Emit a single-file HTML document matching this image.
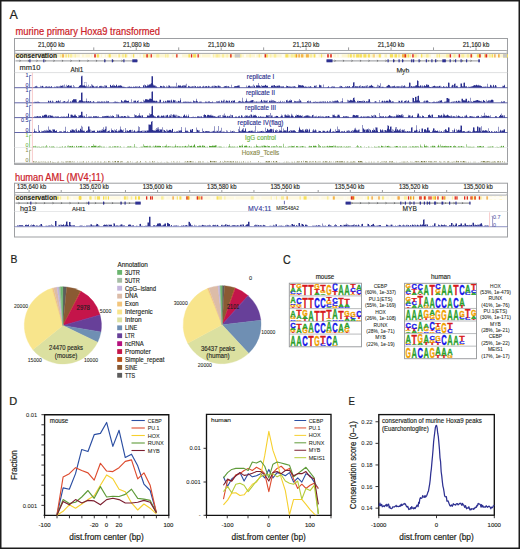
<!DOCTYPE html>
<html><head><meta charset="utf-8"><style>
html,body{margin:0;padding:0;background:#fff;}
svg{display:block;}
text{font-family:"Liberation Sans", sans-serif;}
text.t{stroke-linejoin:round;}
</style></head><body>
<svg width="520" height="549" viewBox="0 0 520 549">
<rect x="0" y="0" width="520" height="549" fill="#fff"/>
<text class="t" x="9.60" y="18.80" font-size="12.5" fill="#231f20" stroke="#231f20" stroke-width="0.22" text-anchor="start" >A</text>
<text class="t" x="10.60" y="263.30" font-size="11.5" fill="#231f20" stroke="#231f20" stroke-width="0.22" text-anchor="start" textLength="6.9" lengthAdjust="spacingAndGlyphs" >B</text>
<text class="t" x="282.90" y="263.60" font-size="12" fill="#231f20" stroke="#231f20" stroke-width="0.22" text-anchor="start" textLength="7.7" lengthAdjust="spacingAndGlyphs" >C</text>
<text class="t" x="9.20" y="404.70" font-size="11" fill="#231f20" stroke="#231f20" stroke-width="0.22" text-anchor="start" >D</text>
<text class="t" x="348.40" y="404.70" font-size="10.5" fill="#231f20" stroke="#231f20" stroke-width="0.22" text-anchor="start" textLength="6.4" lengthAdjust="spacingAndGlyphs" >E</text>
<text class="t" x="15.50" y="34.90" font-size="10.2" fill="#cc2229" stroke="#cc2229" stroke-width="0.22" text-anchor="start" textLength="144.5" lengthAdjust="spacingAndGlyphs" >murine primary Hoxa9 transformed</text>
<line x1="14.50" y1="164.00" x2="507.50" y2="164.00" stroke="#a0a2a5" stroke-width="1.4" />
<rect x="14.50" y="38.50" width="493.00" height="125.70" fill="none" stroke="#9d9fa2" stroke-width="1" />
<text class="t" x="51.30" y="46.60" font-size="6.4" fill="#231f20" stroke="#231f20" stroke-width="0.14" text-anchor="middle" textLength="26.5" lengthAdjust="spacingAndGlyphs" >21,060 kb</text>
<text class="t" x="136.30" y="46.60" font-size="6.4" fill="#231f20" stroke="#231f20" stroke-width="0.14" text-anchor="middle" textLength="26.5" lengthAdjust="spacingAndGlyphs" >21,080 kb</text>
<text class="t" x="221.20" y="46.60" font-size="6.4" fill="#231f20" stroke="#231f20" stroke-width="0.14" text-anchor="middle" textLength="26.5" lengthAdjust="spacingAndGlyphs" >21,100 kb</text>
<text class="t" x="306.10" y="46.60" font-size="6.4" fill="#231f20" stroke="#231f20" stroke-width="0.14" text-anchor="middle" textLength="26.5" lengthAdjust="spacingAndGlyphs" >21,120 kb</text>
<text class="t" x="391.00" y="46.60" font-size="6.4" fill="#231f20" stroke="#231f20" stroke-width="0.14" text-anchor="middle" textLength="26.5" lengthAdjust="spacingAndGlyphs" >21,140 kb</text>
<text class="t" x="476.00" y="46.60" font-size="6.4" fill="#231f20" stroke="#231f20" stroke-width="0.14" text-anchor="middle" textLength="26.5" lengthAdjust="spacingAndGlyphs" >21,160 kb</text>
<line x1="51.30" y1="47.40" x2="51.30" y2="50.00" stroke="#808285" stroke-width="0.8" />
<line x1="93.77" y1="47.40" x2="93.77" y2="50.00" stroke="#808285" stroke-width="0.8" />
<line x1="136.24" y1="47.40" x2="136.24" y2="50.00" stroke="#808285" stroke-width="0.8" />
<line x1="178.71" y1="47.40" x2="178.71" y2="50.00" stroke="#808285" stroke-width="0.8" />
<line x1="221.18" y1="47.40" x2="221.18" y2="50.00" stroke="#808285" stroke-width="0.8" />
<line x1="263.65" y1="47.40" x2="263.65" y2="50.00" stroke="#808285" stroke-width="0.8" />
<line x1="306.12" y1="47.40" x2="306.12" y2="50.00" stroke="#808285" stroke-width="0.8" />
<line x1="348.59" y1="47.40" x2="348.59" y2="50.00" stroke="#808285" stroke-width="0.8" />
<line x1="391.06" y1="47.40" x2="391.06" y2="50.00" stroke="#808285" stroke-width="0.8" />
<line x1="433.53" y1="47.40" x2="433.53" y2="50.00" stroke="#808285" stroke-width="0.8" />
<line x1="476.00" y1="47.40" x2="476.00" y2="50.00" stroke="#808285" stroke-width="0.8" />
<rect x="14.50" y="50.50" width="493.00" height="2.90" rx="1.5" fill="#fff" stroke="#9d9fa2" stroke-width="0.9"/>
<rect x="15.00" y="54.20" width="492.00" height="3.30" fill="#fdf6d2" stroke="none" stroke-width="1" />
<rect x="15.50" y="54.20" width="1.00" height="3.30" fill="#faee9a" stroke="none" stroke-width="1" />
<rect x="19.00" y="54.20" width="1.00" height="3.30" fill="#faee9a" stroke="none" stroke-width="1" />
<rect x="20.30" y="54.20" width="1.00" height="3.30" fill="#faee9a" stroke="none" stroke-width="1" />
<rect x="24.90" y="54.20" width="0.80" height="3.30" fill="#faee9a" stroke="none" stroke-width="1" />
<rect x="26.50" y="54.20" width="2.00" height="3.30" fill="#fffdf2" stroke="none" stroke-width="1" />
<rect x="29.30" y="54.20" width="1.30" height="3.30" fill="#fffdf2" stroke="none" stroke-width="1" />
<rect x="33.10" y="54.20" width="2.00" height="3.30" fill="#fffdf2" stroke="none" stroke-width="1" />
<rect x="37.70" y="54.20" width="1.60" height="3.30" fill="#fffdf2" stroke="none" stroke-width="1" />
<rect x="44.60" y="54.20" width="1.60" height="3.30" fill="#faee9a" stroke="none" stroke-width="1" />
<rect x="50.30" y="54.20" width="2.50" height="3.30" fill="#fffdf2" stroke="none" stroke-width="1" />
<rect x="55.30" y="54.20" width="0.80" height="3.30" fill="#f7e05a" stroke="none" stroke-width="1" />
<rect x="60.20" y="54.20" width="1.30" height="3.30" fill="#faee9a" stroke="none" stroke-width="1" />
<rect x="62.30" y="54.20" width="0.80" height="3.30" fill="#f7e05a" stroke="none" stroke-width="1" />
<rect x="65.60" y="54.20" width="1.00" height="3.30" fill="#f7e05a" stroke="none" stroke-width="1" />
<rect x="68.10" y="54.20" width="0.80" height="3.30" fill="#f7e05a" stroke="none" stroke-width="1" />
<rect x="69.70" y="54.20" width="2.50" height="3.30" fill="#faee9a" stroke="none" stroke-width="1" />
<rect x="74.70" y="54.20" width="1.00" height="3.30" fill="#faee9a" stroke="none" stroke-width="1" />
<rect x="79.90" y="54.20" width="2.00" height="3.30" fill="#fffdf2" stroke="none" stroke-width="1" />
<rect x="84.40" y="54.20" width="1.00" height="3.30" fill="#fffdf2" stroke="none" stroke-width="1" />
<rect x="90.10" y="54.20" width="0.80" height="3.30" fill="#fffdf2" stroke="none" stroke-width="1" />
<rect x="92.40" y="54.20" width="3.00" height="3.30" fill="#fffdf2" stroke="none" stroke-width="1" />
<rect x="96.90" y="54.20" width="2.00" height="3.30" fill="#f7e05a" stroke="none" stroke-width="1" />
<rect x="99.70" y="54.20" width="1.00" height="3.30" fill="#fffdf2" stroke="none" stroke-width="1" />
<rect x="102.20" y="54.20" width="2.50" height="3.30" fill="#fffdf2" stroke="none" stroke-width="1" />
<rect x="106.20" y="54.20" width="1.00" height="3.30" fill="#fffdf2" stroke="none" stroke-width="1" />
<rect x="108.70" y="54.20" width="2.00" height="3.30" fill="#f7e05a" stroke="none" stroke-width="1" />
<rect x="117.30" y="54.20" width="1.00" height="3.30" fill="#fffdf2" stroke="none" stroke-width="1" />
<rect x="118.60" y="54.20" width="1.00" height="3.30" fill="#f7e05a" stroke="none" stroke-width="1" />
<rect x="122.10" y="54.20" width="2.00" height="3.30" fill="#faee9a" stroke="none" stroke-width="1" />
<rect x="124.90" y="54.20" width="1.60" height="3.30" fill="#f7e05a" stroke="none" stroke-width="1" />
<rect x="128.00" y="54.20" width="2.50" height="3.30" fill="#fffdf2" stroke="none" stroke-width="1" />
<rect x="133.00" y="54.20" width="1.30" height="3.30" fill="#f7e05a" stroke="none" stroke-width="1" />
<rect x="134.60" y="54.20" width="2.50" height="3.30" fill="#fffdf2" stroke="none" stroke-width="1" />
<rect x="137.40" y="54.20" width="2.00" height="3.30" fill="#fffdf2" stroke="none" stroke-width="1" />
<rect x="140.90" y="54.20" width="2.00" height="3.30" fill="#fffdf2" stroke="none" stroke-width="1" />
<rect x="143.20" y="54.20" width="1.00" height="3.30" fill="#faee9a" stroke="none" stroke-width="1" />
<rect x="144.50" y="54.20" width="1.00" height="3.30" fill="#faee9a" stroke="none" stroke-width="1" />
<rect x="147.00" y="54.20" width="3.00" height="3.30" fill="#faee9a" stroke="none" stroke-width="1" />
<rect x="156.30" y="54.20" width="3.00" height="3.30" fill="#faee9a" stroke="none" stroke-width="1" />
<rect x="165.10" y="54.20" width="1.30" height="3.30" fill="#faee9a" stroke="none" stroke-width="1" />
<rect x="167.20" y="54.20" width="1.30" height="3.30" fill="#faee9a" stroke="none" stroke-width="1" />
<rect x="169.30" y="54.20" width="2.50" height="3.30" fill="#fffdf2" stroke="none" stroke-width="1" />
<rect x="174.30" y="54.20" width="1.00" height="3.30" fill="#fffdf2" stroke="none" stroke-width="1" />
<rect x="177.80" y="54.20" width="1.00" height="3.30" fill="#fffdf2" stroke="none" stroke-width="1" />
<rect x="179.10" y="54.20" width="3.00" height="3.30" fill="#fffdf2" stroke="none" stroke-width="1" />
<rect x="188.40" y="54.20" width="1.60" height="3.30" fill="#f7e05a" stroke="none" stroke-width="1" />
<rect x="193.10" y="54.20" width="3.00" height="3.30" fill="#f7e05a" stroke="none" stroke-width="1" />
<rect x="196.90" y="54.20" width="1.30" height="3.30" fill="#fffdf2" stroke="none" stroke-width="1" />
<rect x="200.70" y="54.20" width="1.00" height="3.30" fill="#fffdf2" stroke="none" stroke-width="1" />
<rect x="210.50" y="54.20" width="2.00" height="3.30" fill="#fffdf2" stroke="none" stroke-width="1" />
<rect x="213.30" y="54.20" width="0.80" height="3.30" fill="#faee9a" stroke="none" stroke-width="1" />
<rect x="215.60" y="54.20" width="0.80" height="3.30" fill="#faee9a" stroke="none" stroke-width="1" />
<rect x="216.70" y="54.20" width="0.80" height="3.30" fill="#f7e05a" stroke="none" stroke-width="1" />
<rect x="218.30" y="54.20" width="1.30" height="3.30" fill="#faee9a" stroke="none" stroke-width="1" />
<rect x="222.10" y="54.20" width="2.00" height="3.30" fill="#faee9a" stroke="none" stroke-width="1" />
<rect x="226.60" y="54.20" width="1.00" height="3.30" fill="#faee9a" stroke="none" stroke-width="1" />
<rect x="230.10" y="54.20" width="0.80" height="3.30" fill="#f7e05a" stroke="none" stroke-width="1" />
<rect x="235.00" y="54.20" width="1.60" height="3.30" fill="#faee9a" stroke="none" stroke-width="1" />
<rect x="236.90" y="54.20" width="0.80" height="3.30" fill="#faee9a" stroke="none" stroke-width="1" />
<rect x="238.50" y="54.20" width="3.00" height="3.30" fill="#faee9a" stroke="none" stroke-width="1" />
<rect x="244.00" y="54.20" width="2.00" height="3.30" fill="#fffdf2" stroke="none" stroke-width="1" />
<rect x="249.60" y="54.20" width="1.00" height="3.30" fill="#faee9a" stroke="none" stroke-width="1" />
<rect x="255.00" y="54.20" width="1.30" height="3.30" fill="#fffdf2" stroke="none" stroke-width="1" />
<rect x="258.80" y="54.20" width="0.80" height="3.30" fill="#f7e05a" stroke="none" stroke-width="1" />
<rect x="262.10" y="54.20" width="2.00" height="3.30" fill="#fffdf2" stroke="none" stroke-width="1" />
<rect x="264.90" y="54.20" width="1.00" height="3.30" fill="#fffdf2" stroke="none" stroke-width="1" />
<rect x="266.20" y="54.20" width="1.60" height="3.30" fill="#f7e05a" stroke="none" stroke-width="1" />
<rect x="270.30" y="54.20" width="1.00" height="3.30" fill="#faee9a" stroke="none" stroke-width="1" />
<rect x="273.80" y="54.20" width="2.50" height="3.30" fill="#faee9a" stroke="none" stroke-width="1" />
<rect x="281.60" y="54.20" width="3.00" height="3.30" fill="#fffdf2" stroke="none" stroke-width="1" />
<rect x="285.40" y="54.20" width="2.50" height="3.30" fill="#f7e05a" stroke="none" stroke-width="1" />
<rect x="288.20" y="54.20" width="1.00" height="3.30" fill="#faee9a" stroke="none" stroke-width="1" />
<rect x="290.70" y="54.20" width="3.00" height="3.30" fill="#faee9a" stroke="none" stroke-width="1" />
<rect x="294.50" y="54.20" width="1.60" height="3.30" fill="#f7e05a" stroke="none" stroke-width="1" />
<rect x="298.60" y="54.20" width="0.80" height="3.30" fill="#faee9a" stroke="none" stroke-width="1" />
<rect x="300.90" y="54.20" width="2.50" height="3.30" fill="#f5b548" stroke="none" stroke-width="1" />
<rect x="305.90" y="54.20" width="3.00" height="3.30" fill="#f5b548" stroke="none" stroke-width="1" />
<rect x="309.70" y="54.20" width="2.50" height="3.30" fill="#faee9a" stroke="none" stroke-width="1" />
<rect x="313.70" y="54.20" width="1.60" height="3.30" fill="#f7e05a" stroke="none" stroke-width="1" />
<rect x="316.10" y="54.20" width="2.50" height="3.30" fill="#fffdf2" stroke="none" stroke-width="1" />
<rect x="321.10" y="54.20" width="1.00" height="3.30" fill="#f7e05a" stroke="none" stroke-width="1" />
<rect x="324.60" y="54.20" width="1.00" height="3.30" fill="#fffdf2" stroke="none" stroke-width="1" />
<rect x="325.90" y="54.20" width="3.00" height="3.30" fill="#fffdf2" stroke="none" stroke-width="1" />
<rect x="331.40" y="54.20" width="2.00" height="3.30" fill="#fffdf2" stroke="none" stroke-width="1" />
<rect x="335.90" y="54.20" width="1.30" height="3.30" fill="#fffdf2" stroke="none" stroke-width="1" />
<rect x="338.70" y="54.20" width="3.00" height="3.30" fill="#fffdf2" stroke="none" stroke-width="1" />
<rect x="347.70" y="54.20" width="1.30" height="3.30" fill="#faee9a" stroke="none" stroke-width="1" />
<rect x="349.80" y="54.20" width="2.00" height="3.30" fill="#f7e05a" stroke="none" stroke-width="1" />
<rect x="353.30" y="54.20" width="1.30" height="3.30" fill="#f7e05a" stroke="none" stroke-width="1" />
<rect x="356.10" y="54.20" width="3.00" height="3.30" fill="#f7e05a" stroke="none" stroke-width="1" />
<rect x="359.40" y="54.20" width="2.50" height="3.30" fill="#f7e05a" stroke="none" stroke-width="1" />
<rect x="363.40" y="54.20" width="3.00" height="3.30" fill="#f7e05a" stroke="none" stroke-width="1" />
<rect x="367.90" y="54.20" width="2.00" height="3.30" fill="#f7e05a" stroke="none" stroke-width="1" />
<rect x="372.40" y="54.20" width="0.80" height="3.30" fill="#faee9a" stroke="none" stroke-width="1" />
<rect x="373.50" y="54.20" width="1.00" height="3.30" fill="#f5b548" stroke="none" stroke-width="1" />
<rect x="375.30" y="54.20" width="0.80" height="3.30" fill="#fffdf2" stroke="none" stroke-width="1" />
<rect x="378.80" y="54.20" width="2.00" height="3.30" fill="#f7e05a" stroke="none" stroke-width="1" />
<rect x="381.60" y="54.20" width="2.50" height="3.30" fill="#fffdf2" stroke="none" stroke-width="1" />
<rect x="385.60" y="54.20" width="0.80" height="3.30" fill="#faee9a" stroke="none" stroke-width="1" />
<rect x="387.20" y="54.20" width="2.00" height="3.30" fill="#fffdf2" stroke="none" stroke-width="1" />
<rect x="390.00" y="54.20" width="3.00" height="3.30" fill="#f7e05a" stroke="none" stroke-width="1" />
<rect x="394.50" y="54.20" width="2.50" height="3.30" fill="#f7e05a" stroke="none" stroke-width="1" />
<rect x="398.50" y="54.20" width="1.00" height="3.30" fill="#f7e05a" stroke="none" stroke-width="1" />
<rect x="402.00" y="54.20" width="3.00" height="3.30" fill="#f5b548" stroke="none" stroke-width="1" />
<rect x="405.30" y="54.20" width="2.00" height="3.30" fill="#faee9a" stroke="none" stroke-width="1" />
<rect x="407.60" y="54.20" width="1.60" height="3.30" fill="#f7e05a" stroke="none" stroke-width="1" />
<rect x="410.00" y="54.20" width="1.00" height="3.30" fill="#faee9a" stroke="none" stroke-width="1" />
<rect x="411.80" y="54.20" width="1.60" height="3.30" fill="#fffdf2" stroke="none" stroke-width="1" />
<rect x="414.20" y="54.20" width="2.50" height="3.30" fill="#faee9a" stroke="none" stroke-width="1" />
<rect x="419.20" y="54.20" width="1.00" height="3.30" fill="#fffdf2" stroke="none" stroke-width="1" />
<rect x="421.00" y="54.20" width="1.30" height="3.30" fill="#f7e05a" stroke="none" stroke-width="1" />
<rect x="426.10" y="54.20" width="2.50" height="3.30" fill="#faee9a" stroke="none" stroke-width="1" />
<rect x="431.10" y="54.20" width="3.00" height="3.30" fill="#fffdf2" stroke="none" stroke-width="1" />
<rect x="434.40" y="54.20" width="1.30" height="3.30" fill="#fffdf2" stroke="none" stroke-width="1" />
<rect x="436.50" y="54.20" width="1.60" height="3.30" fill="#faee9a" stroke="none" stroke-width="1" />
<rect x="438.90" y="54.20" width="0.80" height="3.30" fill="#f7e05a" stroke="none" stroke-width="1" />
<rect x="446.20" y="54.20" width="3.00" height="3.30" fill="#faee9a" stroke="none" stroke-width="1" />
<rect x="449.50" y="54.20" width="2.50" height="3.30" fill="#fffdf2" stroke="none" stroke-width="1" />
<rect x="453.50" y="54.20" width="2.00" height="3.30" fill="#faee9a" stroke="none" stroke-width="1" />
<rect x="458.00" y="54.20" width="2.50" height="3.30" fill="#fffdf2" stroke="none" stroke-width="1" />
<rect x="461.30" y="54.20" width="3.00" height="3.30" fill="#faee9a" stroke="none" stroke-width="1" />
<rect x="466.80" y="54.20" width="2.50" height="3.30" fill="#faee9a" stroke="none" stroke-width="1" />
<rect x="470.80" y="54.20" width="2.00" height="3.30" fill="#faee9a" stroke="none" stroke-width="1" />
<rect x="473.60" y="54.20" width="2.00" height="3.30" fill="#fffdf2" stroke="none" stroke-width="1" />
<rect x="477.10" y="54.20" width="3.00" height="3.30" fill="#f7e05a" stroke="none" stroke-width="1" />
<rect x="482.60" y="54.20" width="1.30" height="3.30" fill="#fffdf2" stroke="none" stroke-width="1" />
<rect x="484.20" y="54.20" width="0.80" height="3.30" fill="#f7e05a" stroke="none" stroke-width="1" />
<rect x="488.80" y="54.20" width="2.00" height="3.30" fill="#faee9a" stroke="none" stroke-width="1" />
<rect x="491.60" y="54.20" width="1.60" height="3.30" fill="#f7e05a" stroke="none" stroke-width="1" />
<rect x="493.50" y="54.20" width="3.00" height="3.30" fill="#fffdf2" stroke="none" stroke-width="1" />
<rect x="497.30" y="54.20" width="1.60" height="3.30" fill="#fffdf2" stroke="none" stroke-width="1" />
<rect x="499.20" y="54.20" width="0.80" height="3.30" fill="#faee9a" stroke="none" stroke-width="1" />
<rect x="503.10" y="54.20" width="2.00" height="3.30" fill="#f7e05a" stroke="none" stroke-width="1" />
<rect x="505.40" y="54.20" width="2.50" height="3.30" fill="#f7e05a" stroke="none" stroke-width="1" />
<rect x="62.50" y="54.20" width="1.20" height="3.30" fill="#f09a2a" stroke="none" stroke-width="1" />
<rect x="94.20" y="54.20" width="1.60" height="3.30" fill="#e0281c" stroke="none" stroke-width="1" />
<rect x="146.30" y="54.20" width="1.50" height="3.30" fill="#e0281c" stroke="none" stroke-width="1" />
<rect x="150.60" y="54.20" width="1.30" height="3.30" fill="#e0281c" stroke="none" stroke-width="1" />
<rect x="176.20" y="54.20" width="1.30" height="3.30" fill="#e0281c" stroke="none" stroke-width="1" />
<rect x="190.90" y="54.20" width="1.30" height="3.30" fill="#e0281c" stroke="none" stroke-width="1" />
<rect x="197.50" y="54.20" width="1.30" height="3.30" fill="#e0281c" stroke="none" stroke-width="1" />
<rect x="230.20" y="54.20" width="1.40" height="3.30" fill="#e0281c" stroke="none" stroke-width="1" />
<rect x="234.70" y="54.20" width="5.50" height="3.30" fill="#c8c8c8" stroke="none" stroke-width="1" />
<rect x="264.60" y="54.20" width="1.50" height="3.30" fill="#e0281c" stroke="none" stroke-width="1" />
<rect x="296.00" y="54.20" width="1.20" height="3.30" fill="#f09a2a" stroke="none" stroke-width="1" />
<rect x="298.50" y="54.20" width="1.20" height="3.30" fill="#f09a2a" stroke="none" stroke-width="1" />
<rect x="327.20" y="54.20" width="1.60" height="3.30" fill="#e0281c" stroke="none" stroke-width="1" />
<rect x="330.20" y="54.20" width="1.60" height="3.30" fill="#e0281c" stroke="none" stroke-width="1" />
<rect x="404.60" y="54.20" width="1.50" height="3.30" fill="#e0281c" stroke="none" stroke-width="1" />
<rect x="412.20" y="54.20" width="1.50" height="3.30" fill="#e0281c" stroke="none" stroke-width="1" />
<rect x="449.60" y="54.20" width="1.50" height="3.30" fill="#e0281c" stroke="none" stroke-width="1" />
<rect x="458.60" y="54.20" width="1.50" height="3.30" fill="#e0281c" stroke="none" stroke-width="1" />
<rect x="470.50" y="54.20" width="1.40" height="3.30" fill="#e0281c" stroke="none" stroke-width="1" />
<rect x="479.20" y="54.20" width="1.50" height="3.30" fill="#e0281c" stroke="none" stroke-width="1" />
<rect x="485.40" y="54.20" width="1.80" height="3.30" fill="#e0281c" stroke="none" stroke-width="1" />
<rect x="494.30" y="54.20" width="1.20" height="3.30" fill="#f09a2a" stroke="none" stroke-width="1" />
<rect x="498.20" y="54.20" width="1.20" height="3.30" fill="#f09a2a" stroke="none" stroke-width="1" />
<rect x="503.00" y="54.20" width="4.00" height="3.30" fill="#c8c8c8" stroke="none" stroke-width="1" />
<text class="t" x="15.80" y="57.90" font-size="7.3" fill="#231f20" stroke="#231f20" stroke-width="0.14" text-anchor="start" font-weight="bold" textLength="41.2" lengthAdjust="spacingAndGlyphs" >conservation</text>
<line x1="15.50" y1="60.80" x2="138.00" y2="60.80" stroke="#a7a9ac" stroke-width="1.3" />
<line x1="19.40" y1="60.00" x2="20.60" y2="60.80" stroke="#58595b" stroke-width="0.6" />
<line x1="19.40" y1="61.60" x2="20.60" y2="60.80" stroke="#58595b" stroke-width="0.6" />
<line x1="27.90" y1="60.00" x2="29.10" y2="60.80" stroke="#58595b" stroke-width="0.6" />
<line x1="27.90" y1="61.60" x2="29.10" y2="60.80" stroke="#58595b" stroke-width="0.6" />
<line x1="36.40" y1="60.00" x2="37.60" y2="60.80" stroke="#58595b" stroke-width="0.6" />
<line x1="36.40" y1="61.60" x2="37.60" y2="60.80" stroke="#58595b" stroke-width="0.6" />
<line x1="44.90" y1="60.00" x2="46.10" y2="60.80" stroke="#58595b" stroke-width="0.6" />
<line x1="44.90" y1="61.60" x2="46.10" y2="60.80" stroke="#58595b" stroke-width="0.6" />
<line x1="53.40" y1="60.00" x2="54.60" y2="60.80" stroke="#58595b" stroke-width="0.6" />
<line x1="53.40" y1="61.60" x2="54.60" y2="60.80" stroke="#58595b" stroke-width="0.6" />
<line x1="61.90" y1="60.00" x2="63.10" y2="60.80" stroke="#58595b" stroke-width="0.6" />
<line x1="61.90" y1="61.60" x2="63.10" y2="60.80" stroke="#58595b" stroke-width="0.6" />
<line x1="70.40" y1="60.00" x2="71.60" y2="60.80" stroke="#58595b" stroke-width="0.6" />
<line x1="70.40" y1="61.60" x2="71.60" y2="60.80" stroke="#58595b" stroke-width="0.6" />
<line x1="78.90" y1="60.00" x2="80.10" y2="60.80" stroke="#58595b" stroke-width="0.6" />
<line x1="78.90" y1="61.60" x2="80.10" y2="60.80" stroke="#58595b" stroke-width="0.6" />
<line x1="87.40" y1="60.00" x2="88.60" y2="60.80" stroke="#58595b" stroke-width="0.6" />
<line x1="87.40" y1="61.60" x2="88.60" y2="60.80" stroke="#58595b" stroke-width="0.6" />
<line x1="95.90" y1="60.00" x2="97.10" y2="60.80" stroke="#58595b" stroke-width="0.6" />
<line x1="95.90" y1="61.60" x2="97.10" y2="60.80" stroke="#58595b" stroke-width="0.6" />
<line x1="104.40" y1="60.00" x2="105.60" y2="60.80" stroke="#58595b" stroke-width="0.6" />
<line x1="104.40" y1="61.60" x2="105.60" y2="60.80" stroke="#58595b" stroke-width="0.6" />
<line x1="112.90" y1="60.00" x2="114.10" y2="60.80" stroke="#58595b" stroke-width="0.6" />
<line x1="112.90" y1="61.60" x2="114.10" y2="60.80" stroke="#58595b" stroke-width="0.6" />
<line x1="121.40" y1="60.00" x2="122.60" y2="60.80" stroke="#58595b" stroke-width="0.6" />
<line x1="121.40" y1="61.60" x2="122.60" y2="60.80" stroke="#58595b" stroke-width="0.6" />
<rect x="29.30" y="59.30" width="1.20" height="3.00" fill="#2e3192" stroke="none" stroke-width="1" />
<rect x="43.20" y="59.30" width="1.20" height="3.00" fill="#2e3192" stroke="none" stroke-width="1" />
<rect x="104.20" y="59.30" width="1.20" height="3.00" fill="#2e3192" stroke="none" stroke-width="1" />
<rect x="111.80" y="59.30" width="1.20" height="3.00" fill="#2e3192" stroke="none" stroke-width="1" />
<rect x="123.30" y="59.30" width="1.20" height="3.00" fill="#2e3192" stroke="none" stroke-width="1" />
<rect x="132.30" y="59.30" width="5.00" height="3.00" fill="#2e3192" stroke="none" stroke-width="1" />
<line x1="326.50" y1="60.80" x2="480.00" y2="60.80" stroke="#a7a9ac" stroke-width="1.3" />
<line x1="334.40" y1="60.00" x2="335.60" y2="60.80" stroke="#58595b" stroke-width="0.6" />
<line x1="334.40" y1="61.60" x2="335.60" y2="60.80" stroke="#58595b" stroke-width="0.6" />
<line x1="342.90" y1="60.00" x2="344.10" y2="60.80" stroke="#58595b" stroke-width="0.6" />
<line x1="342.90" y1="61.60" x2="344.10" y2="60.80" stroke="#58595b" stroke-width="0.6" />
<line x1="351.40" y1="60.00" x2="352.60" y2="60.80" stroke="#58595b" stroke-width="0.6" />
<line x1="351.40" y1="61.60" x2="352.60" y2="60.80" stroke="#58595b" stroke-width="0.6" />
<line x1="359.90" y1="60.00" x2="361.10" y2="60.80" stroke="#58595b" stroke-width="0.6" />
<line x1="359.90" y1="61.60" x2="361.10" y2="60.80" stroke="#58595b" stroke-width="0.6" />
<line x1="368.40" y1="60.00" x2="369.60" y2="60.80" stroke="#58595b" stroke-width="0.6" />
<line x1="368.40" y1="61.60" x2="369.60" y2="60.80" stroke="#58595b" stroke-width="0.6" />
<line x1="376.90" y1="60.00" x2="378.10" y2="60.80" stroke="#58595b" stroke-width="0.6" />
<line x1="376.90" y1="61.60" x2="378.10" y2="60.80" stroke="#58595b" stroke-width="0.6" />
<line x1="385.40" y1="60.00" x2="386.60" y2="60.80" stroke="#58595b" stroke-width="0.6" />
<line x1="385.40" y1="61.60" x2="386.60" y2="60.80" stroke="#58595b" stroke-width="0.6" />
<line x1="393.90" y1="60.00" x2="395.10" y2="60.80" stroke="#58595b" stroke-width="0.6" />
<line x1="393.90" y1="61.60" x2="395.10" y2="60.80" stroke="#58595b" stroke-width="0.6" />
<line x1="402.40" y1="60.00" x2="403.60" y2="60.80" stroke="#58595b" stroke-width="0.6" />
<line x1="402.40" y1="61.60" x2="403.60" y2="60.80" stroke="#58595b" stroke-width="0.6" />
<line x1="410.90" y1="60.00" x2="412.10" y2="60.80" stroke="#58595b" stroke-width="0.6" />
<line x1="410.90" y1="61.60" x2="412.10" y2="60.80" stroke="#58595b" stroke-width="0.6" />
<line x1="419.40" y1="60.00" x2="420.60" y2="60.80" stroke="#58595b" stroke-width="0.6" />
<line x1="419.40" y1="61.60" x2="420.60" y2="60.80" stroke="#58595b" stroke-width="0.6" />
<line x1="427.90" y1="60.00" x2="429.10" y2="60.80" stroke="#58595b" stroke-width="0.6" />
<line x1="427.90" y1="61.60" x2="429.10" y2="60.80" stroke="#58595b" stroke-width="0.6" />
<line x1="436.40" y1="60.00" x2="437.60" y2="60.80" stroke="#58595b" stroke-width="0.6" />
<line x1="436.40" y1="61.60" x2="437.60" y2="60.80" stroke="#58595b" stroke-width="0.6" />
<line x1="444.90" y1="60.00" x2="446.10" y2="60.80" stroke="#58595b" stroke-width="0.6" />
<line x1="444.90" y1="61.60" x2="446.10" y2="60.80" stroke="#58595b" stroke-width="0.6" />
<line x1="453.40" y1="60.00" x2="454.60" y2="60.80" stroke="#58595b" stroke-width="0.6" />
<line x1="453.40" y1="61.60" x2="454.60" y2="60.80" stroke="#58595b" stroke-width="0.6" />
<line x1="461.90" y1="60.00" x2="463.10" y2="60.80" stroke="#58595b" stroke-width="0.6" />
<line x1="461.90" y1="61.60" x2="463.10" y2="60.80" stroke="#58595b" stroke-width="0.6" />
<line x1="470.40" y1="60.00" x2="471.60" y2="60.80" stroke="#58595b" stroke-width="0.6" />
<line x1="470.40" y1="61.60" x2="471.60" y2="60.80" stroke="#58595b" stroke-width="0.6" />
<rect x="326.50" y="59.30" width="6.00" height="3.00" fill="#2e3192" stroke="none" stroke-width="1" />
<rect x="387.50" y="59.30" width="1.20" height="3.00" fill="#2e3192" stroke="none" stroke-width="1" />
<rect x="393.00" y="59.30" width="1.20" height="3.00" fill="#2e3192" stroke="none" stroke-width="1" />
<rect x="398.50" y="59.30" width="1.20" height="3.00" fill="#2e3192" stroke="none" stroke-width="1" />
<rect x="402.00" y="59.30" width="1.20" height="3.00" fill="#2e3192" stroke="none" stroke-width="1" />
<rect x="411.20" y="59.30" width="1.20" height="3.00" fill="#2e3192" stroke="none" stroke-width="1" />
<rect x="413.00" y="59.30" width="1.20" height="3.00" fill="#2e3192" stroke="none" stroke-width="1" />
<rect x="418.50" y="59.30" width="1.20" height="3.00" fill="#2e3192" stroke="none" stroke-width="1" />
<rect x="425.80" y="59.30" width="1.20" height="3.00" fill="#2e3192" stroke="none" stroke-width="1" />
<rect x="431.30" y="59.30" width="1.20" height="3.00" fill="#2e3192" stroke="none" stroke-width="1" />
<rect x="435.00" y="59.30" width="1.20" height="3.00" fill="#2e3192" stroke="none" stroke-width="1" />
<rect x="449.60" y="59.30" width="1.20" height="3.00" fill="#2e3192" stroke="none" stroke-width="1" />
<rect x="455.00" y="59.30" width="1.20" height="3.00" fill="#2e3192" stroke="none" stroke-width="1" />
<rect x="460.50" y="59.30" width="1.20" height="3.00" fill="#2e3192" stroke="none" stroke-width="1" />
<rect x="466.00" y="59.30" width="1.20" height="3.00" fill="#2e3192" stroke="none" stroke-width="1" />
<rect x="442.30" y="59.30" width="3.50" height="3.00" fill="#2e3192" stroke="none" stroke-width="1" />
<rect x="478.30" y="59.30" width="1.50" height="3.00" fill="#2e3192" stroke="none" stroke-width="1" />
<text class="t" x="19.60" y="69.90" font-size="7.8" fill="#231f20" stroke="#231f20" stroke-width="0.14" text-anchor="start" textLength="20.8" lengthAdjust="spacingAndGlyphs" >mm10</text>
<text class="t" x="70.40" y="72.30" font-size="6.4" fill="#231f20" stroke="#231f20" stroke-width="0.14" text-anchor="start" >Ahi1</text>
<text class="t" x="396.40" y="72.80" font-size="6.8" fill="#231f20" stroke="#231f20" stroke-width="0.14" text-anchor="start" >Myb</text>
<line x1="14.50" y1="72.60" x2="507.50" y2="72.60" stroke="#d1d3d4" stroke-width="0.7" />
<line x1="14.50" y1="87.70" x2="507.50" y2="87.70" stroke="#3b3f95" stroke-width="0.8" />
<path d="M33.0 87.50V87.50H33.5H34.0H34.5V86.87H35.0V85.94H35.5V86.69H36.0V85.63H36.5V86.62H37.0V86.57H37.5V87.50H38.0H38.5H39.0H39.5H40.0H40.5V85.76H41.0V87.50H41.5V85.95H42.0V85.87H42.5V86.11H43.0V86.59H43.5V87.50H44.0H44.5H45.0V87.06H45.5V86.20H46.0V86.28H46.5V86.41H47.0V86.56H47.5V86.90H48.0V86.39H48.5V86.83H49.0V86.20H49.5V86.76H50.0V86.77H50.5V86.93H51.0V85.92H51.5V86.61H52.0V87.50H52.5H53.0H53.5H54.0H54.5V86.56H55.0V86.69H55.5V87.50H56.0H56.5V85.97H57.0V86.80H57.5V86.26H58.0V86.23H58.5V87.50H59.0H59.5V86.00H60.0V85.56H60.5V86.40H61.0V85.72H61.5V86.12H62.0V86.23H62.5V85.09H63.0V85.42H63.5V87.50H64.0H64.5V84.57H65.0V87.50H65.5V86.54H66.0V84.69H66.5V87.50H67.0V85.85H67.5V86.03H68.0V85.16H68.5V85.11H69.0V86.58H69.5V85.57H70.0V85.86H70.5V85.67H71.0V86.44H71.5V85.26H72.0V87.50H72.5H73.0H73.5V85.08H74.0V86.15H74.5V87.50H75.0H75.5H76.0H76.5H77.0H77.5H78.0V86.97H78.5V86.66H79.0V86.07H79.5V85.51H80.0V85.14H80.5V84.98H81.0V75.79H81.5V76.52H82.0V75.72H82.5V85.56H83.0V86.06H83.5V84.93H84.0V85.83H84.5V85.06H85.0V86.28H85.5V86.22H86.0V87.50H86.5V85.46H87.0V86.27H87.5V87.50H88.0V84.74H88.5V87.50H89.0H89.5V86.39H90.0V85.99H90.5V86.87H91.0V84.26H91.5V87.50H92.0V84.85H92.5V85.87H93.0V86.29H93.5V85.71H94.0V86.47H94.5V87.50H95.0V86.20H95.5V87.50H96.0V86.48H96.5V86.29H97.0V85.64H97.5V87.50H98.0H98.5H99.0V86.28H99.5V86.16H100.0V85.77H100.5V86.34H101.0V85.75H101.5V86.44H102.0V87.50H102.5V86.08H103.0V86.55H103.5V86.87H104.0V87.50H104.5V85.33H105.0V86.42H105.5V85.28H106.0V85.54H106.5V85.79H107.0V87.50H107.5H108.0H108.5H109.0H109.5H110.0V84.80H110.5V85.10H111.0V86.20H111.5V86.10H112.0V84.91H112.5V85.80H113.0V86.31H113.5V84.62H114.0V86.10H114.5V84.94H115.0V86.12H115.5V86.31H116.0V84.57H116.5V85.04H117.0V85.91H117.5V86.87H118.0V85.36H118.5V85.91H119.0V85.94H119.5V85.34H120.0V84.93H120.5V85.65H121.0V85.59H121.5V86.00H122.0V86.56H122.5V86.74H123.0V86.53H123.5V86.99H124.0V86.82H124.5V87.14H125.0V86.94H125.5V87.50H126.0H126.5H127.0H127.5V86.76H128.0V87.06H128.5V86.52H129.0V86.36H129.5V86.71H130.0V86.63H130.5V86.98H131.0V86.98H131.5V86.41H132.0V87.50H132.5V87.02H133.0V86.72H133.5V86.38H134.0V87.05H134.5V86.65H135.0V86.33H135.5V86.72H136.0V86.60H136.5V86.85H137.0V86.32H137.5V87.50H138.0V86.43H138.5V86.92H139.0V86.30H139.5V86.35H140.0V86.95H140.5V87.50H141.0H141.5H142.0H142.5H143.0V85.02H143.5V85.72H144.0V87.50H144.5V84.57H145.0V85.28H145.5V85.32H146.0V86.13H146.5V86.21H147.0V84.48H147.5V85.63H148.0V85.58H148.5V84.81H149.0V84.45H149.5V84.61H150.0V84.40H150.5V83.85H151.0V83.33H151.5V76.18H152.0V76.33H152.5V76.17H153.0V84.55H153.5V85.38H154.0V85.58H154.5V85.58H155.0V85.42H155.5V86.42H156.0V86.04H156.5V86.97H157.0V87.20H157.5V87.50H158.0H158.5H159.0H159.5H160.0V85.93H160.5V85.73H161.0V86.20H161.5V85.89H162.0V86.28H162.5V87.50H163.0V85.58H163.5V86.46H164.0V86.57H164.5V86.16H165.0V87.50H165.5H166.0H166.5V85.64H167.0V86.62H167.5V87.50H168.0V85.36H168.5V86.75H169.0V85.41H169.5V85.85H170.0V86.57H170.5V86.71H171.0V87.50H171.5V86.17H172.0V87.50H172.5V86.27H173.0V86.98H173.5V86.20H174.0V86.32H174.5V87.50H175.0V86.96H175.5V86.20H176.0V82.68H176.5V86.96H177.0V86.21H177.5V87.50H178.0V85.03H178.5V85.67H179.0V85.40H179.5V85.70H180.0V85.60H180.5V85.57H181.0V86.41H181.5V86.27H182.0V85.59H182.5V85.68H183.0V85.05H183.5V86.46H184.0V85.03H184.5V86.16H185.0V86.05H185.5V84.86H186.0V87.50H186.5V83.63H187.0V87.50H187.5H188.0V86.36H188.5V85.67H189.0V86.39H189.5V86.18H190.0V86.74H190.5V86.74H191.0V86.44H191.5V86.75H192.0V86.85H192.5V85.92H193.0V86.11H193.5V87.50H194.0H194.5V85.83H195.0V86.13H195.5V86.02H196.0V87.50H196.5V86.88H197.0V86.84H197.5V86.21H198.0V86.47H198.5V86.93H199.0V86.26H199.5V86.75H200.0V86.52H200.5V86.24H201.0V87.50H201.5H202.0V86.62H202.5V86.64H203.0V86.58H203.5V85.86H204.0V87.50H204.5V86.43H205.0V86.86H205.5V86.01H206.0V86.03H206.5V86.19H207.0V87.50H207.5V86.50H208.0V85.86H208.5V86.14H209.0V86.00H209.5V87.50H210.0V86.86H210.5V87.50H211.0H211.5V86.25H212.0V86.55H212.5V85.84H213.0V85.79H213.5V87.50H214.0V85.61H214.5V86.78H215.0V85.77H215.5V86.05H216.0V86.25H216.5V86.35H217.0V85.66H217.5V87.50H218.0V85.49H218.5V85.63H219.0V86.42H219.5V85.87H220.0V86.02H220.5V87.50H221.0H221.5H222.0H222.5H223.0H223.5V86.77H224.0V86.53H224.5V86.34H225.0V86.02H225.5V86.26H226.0V86.40H226.5V85.82H227.0V86.12H227.5V87.50H228.0V85.96H228.5V86.57H229.0V86.71H229.5V87.50H230.0H230.5H231.0H231.5V84.69H232.0V87.50H232.5H233.0H233.5H234.0V86.13H234.5V86.38H235.0V86.34H235.5V86.11H236.0V86.07H236.5V86.22H237.0V85.50H237.5V85.88H238.0V85.31H238.5V85.73H239.0V85.30H239.5V86.68H240.0V87.50H240.5H241.0H241.5H242.0H242.5H243.0H243.5H244.0H244.5H245.0H245.5H246.0H246.5V85.44H247.0V86.80H247.5V87.50H248.0V85.76H248.5V85.70H249.0V85.47H249.5V85.78H250.0V86.20H250.5V86.66H251.0V85.95H251.5V87.50H252.0H252.5V85.71H253.0V84.58H253.5V87.50H254.0V85.80H254.5V85.75H255.0V87.50H255.5H256.0V85.38H256.5V85.26H257.0V85.54H257.5V85.58H258.0V83.05H258.5V85.50H259.0V85.66H259.5V85.62H260.0V86.65H260.5V86.21H261.0V87.50H261.5V84.96H262.0V85.66H262.5V86.01H263.0V85.89H263.5V85.58H264.0V85.93H264.5V85.54H265.0V84.83H265.5V84.98H266.0V86.08H266.5V85.61H267.0V85.67H267.5V85.82H268.0V87.50H268.5H269.0H269.5H270.0H270.5H271.0V85.80H271.5V85.75H272.0V85.91H272.5V85.17H273.0V85.04H273.5V86.51H274.0V84.98H274.5V85.22H275.0V86.22H275.5V85.90H276.0V86.59H276.5V85.87H277.0V86.07H277.5V85.44H278.0V85.37H278.5V86.17H279.0V84.98H279.5V86.07H280.0V87.50H280.5V85.99H281.0V86.83H281.5V86.37H282.0V86.56H282.5V86.55H283.0V86.45H283.5V86.17H284.0V87.50H284.5H285.0H285.5H286.0V85.44H286.5V86.60H287.0V86.11H287.5V86.12H288.0V86.80H288.5V86.24H289.0V86.41H289.5V86.44H290.0V86.88H290.5V86.24H291.0V86.39H291.5V86.95H292.0V86.27H292.5V87.50H293.0V86.57H293.5V86.40H294.0V86.26H294.5V86.27H295.0V86.68H295.5V86.70H296.0V87.50H296.5H297.0H297.5H298.0V85.42H298.5V84.39H299.0V85.35H299.5V84.90H300.0V85.24H300.5V85.14H301.0V85.02H301.5V86.01H302.0V85.33H302.5V85.32H303.0V85.53H303.5V85.93H304.0V86.62H304.5V86.98H305.0V86.85H305.5V86.34H306.0V86.47H306.5V87.03H307.0V86.79H307.5V87.50H308.0H308.5V86.34H309.0V86.47H309.5V87.02H310.0V86.08H310.5V86.48H311.0V86.78H311.5V87.50H312.0H312.5H313.0H313.5H314.0V85.92H314.5V85.43H315.0V86.42H315.5V85.51H316.0V85.34H316.5V87.50H317.0H317.5H318.0H318.5H319.0V85.37H319.5V84.61H320.0V85.14H320.5V85.22H321.0V85.59H321.5V87.50H322.0H322.5H323.0H323.5V84.62H324.0V87.50H324.5H325.0H325.5H326.0H326.5H327.0V86.88H327.5V87.50H328.0V86.53H328.5V86.28H329.0V87.50H329.5H330.0H330.5H331.0V86.93H331.5V86.41H332.0V87.50H332.5V86.05H333.0V86.37H333.5V86.89H334.0V86.43H334.5V86.65H335.0V87.50H335.5H336.0H336.5H337.0H337.5H338.0H338.5H339.0H339.5V86.25H340.0V85.80H340.5V86.73H341.0V86.32H341.5V85.97H342.0V86.84H342.5V86.95H343.0V87.50H343.5H344.0H344.5V86.93H345.0V87.50H345.5V86.10H346.0V86.85H346.5V86.77H347.0V85.97H347.5V86.45H348.0V86.61H348.5V86.79H349.0V86.13H349.5V86.02H350.0V87.50H350.5H351.0H351.5H352.0V86.19H352.5V86.25H353.0V82.39H353.5V82.25H354.0V82.27H354.5V87.50H355.0V85.97H355.5V86.58H356.0V85.95H356.5V86.75H357.0V86.18H357.5V86.43H358.0V86.33H358.5V87.50H359.0V86.14H359.5V85.86H360.0V87.50H360.5V85.33H361.0V87.50H361.5V86.26H362.0V86.30H362.5V85.95H363.0V86.51H363.5V86.41H364.0V86.39H364.5V86.31H365.0V85.65H365.5V87.50H366.0V85.50H366.5V86.62H367.0V85.08H367.5V87.50H368.0H368.5V86.58H369.0V86.24H369.5V85.86H370.0V85.73H370.5V85.84H371.0V84.82H371.5V85.31H372.0V85.80H372.5V86.00H373.0V87.50H373.5V86.22H374.0V86.82H374.5V87.50H375.0H375.5H376.0H376.5V86.80H377.0V84.64H377.5V87.50H378.0H378.5V85.33H379.0V85.97H379.5V85.79H380.0V83.20H380.5V87.50H381.0H381.5V86.70H382.0V86.67H382.5V86.74H383.0V86.83H383.5V87.50H384.0H384.5H385.0H385.5H386.0H386.5V85.89H387.0V85.94H387.5V85.62H388.0V85.11H388.5V84.82H389.0V84.99H389.5V85.54H390.0V86.30H390.5V86.63H391.0V86.30H391.5V87.50H392.0V86.31H392.5V86.59H393.0V86.34H393.5V86.21H394.0V86.15H394.5V85.43H395.0V86.78H395.5V86.78H396.0V87.50H396.5V85.92H397.0V86.39H397.5V86.31H398.0V86.44H398.5V86.37H399.0V85.98H399.5V87.50H400.0H400.5V86.15H401.0V86.64H401.5V85.46H402.0V85.50H402.5V87.50H403.0V86.32H403.5V86.36H404.0V85.00H404.5V86.34H405.0V87.50H405.5V86.23H406.0V86.68H406.5V87.50H407.0H407.5V86.66H408.0V86.74H408.5V86.75H409.0V82.75H409.5V82.60H410.0V82.80H410.5V87.50H411.0V85.97H411.5V86.33H412.0V86.52H412.5V86.65H413.0V85.98H413.5V86.80H414.0V86.45H414.5V86.19H415.0V86.23H415.5V85.19H416.0V85.02H416.5V85.59H417.0V80.60H417.5V80.57H418.0V80.95H418.5V85.97H419.0V86.25H419.5V86.47H420.0V85.37H420.5V85.57H421.0V87.50H421.5V85.87H422.0V85.24H422.5V86.40H423.0V86.06H423.5V87.50H424.0V85.19H424.5V85.50H425.0V86.32H425.5V86.03H426.0V84.70H426.5V84.37H427.0V84.47H427.5V85.54H428.0V85.11H428.5V84.71H429.0V87.03H429.5V86.60H430.0V86.94H430.5V87.12H431.0V86.74H431.5V87.50H432.0V86.79H432.5V86.38H433.0V85.91H433.5V86.29H434.0V85.60H434.5V86.04H435.0V86.00H435.5V86.65H436.0V86.86H436.5V86.36H437.0V86.29H437.5V86.39H438.0V86.54H438.5V86.59H439.0V86.05H439.5V85.70H440.0V85.82H440.5V87.50H441.0H441.5V86.38H442.0V86.95H442.5V87.50H443.0V86.34H443.5V86.23H444.0V86.69H444.5V86.73H445.0V87.50H445.5V86.83H446.0V86.52H446.5V86.47H447.0V86.67H447.5V87.02H448.0V82.83H448.5V82.52H449.0V82.87H449.5V87.04H450.0V87.50H450.5H451.0H451.5V85.67H452.0V85.29H452.5V84.67H453.0V84.96H453.5V87.50H454.0V83.64H454.5V83.68H455.0V83.60H455.5V86.68H456.0V86.17H456.5V85.80H457.0V85.71H457.5V86.78H458.0V87.50H458.5H459.0H459.5H460.0V86.94H460.5V83.59H461.0V83.60H461.5V83.57H462.0V86.38H462.5V86.28H463.0V86.49H463.5V82.81H464.0V82.61H464.5V82.75H465.0V86.90H465.5V86.07H466.0V86.17H466.5V86.40H467.0V87.50H467.5H468.0H468.5V86.50H469.0V86.95H469.5V86.86H470.0V86.77H470.5V86.84H471.0V86.68H471.5V86.34H472.0V86.19H472.5V86.18H473.0V85.61H473.5V85.63H474.0V85.29H474.5V85.02H475.0V85.49H475.5V85.20H476.0V84.68H476.5V84.81H477.0V85.14H477.5V85.50H478.0V84.76H478.5V85.42H479.0V85.85H479.5V85.18H480.0V86.09H480.5V85.14H481.0V86.00H481.5V86.29H482.0V86.99H482.5V86.74H483.0V86.50H483.5V86.99H484.0V86.94H484.5V86.48H485.0V86.73H485.5V86.60H486.0V86.60H486.5V87.50H487.0V83.69H487.5V86.86H488.0V86.84H488.5V86.92H489.0V86.97H489.5V86.70H490.0V85.33H490.5V84.69H491.0V86.52H491.5V85.29H492.0V86.49H492.5V87.50H493.0V84.66H493.5V85.19H494.0V87.50H494.5V86.28H495.0V85.21H495.5V84.99H496.0V85.79H496.5V87.50H497.0H497.5H498.0H498.5H499.0H499.5H500.0H500.5H501.0H501.5H502.0H502.5V85.79H503.0V86.27H503.5V85.73H504.0V85.51H504.5V84.73H505.0V87.50Z" fill="#2a2f8e" stroke="none"/>
<rect x="84.70" y="82.50" width="1.90" height="5.00" fill="none" stroke="#2a2f8e" stroke-width="0.5" opacity="0.5"/>
<text class="t" x="260.50" y="79.20" font-size="6.3" fill="#2a2f8e" stroke="#2a2f8e" stroke-width="0.14" text-anchor="middle" >replicate I</text>
<text class="t" x="28.60" y="77.10" font-size="5.4" fill="#2a2f8e" stroke="#2a2f8e" stroke-width="0.06" text-anchor="end" >1</text>
<text class="t" x="28.60" y="87.20" font-size="5.4" fill="#2a2f8e" stroke="#2a2f8e" stroke-width="0.06" text-anchor="end" >0</text>
<path d="M31.3 75.5H29.6V87.5" stroke="#2a2f8e" stroke-width="0.6" fill="none"/>
<line x1="14.50" y1="102.80" x2="507.50" y2="102.80" stroke="#3b3f95" stroke-width="0.8" />
<path d="M33.0 102.60V102.60H33.5H34.0H34.5V101.70H35.0V102.00H35.5V101.67H36.0V101.80H36.5V102.10H37.0V101.47H37.5V102.18H38.0V101.66H38.5V101.70H39.0V102.21H39.5V102.10H40.0V102.60H40.5H41.0H41.5H42.0H42.5H43.0H43.5H44.0H44.5H45.0H45.5H46.0H46.5H47.0H47.5H48.0V100.99H48.5V100.56H49.0V101.29H49.5V102.60H50.0V100.46H50.5V101.00H51.0V102.60H51.5V101.71H52.0V100.42H52.5V101.43H53.0V101.61H53.5V102.60H54.0H54.5H55.0H55.5V101.73H56.0V100.78H56.5V100.91H57.0V101.71H57.5V101.02H58.0V100.11H58.5V100.98H59.0V101.23H59.5V101.72H60.0V100.36H60.5V102.60H61.0H61.5H62.0H62.5V101.69H63.0V101.24H63.5V101.85H64.0V101.02H64.5V101.28H65.0V102.60H65.5V101.56H66.0V101.91H66.5V101.87H67.0V101.10H67.5V101.96H68.0V99.51H68.5V102.60H69.0H69.5H70.0V101.20H70.5V101.38H71.0V102.60H71.5V101.55H72.0V100.13H72.5V100.51H73.0V99.30H73.5V99.25H74.0V99.22H74.5V99.23H75.0V99.14H75.5V99.32H76.0V99.25H76.5V101.38H77.0V102.60H77.5H78.0V102.15H78.5V101.20H79.0V100.09H79.5V100.86H80.0V100.47H80.5V100.00H81.0V92.78H81.5V92.41H82.0V92.38H82.5V100.81H83.0V101.10H83.5V101.76H84.0V101.79H84.5V101.07H85.0V102.60H85.5V101.05H86.0V101.03H86.5V98.50H87.0V101.58H87.5V101.52H88.0V101.27H88.5V101.11H89.0V101.41H89.5V101.74H90.0V101.11H90.5V101.32H91.0V101.64H91.5V102.60H92.0V101.87H92.5V102.60H93.0V101.11H93.5V101.62H94.0V101.70H94.5V102.60H95.0H95.5H96.0H96.5V102.17H97.0V101.74H97.5V101.57H98.0V101.38H98.5V101.82H99.0V101.92H99.5V101.24H100.0V101.68H100.5V102.11H101.0V101.49H101.5V101.52H102.0V102.03H102.5V101.35H103.0V101.41H103.5V102.60H104.0V101.45H104.5V101.53H105.0V101.71H105.5V102.60H106.0V101.80H106.5V100.69H107.0V101.27H107.5V101.72H108.0V101.61H108.5V100.89H109.0V102.60H109.5H110.0H110.5H111.0H111.5H112.0H112.5H113.0H113.5V101.97H114.0V102.22H114.5V101.55H115.0V101.78H115.5V101.55H116.0V101.63H116.5V102.00H117.0V101.79H117.5V102.23H118.0V101.93H118.5V102.60H119.0H119.5H120.0H120.5H121.0V100.19H121.5V100.27H122.0V101.51H122.5V101.28H123.0V101.73H123.5V101.50H124.0V100.66H124.5V100.00H125.0V100.44H125.5V99.86H126.0V101.07H126.5V100.35H127.0V101.04H127.5V101.00H128.0V100.67H128.5V100.87H129.0V102.60H129.5H130.0H130.5H131.0H131.5V99.13H132.0V102.60H132.5H133.0H133.5V100.80H134.0V100.43H134.5V101.36H135.0V101.07H135.5V100.32H136.0V102.60H136.5V101.67H137.0V100.95H137.5V100.75H138.0V100.31H138.5V102.60H139.0H139.5H140.0V101.97H140.5V101.73H141.0V101.51H141.5V102.06H142.0V101.98H142.5V102.60H143.0H143.5V99.75H144.0V100.59H144.5V101.37H145.0V99.18H145.5V99.37H146.0V99.27H146.5V99.37H147.0V99.22H147.5V99.77H148.0V99.47H148.5V100.02H149.0V99.35H149.5V98.58H150.0V98.70H150.5V98.51H151.0V99.07H151.5V91.71H152.0V91.85H152.5V91.30H153.0V100.48H153.5V100.84H154.0V100.93H154.5V100.61H155.0V100.82H155.5V101.57H156.0V100.56H156.5V100.90H157.0V101.18H157.5V102.60H158.0H158.5V101.75H159.0V101.81H159.5V99.79H160.0V99.69H160.5V99.63H161.0V102.60H161.5H162.0H162.5H163.0V101.49H163.5V100.84H164.0V102.60H164.5V101.71H165.0V101.14H165.5V100.85H166.0V102.60H166.5V101.22H167.0V100.67H167.5V100.07H168.0V101.01H168.5V100.10H169.0V101.06H169.5V99.98H170.0V100.43H170.5V102.60H171.0V99.60H171.5V100.43H172.0V102.60H172.5V101.52H173.0V99.77H173.5V100.14H174.0V100.06H174.5V100.76H175.0V102.60H175.5V100.34H176.0V101.25H176.5V102.60H177.0V101.47H177.5V102.60H178.0V100.86H178.5V100.93H179.0V101.29H179.5V101.61H180.0V100.35H180.5V98.17H181.0V102.60H181.5H182.0H182.5H183.0V101.92H183.5V101.46H184.0V102.04H184.5V101.39H185.0V101.55H185.5V101.73H186.0V101.67H186.5V101.73H187.0V101.39H187.5V102.15H188.0V101.98H188.5V101.52H189.0V101.82H189.5V101.92H190.0V101.72H190.5V101.64H191.0V101.70H191.5V102.60H192.0H192.5H193.0V100.36H193.5V101.32H194.0V101.02H194.5V101.45H195.0V102.60H195.5V100.93H196.0V98.74H196.5V100.75H197.0V101.36H197.5V101.44H198.0V102.60H198.5V102.18H199.0V101.57H199.5V102.10H200.0V102.11H200.5V101.29H201.0V102.17H201.5V101.54H202.0V102.60H202.5H203.0H203.5H204.0H204.5H205.0V101.75H205.5V101.58H206.0V101.81H206.5V101.70H207.0V101.81H207.5V102.60H208.0V101.57H208.5V101.62H209.0V101.39H209.5V101.60H210.0V102.06H210.5V101.97H211.0V102.18H211.5V102.08H212.0V101.51H212.5V101.81H213.0V102.60H213.5H214.0H214.5H215.0H215.5H216.0H216.5V101.01H217.0V101.49H217.5V101.50H218.0V101.61H218.5V101.16H219.0V101.75H219.5V100.86H220.0V102.60H220.5H221.0V100.79H221.5V100.58H222.0V101.06H222.5V102.60H223.0V101.35H223.5V99.73H224.0V102.60H224.5V99.67H225.0V101.20H225.5V102.60H226.0V100.72H226.5V100.20H227.0V101.23H227.5V100.86H228.0V100.77H228.5V102.60H229.0V100.65H229.5V100.39H230.0V102.60H230.5H231.0V100.99H231.5V100.80H232.0V100.62H232.5V102.60H233.0V100.88H233.5V100.39H234.0V100.84H234.5V99.92H235.0V102.60H235.5H236.0H236.5H237.0H237.5H238.0V101.54H238.5V101.58H239.0V100.77H239.5V101.17H240.0V101.38H240.5V101.34H241.0V102.00H241.5V101.47H242.0V101.53H242.5V97.85H243.0V101.48H243.5V101.68H244.0V102.60H244.5V101.75H245.0V101.28H245.5V101.24H246.0V100.61H246.5V98.46H247.0V101.06H247.5V101.69H248.0V101.51H248.5V101.61H249.0V101.69H249.5V100.90H250.0V101.26H250.5V100.62H251.0V100.77H251.5V99.93H252.0V100.06H252.5V100.24H253.0V102.60H253.5V100.07H254.0V101.18H254.5V102.60H255.0H255.5V101.43H256.0V101.38H256.5V101.42H257.0V101.59H257.5V102.60H258.0V101.39H258.5V102.60H259.0H259.5V101.48H260.0V102.60H260.5V100.96H261.0V100.08H261.5V99.72H262.0V101.65H262.5V101.36H263.0V102.60H263.5V100.35H264.0V101.23H264.5V99.95H265.0V100.44H265.5V101.43H266.0V100.44H266.5V101.30H267.0V100.13H267.5V102.60H268.0H268.5H269.0V100.90H269.5V100.53H270.0V100.50H270.5V101.56H271.0V99.63H271.5V101.37H272.0V99.92H272.5V101.54H273.0V101.54H273.5V99.91H274.0V100.80H274.5V101.28H275.0V101.71H275.5V100.92H276.0V102.60H276.5V101.83H277.0V101.94H277.5V102.11H278.0V101.46H278.5V102.60H279.0V102.04H279.5V101.68H280.0V100.73H280.5V101.87H281.0V102.60H281.5V101.89H282.0V101.10H282.5V102.60H283.0V101.68H283.5V102.60H284.0V101.22H284.5V102.60H285.0H285.5H286.0V100.13H286.5V100.25H287.0V101.60H287.5V99.72H288.0V101.39H288.5V101.18H289.0V100.86H289.5V100.18H290.0V99.48H290.5V101.12H291.0V100.15H291.5V100.20H292.0V102.60H292.5H293.0H293.5H294.0V101.48H294.5V100.80H295.0V101.29H295.5V101.34H296.0V101.62H296.5V101.47H297.0V101.75H297.5V100.89H298.0V100.78H298.5V101.76H299.0V99.11H299.5V101.48H300.0V100.03H300.5V101.00H301.0V101.53H301.5V102.60H302.0H302.5H303.0H303.5H304.0H304.5H305.0H305.5H306.0H306.5H307.0V101.15H307.5V101.08H308.0V100.52H308.5V101.87H309.0V101.25H309.5V102.60H310.0V101.50H310.5V100.63H311.0V102.60H311.5H312.0H312.5H313.0V101.97H313.5V101.79H314.0V101.86H314.5V102.10H315.0V102.60H315.5V101.33H316.0V101.78H316.5V101.95H317.0V101.90H317.5V101.63H318.0V101.69H318.5V102.60H319.0V101.77H319.5V101.67H320.0V101.66H320.5V101.52H321.0V101.70H321.5V101.80H322.0V101.28H322.5V102.60H323.0V101.45H323.5V101.51H324.0V101.52H324.5V102.60H325.0V101.22H325.5V101.86H326.0V102.60H326.5H327.0V101.26H327.5V101.49H328.0V101.97H328.5V102.60H329.0H329.5V101.00H330.0V101.05H330.5V102.60H331.0V101.66H331.5V102.60H332.0H332.5V100.69H333.0V101.55H333.5V101.15H334.0V101.49H334.5V100.63H335.0V100.60H335.5V101.16H336.0V101.14H336.5V100.54H337.0V100.04H337.5V100.71H338.0V101.13H338.5V101.75H339.0V102.60H339.5H340.0V101.55H340.5V102.60H341.0V100.92H341.5V102.60H342.0V98.36H342.5V101.34H343.0V102.60H343.5H344.0H344.5H345.0H345.5H346.0H346.5H347.0H347.5V99.74H348.0V100.00H348.5V101.47H349.0V100.78H349.5V100.72H350.0V99.68H350.5V100.13H351.0V100.12H351.5V100.41H352.0V101.11H352.5V99.64H353.0V97.90H353.5V97.81H354.0V97.62H354.5V99.88H355.0V102.60H355.5V100.88H356.0V102.60H356.5H357.0V100.83H357.5V101.15H358.0V100.75H358.5V101.86H359.0V100.93H359.5V101.02H360.0V101.03H360.5V101.13H361.0V101.56H361.5V101.12H362.0V100.82H362.5V101.45H363.0V101.92H363.5V100.61H364.0V101.07H364.5V100.69H365.0V102.60H365.5V101.74H366.0V101.06H366.5V101.42H367.0V101.95H367.5V101.05H368.0V101.15H368.5V99.27H369.0V99.23H369.5V99.36H370.0V101.83H370.5V102.60H371.0H371.5H372.0H372.5H373.0H373.5H374.0H374.5V101.38H375.0V101.62H375.5V100.99H376.0V101.47H376.5V102.60H377.0H377.5H378.0H378.5H379.0V100.06H379.5V102.60H380.0H380.5H381.0H381.5V101.37H382.0V100.52H382.5V100.89H383.0V101.19H383.5V102.60H384.0V100.53H384.5V101.36H385.0V101.45H385.5V101.50H386.0V100.79H386.5V100.79H387.0V101.05H387.5V100.44H388.0V101.65H388.5V100.74H389.0V99.76H389.5V99.30H390.0V99.89H390.5V100.85H391.0V101.78H391.5V101.79H392.0V101.19H392.5V101.51H393.0V102.15H393.5V101.21H394.0V102.60H394.5H395.0H395.5H396.0H396.5H397.0H397.5H398.0H398.5V100.72H399.0V100.80H399.5V101.01H400.0V102.60H400.5V101.78H401.0V100.87H401.5V100.43H402.0V100.57H402.5V102.60H403.0H403.5H404.0V101.42H404.5V100.96H405.0V101.11H405.5V100.61H406.0V102.60H406.5V100.30H407.0V101.45H407.5V101.45H408.0V100.63H408.5V100.29H409.0V101.80H409.5V102.60H410.0H410.5H411.0H411.5H412.0H412.5V97.75H413.0V98.00H413.5V97.98H414.0V101.32H414.5V101.20H415.0V96.70H415.5V97.07H416.0V96.81H416.5V100.62H417.0V100.15H417.5V95.97H418.0V95.84H418.5V95.86H419.0V100.50H419.5V101.27H420.0V102.60H420.5H421.0H421.5H422.0H422.5H423.0H423.5V101.20H424.0V101.54H424.5V100.55H425.0V102.60H425.5V100.71H426.0V100.21H426.5V101.10H427.0V101.10H427.5V99.99H428.0V101.14H428.5V102.60H429.0V102.07H429.5V101.93H430.0V102.15H430.5V102.60H431.0H431.5H432.0V102.12H432.5V102.16H433.0V101.99H433.5V101.47H434.0V101.83H434.5V101.79H435.0V102.20H435.5V101.94H436.0V102.07H436.5V101.52H437.0V101.63H437.5V101.87H438.0V101.56H438.5V101.25H439.0V101.69H439.5V100.61H440.0V100.96H440.5V100.36H441.0V100.30H441.5V100.31H442.0V101.75H442.5V102.60H443.0H443.5H444.0V101.46H444.5V101.88H445.0V101.60H445.5V101.83H446.0V101.52H446.5V97.93H447.0V97.93H447.5V97.93H448.0V98.61H448.5V98.72H449.0V98.76H449.5V102.60H450.0H450.5H451.0V102.01H451.5V101.86H452.0V101.46H452.5V102.60H453.0V101.57H453.5V101.79H454.0V102.60H454.5V100.92H455.0V101.32H455.5V102.60H456.0V100.83H456.5V101.01H457.0V101.91H457.5V101.52H458.0V100.77H458.5V100.65H459.0V101.42H459.5V100.85H460.0V101.37H460.5V102.60H461.0H461.5V98.86H462.0V98.83H462.5V98.71H463.0V100.14H463.5V100.26H464.0V100.02H464.5V100.76H465.0V100.59H465.5V98.66H466.0V98.71H466.5V98.87H467.0V101.51H467.5V101.77H468.0V100.67H468.5V100.67H469.0V102.60H469.5V101.06H470.0V97.73H470.5V102.60H471.0V101.83H471.5V101.16H472.0V101.93H472.5V101.64H473.0V101.17H473.5V100.83H474.0V101.05H474.5V100.66H475.0V100.54H475.5V100.70H476.0V100.12H476.5V100.45H477.0V99.95H477.5V99.96H478.0V100.57H478.5V100.62H479.0V100.44H479.5V101.08H480.0V100.91H480.5V101.52H481.0V100.75H481.5V101.82H482.0V102.02H482.5V101.46H483.0V100.36H483.5V100.02H484.0V101.06H484.5V100.82H485.0V101.54H485.5V102.60H486.0H486.5V99.68H487.0V101.36H487.5V101.52H488.0V101.21H488.5V99.98H489.0V101.54H489.5V99.88H490.0V99.94H490.5V101.13H491.0V99.92H491.5V99.61H492.0V99.97H492.5V99.46H493.0V100.14H493.5V102.60H494.0H494.5H495.0H495.5H496.0H496.5H497.0H497.5H498.0H498.5H499.0H499.5H500.0H500.5H501.0V101.34H501.5V101.73H502.0V101.78H502.5V102.03H503.0V101.85H503.5V101.21H504.0V101.09H504.5V101.86H505.0V102.60Z" fill="#2a2f8e" stroke="none"/>
<text class="t" x="260.50" y="94.90" font-size="6.3" fill="#2a2f8e" stroke="#2a2f8e" stroke-width="0.14" text-anchor="middle" >replicate II</text>
<text class="t" x="28.60" y="92.20" font-size="5.4" fill="#2a2f8e" stroke="#2a2f8e" stroke-width="0.06" text-anchor="end" >1</text>
<text class="t" x="28.60" y="102.30" font-size="5.4" fill="#2a2f8e" stroke="#2a2f8e" stroke-width="0.06" text-anchor="end" >0</text>
<path d="M31.3 90.6H29.6V102.6" stroke="#2a2f8e" stroke-width="0.6" fill="none"/>
<line x1="14.50" y1="117.60" x2="507.50" y2="117.60" stroke="#3b3f95" stroke-width="0.8" />
<path d="M33.0 117.40V117.40H33.5H34.0H34.5V116.16H35.0V116.66H35.5V116.43H36.0V116.27H36.5V116.64H37.0V115.88H37.5V116.24H38.0V116.70H38.5V116.20H39.0V116.13H39.5V116.56H40.0V116.17H40.5V116.24H41.0V117.40H41.5H42.0V116.05H42.5V115.33H43.0V116.28H43.5V115.56H44.0V114.68H44.5V114.88H45.0V115.10H45.5V114.29H46.0V114.65H46.5V114.87H47.0V117.40H47.5V115.80H48.0V114.94H48.5V116.01H49.0V117.40H49.5V114.97H50.0V115.11H50.5V115.70H51.0V115.74H51.5V115.66H52.0V115.44H52.5V116.33H53.0V116.46H53.5V116.69H54.0V116.61H54.5V117.40H55.0V116.10H55.5V117.40H56.0V116.48H56.5V116.73H57.0V116.29H57.5V116.85H58.0V116.44H58.5V116.53H59.0V116.93H59.5V117.40H60.0V117.00H60.5V116.87H61.0V117.40H61.5V116.26H62.0V116.47H62.5V117.02H63.0V116.47H63.5V116.71H64.0V116.99H64.5V116.28H65.0V116.78H65.5V117.00H66.0V116.81H66.5V116.33H67.0V116.55H67.5V116.81H68.0V113.70H68.5V113.42H69.0V117.40H69.5H70.0H70.5V114.74H71.0V114.53H71.5V114.80H72.0V114.79H72.5V115.52H73.0V116.00H73.5V115.87H74.0V114.51H74.5V115.39H75.0V115.47H75.5V114.58H76.0V116.03H76.5V116.33H77.0V117.40H77.5H78.0V116.96H78.5V115.27H79.0V115.79H79.5V115.19H80.0V115.13H80.5V115.10H81.0V111.65H81.5V111.85H82.0V111.64H82.5V115.67H83.0V117.40H83.5V115.72H84.0V115.63H84.5V116.62H85.0V117.40H85.5H86.0V113.96H86.5V117.40H87.0H87.5H88.0H88.5V116.37H89.0V116.77H89.5V116.43H90.0V116.71H90.5V116.59H91.0V116.17H91.5V117.40H92.0H92.5H93.0V116.15H93.5V116.22H94.0V116.36H94.5V116.51H95.0V116.04H95.5V116.61H96.0V115.91H96.5V116.54H97.0V116.56H97.5V116.86H98.0V116.02H98.5V117.40H99.0H99.5H100.0H100.5H101.0H101.5H102.0V116.43H102.5V116.15H103.0V116.77H103.5V115.93H104.0V116.22H104.5V116.27H105.0V116.37H105.5V115.89H106.0V116.23H106.5V115.86H107.0V115.77H107.5V116.05H108.0V116.54H108.5V115.75H109.0V116.49H109.5V116.41H110.0V117.40H110.5V115.54H111.0V116.49H111.5V116.28H112.0V116.51H112.5V115.15H113.0V116.00H113.5V115.92H114.0V117.40H114.5H115.0H115.5H116.0V114.26H116.5V117.40H117.0H117.5V114.54H118.0V115.30H118.5V114.31H119.0V116.19H119.5V117.40H120.0V116.46H120.5V116.85H121.0V116.26H121.5V116.13H122.0V116.43H122.5V115.95H123.0V116.65H123.5V116.54H124.0V115.90H124.5V116.06H125.0V115.97H125.5V116.61H126.0V116.72H126.5V117.40H127.0V115.51H127.5V117.40H128.0V115.68H128.5V116.71H129.0V116.41H129.5V117.40H130.0H130.5H131.0H131.5H132.0H132.5H133.0H133.5H134.0H134.5V114.24H135.0V114.95H135.5V115.61H136.0V114.94H136.5V116.61H137.0V115.97H137.5V116.22H138.0V116.24H138.5V114.89H139.0V115.52H139.5V113.21H140.0V115.94H140.5V115.60H141.0V117.40H141.5V115.62H142.0V115.83H142.5V114.91H143.0V117.40H143.5H144.0H144.5H145.0H145.5H146.0H146.5V116.95H147.0V115.59H147.5V115.41H148.0V115.59H148.5V115.74H149.0V115.70H149.5V113.37H150.0V114.61H150.5V114.35H151.0V114.04H151.5V106.13H152.0V105.68H152.5V106.34H153.0V115.22H153.5V115.61H154.0V116.14H154.5V116.49H155.0V116.57H155.5V116.84H156.0V117.40H156.5H157.0V116.09H157.5V115.48H158.0V115.91H158.5V114.94H159.0V115.70H159.5V117.40H160.0H160.5V116.60H161.0V116.07H161.5V115.36H162.0V116.24H162.5V115.66H163.0V115.94H163.5V115.10H164.0V117.40H164.5V115.79H165.0V115.54H165.5V117.40H166.0V116.28H166.5V115.09H167.0V114.99H167.5V114.70H168.0V117.40H168.5V116.48H169.0V116.41H169.5V114.99H170.0V116.09H170.5V114.54H171.0V114.17H171.5V117.40H172.0H172.5V114.95H173.0V114.85H173.5V114.28H174.0V114.53H174.5V115.47H175.0V116.14H175.5V114.64H176.0V117.40H176.5V114.70H177.0V117.40H177.5V115.59H178.0V116.21H178.5V115.87H179.0V116.23H179.5V116.31H180.0V116.44H180.5V117.40H181.0V116.60H181.5V117.40H182.0H182.5H183.0V116.09H183.5V115.53H184.0V114.50H184.5V114.86H185.0V116.06H185.5V116.47H186.0V116.21H186.5V114.78H187.0V117.40H187.5V116.21H188.0V114.61H188.5V115.92H189.0V117.40H189.5H190.0H190.5H191.0H191.5V116.93H192.0V117.40H192.5V116.69H193.0V116.39H193.5V117.40H194.0V117.04H194.5V117.40H195.0V116.68H195.5V117.40H196.0H196.5H197.0V116.35H197.5V116.53H198.0V116.05H198.5V116.66H199.0V116.88H199.5V116.17H200.0V116.16H200.5V117.40H201.0V116.02H201.5V116.69H202.0V117.40H202.5H203.0H203.5V115.03H204.0V114.50H204.5V114.38H205.0V114.96H205.5V115.02H206.0V115.96H206.5V117.40H207.0V115.23H207.5V114.65H208.0V114.91H208.5V114.75H209.0V115.29H209.5V115.51H210.0V115.53H210.5V114.65H211.0V115.93H211.5V114.78H212.0V115.65H212.5V115.51H213.0V115.79H213.5V116.56H214.0V115.93H214.5V116.45H215.0V116.62H215.5V116.82H216.0V116.83H216.5V116.97H217.0V116.28H217.5V117.40H218.0V115.48H218.5V116.27H219.0V115.22H219.5V117.40H220.0V115.10H220.5V117.40H221.0H221.5H222.0H222.5V115.14H223.0V116.17H223.5V114.75H224.0V113.56H224.5V115.92H225.0V115.16H225.5V116.06H226.0V117.40H226.5V116.48H227.0V115.84H227.5V116.15H228.0V116.00H228.5V117.40H229.0V115.69H229.5V116.17H230.0V114.39H230.5V117.40H231.0H231.5V115.02H232.0V115.62H232.5V114.92H233.0V117.40H233.5H234.0H234.5H235.0V116.65H235.5V116.40H236.0V116.99H236.5V116.15H237.0V117.40H237.5H238.0V116.14H238.5V116.44H239.0V116.53H239.5V115.85H240.0V117.40H240.5H241.0V115.22H241.5V115.44H242.0V115.74H242.5V117.40H243.0H243.5H244.0V116.01H244.5V117.40H245.0V115.28H245.5V116.65H246.0V116.10H246.5V115.16H247.0V115.21H247.5V116.43H248.0V116.43H248.5V116.22H249.0V116.33H249.5V115.52H250.0V117.40H250.5V114.61H251.0V114.67H251.5V114.52H252.0V115.86H252.5V117.40H253.0V115.95H253.5V114.87H254.0V115.32H254.5V115.23H255.0V115.61H255.5V114.80H256.0V116.14H256.5V115.80H257.0V117.40H257.5H258.0V116.40H258.5V116.30H259.0V117.03H259.5V116.66H260.0V116.50H260.5V116.28H261.0V116.75H261.5V116.65H262.0V116.69H262.5V116.74H263.0V116.62H263.5V116.90H264.0V116.83H264.5V117.40H265.0V116.73H265.5V116.97H266.0V115.23H266.5V115.20H267.0V115.52H267.5V115.53H268.0V115.05H268.5V116.39H269.0V115.09H269.5V117.40H270.0H270.5V113.08H271.0V116.35H271.5V115.22H272.0V115.56H272.5V117.40H273.0H273.5H274.0H274.5V116.48H275.0V116.37H275.5V116.85H276.0V115.83H276.5V115.88H277.0V115.96H277.5V116.06H278.0V116.71H278.5V117.40H279.0H279.5H280.0H280.5V116.26H281.0V114.61H281.5V115.94H282.0V116.39H282.5V115.26H283.0V117.40H283.5H284.0H284.5V114.74H285.0V115.35H285.5V114.30H286.0V115.41H286.5V115.42H287.0V114.40H287.5V115.92H288.0V115.79H288.5V114.45H289.0V116.24H289.5V115.11H290.0V116.26H290.5V117.40H291.0V113.77H291.5V115.50H292.0V114.68H292.5V115.94H293.0V116.06H293.5V117.40H294.0H294.5H295.0V115.51H295.5V116.00H296.0V114.56H296.5V116.32H297.0V115.10H297.5V114.98H298.0V115.57H298.5V114.72H299.0V115.81H299.5V115.48H300.0V115.06H300.5V115.79H301.0V115.67H301.5V115.93H302.0V115.23H302.5V117.40H303.0H303.5V116.44H304.0V116.51H304.5V116.03H305.0V115.47H305.5V116.19H306.0V115.15H306.5V115.75H307.0V115.15H307.5V115.53H308.0V115.33H308.5V116.23H309.0V116.45H309.5V115.70H310.0V116.11H310.5V117.40H311.0H311.5V116.22H312.0V115.17H312.5V115.02H313.0V114.82H313.5V117.40H314.0H314.5V116.29H315.0V116.66H315.5V116.30H316.0V117.40H316.5V115.75H317.0V117.40H317.5V116.64H318.0V116.56H318.5V115.89H319.0V117.40H319.5V115.89H320.0V115.75H320.5V117.40H321.0V116.31H321.5V117.40H322.0V115.97H322.5V117.40H323.0V116.75H323.5V116.41H324.0V116.73H324.5V117.40H325.0V116.88H325.5V116.00H326.0V116.24H326.5V116.33H327.0V116.10H327.5V117.40H328.0V115.93H328.5V116.08H329.0V116.29H329.5V117.40H330.0H330.5H331.0H331.5H332.0V114.87H332.5V117.40H333.0V114.71H333.5V115.30H334.0V114.42H334.5V115.70H335.0V116.39H335.5V116.01H336.0V115.88H336.5V117.40H337.0V116.18H337.5V114.85H338.0V114.91H338.5V114.59H339.0V114.67H339.5V116.36H340.0V117.40H340.5H341.0H341.5H342.0V116.88H342.5V117.40H343.0V116.19H343.5V116.17H344.0V116.57H344.5V116.58H345.0V116.65H345.5V116.04H346.0V116.36H346.5V116.34H347.0V116.34H347.5V116.76H348.0V116.88H348.5V116.17H349.0V117.40H349.5H350.0H350.5H351.0H351.5H352.0H352.5V115.51H353.0V114.93H353.5V114.72H354.0V115.24H354.5V115.03H355.0V115.49H355.5V115.68H356.0V115.35H356.5V115.02H357.0V115.37H357.5V115.27H358.0V115.36H358.5V117.40H359.0H359.5H360.0V116.79H360.5V116.72H361.0V116.51H361.5V116.35H362.0V117.40H362.5V116.79H363.0V116.84H363.5V116.29H364.0V116.59H364.5V116.81H365.0V117.40H365.5V116.22H366.0V116.74H366.5V116.43H367.0V116.19H367.5V116.60H368.0V116.52H368.5V116.21H369.0V116.46H369.5V116.84H370.0V116.73H370.5V117.40H371.0H371.5V114.91H372.0V115.75H372.5V115.90H373.0V117.40H373.5V115.25H374.0V114.83H374.5V117.40H375.0V115.32H375.5V115.15H376.0V116.41H376.5V117.40H377.0H377.5H378.0H378.5H379.0V116.93H379.5V113.01H380.0V115.88H380.5V116.55H381.0V116.59H381.5V116.53H382.0V116.66H382.5V116.20H383.0V116.08H383.5V116.57H384.0V117.40H384.5H385.0V116.66H385.5V115.94H386.0V117.40H386.5V116.48H387.0V117.40H387.5V116.61H388.0V116.50H388.5V116.01H389.0V115.59H389.5V115.03H390.0V115.60H390.5V116.16H391.0V115.95H391.5V116.45H392.0V117.40H392.5V116.03H393.0V116.69H393.5V116.55H394.0V116.86H394.5V115.89H395.0V117.40H395.5V116.15H396.0V115.79H396.5V114.56H397.0V115.38H397.5V114.71H398.0V115.83H398.5V114.59H399.0V114.98H399.5V114.98H400.0V115.22H400.5V115.39H401.0V115.22H401.5V114.25H402.0V114.26H402.5V116.30H403.0V115.31H403.5V117.40H404.0H404.5H405.0H405.5H406.0H406.5H407.0H407.5H408.0V114.72H408.5V116.23H409.0V115.64H409.5V115.04H410.0V115.50H410.5V117.40H411.0V116.07H411.5V117.40H412.0V115.49H412.5V115.42H413.0V117.40H413.5H414.0H414.5H415.0H415.5H416.0H416.5H417.0V115.45H417.5V113.51H418.0V113.70H418.5V113.62H419.0V117.40H419.5V115.73H420.0V117.40H420.5V116.03H421.0V117.40H421.5H422.0V115.37H422.5V116.32H423.0V116.22H423.5V115.97H424.0V117.40H424.5H425.0H425.5H426.0H426.5H427.0H427.5H428.0V115.13H428.5V115.11H429.0V114.82H429.5V114.43H430.0V115.98H430.5V115.53H431.0V114.85H431.5V117.40H432.0V114.58H432.5V114.70H433.0V117.40H433.5H434.0H434.5H435.0H435.5H436.0H436.5H437.0H437.5H438.0V114.91H438.5V115.15H439.0V115.12H439.5V116.35H440.0V116.23H440.5V115.45H441.0V114.66H441.5V115.31H442.0V115.76H442.5V117.40H443.0V113.53H443.5V115.52H444.0V114.26H444.5V115.37H445.0V115.96H445.5V115.52H446.0V115.74H446.5V115.36H447.0V114.56H447.5V114.92H448.0V115.50H448.5V115.50H449.0V115.97H449.5V116.20H450.0V116.69H450.5V115.75H451.0V115.35H451.5V116.55H452.0V117.40H452.5V116.19H453.0V116.10H453.5V116.60H454.0V116.72H454.5V115.95H455.0V116.60H455.5V117.40H456.0H456.5V115.28H457.0V117.40H457.5V115.99H458.0V116.06H458.5V115.17H459.0V115.96H459.5V116.61H460.0V116.92H460.5V116.40H461.0V116.87H461.5V116.93H462.0V116.64H462.5V116.17H463.0V117.40H463.5H464.0H464.5V115.75H465.0V116.48H465.5V115.51H466.0V114.65H466.5V115.62H467.0V116.52H467.5V117.40H468.0H468.5H469.0H469.5V115.95H470.0V116.37H470.5V116.11H471.0V116.64H471.5V115.99H472.0V116.66H472.5V116.31H473.0V116.75H473.5V116.79H474.0V116.51H474.5V117.40H475.0H475.5H476.0V116.18H476.5V116.41H477.0V116.57H477.5V115.74H478.0V115.99H478.5V115.81H479.0V117.40H479.5H480.0V116.78H480.5V117.40H481.0H481.5V115.22H482.0V116.10H482.5V116.46H483.0V115.83H483.5V116.24H484.0V112.83H484.5V115.91H485.0V115.24H485.5V116.51H486.0V116.08H486.5V115.26H487.0V116.27H487.5V116.01H488.0V115.49H488.5V115.97H489.0V115.88H489.5V117.40H490.0V115.19H490.5V117.40H491.0H491.5H492.0H492.5H493.0H493.5H494.0H494.5H495.0V116.07H495.5V116.45H496.0V116.51H496.5V116.34H497.0V117.40H497.5H498.0H498.5H499.0V115.93H499.5V116.36H500.0V115.04H500.5V114.87H501.0V113.39H501.5V115.91H502.0V115.27H502.5V115.62H503.0V115.39H503.5V117.40H504.0V114.93H504.5V116.45H505.0V117.40Z" fill="#2a2f8e" stroke="none"/>
<text class="t" x="260.50" y="109.70" font-size="6.3" fill="#2a2f8e" stroke="#2a2f8e" stroke-width="0.14" text-anchor="middle" >replicate III</text>
<text class="t" x="28.60" y="107.00" font-size="5.4" fill="#2a2f8e" stroke="#2a2f8e" stroke-width="0.06" text-anchor="end" >1</text>
<text class="t" x="28.60" y="117.10" font-size="5.4" fill="#2a2f8e" stroke="#2a2f8e" stroke-width="0.06" text-anchor="end" >0</text>
<path d="M31.3 105.4H29.6V117.4" stroke="#2a2f8e" stroke-width="0.6" fill="none"/>
<line x1="14.50" y1="132.50" x2="507.50" y2="132.50" stroke="#3b3f95" stroke-width="0.8" />
<path d="M33.0 132.30V132.30H33.5H34.0V128.71H34.5V130.83H35.0V131.43H35.5V131.32H36.0V132.30H36.5V131.08H37.0V132.30H37.5H38.0H38.5V125.12H39.0V130.57H39.5V131.11H40.0V132.30H40.5H41.0H41.5V130.70H42.0V131.24H42.5V131.34H43.0V131.14H43.5V130.66H44.0V130.00H44.5V131.41H45.0V131.28H45.5V130.36H46.0V129.83H46.5V131.30H47.0V130.45H47.5V130.56H48.0V131.12H48.5V126.50H49.0V129.41H49.5V129.99H50.0V129.69H50.5V130.61H51.0V130.63H51.5V131.22H52.0V129.28H52.5V132.30H53.0V129.12H53.5V129.93H54.0V129.52H54.5V129.60H55.0V130.96H55.5V131.07H56.0V129.94H56.5V130.88H57.0V132.30H57.5H58.0H58.5H59.0V130.94H59.5V132.30H60.0V131.68H60.5V131.01H61.0V131.75H61.5V131.32H62.0V132.30H62.5H63.0V130.73H63.5V132.30H64.0V131.13H64.5V131.13H65.0V126.73H65.5V131.14H66.0V132.30H66.5H67.0V130.95H67.5V132.30H68.0H68.5H69.0H69.5H70.0V130.09H70.5V130.81H71.0V130.98H71.5V129.43H72.0V129.32H72.5V129.78H73.0V130.31H73.5V129.62H74.0V130.17H74.5V130.45H75.0V129.35H75.5V132.30H76.0V128.42H76.5V130.18H77.0V131.38H77.5V131.36H78.0V130.26H78.5V130.32H79.0V131.27H79.5V130.48H80.0V128.85H80.5V128.82H81.0V130.25H81.5V125.69H82.0V130.59H82.5V126.69H83.0V130.94H83.5V130.48H84.0V130.53H84.5V131.54H85.0V132.30H85.5H86.0V131.06H86.5V130.81H87.0V131.14H87.5V130.06H88.0V126.53H88.5V126.58H89.0V126.58H89.5V129.43H90.0V129.62H90.5V132.30H91.0H91.5V130.60H92.0V130.77H92.5V131.11H93.0V130.57H93.5V130.91H94.0V130.84H94.5V130.62H95.0V132.30H95.5H96.0H96.5H97.0V130.19H97.5V131.08H98.0V131.59H98.5V130.87H99.0V130.99H99.5V130.23H100.0V130.18H100.5V131.38H101.0V129.87H101.5V131.11H102.0V129.03H102.5V130.67H103.0V130.12H103.5V127.37H104.0V130.22H104.5V129.38H105.0V129.09H105.5V126.48H106.0V126.40H106.5V132.30H107.0V131.51H107.5V131.48H108.0V130.72H108.5V131.11H109.0V131.46H109.5V130.18H110.0V132.30H110.5H111.0V130.45H111.5V128.60H112.0V130.31H112.5V129.90H113.0V130.45H113.5V130.78H114.0V132.30H114.5V129.54H115.0V130.74H115.5V130.06H116.0V128.88H116.5V131.05H117.0V131.02H117.5V132.30H118.0V131.18H118.5V130.35H119.0V131.05H119.5V129.78H120.0V129.61H120.5V126.42H121.0V129.60H121.5V129.70H122.0V129.89H122.5V130.75H123.0V129.62H123.5V132.30H124.0H124.5H125.0V131.32H125.5V127.90H126.0V130.42H126.5V132.30H127.0V130.19H127.5V130.83H128.0V130.90H128.5V131.17H129.0V130.22H129.5V129.92H130.0V129.64H130.5V129.90H131.0V130.13H131.5V132.30H132.0V129.86H132.5V132.30H133.0H133.5V131.00H134.0V130.02H134.5V130.66H135.0V132.30H135.5V131.13H136.0V131.51H136.5V131.71H137.0V130.81H137.5V131.55H138.0V126.31H138.5V130.69H139.0V126.89H139.5V131.30H140.0V130.88H140.5V131.40H141.0V130.84H141.5V130.98H142.0V130.62H142.5V132.30H143.0H143.5V130.38H144.0V131.67H144.5V130.57H145.0V131.11H145.5V130.43H146.0V130.38H146.5V131.66H147.0V130.35H147.5V130.70H148.0V130.50H148.5V124.43H149.0V124.64H149.5V124.38H150.0V124.81H150.5V124.58H151.0V121.67H151.5V121.53H152.0V121.12H152.5V129.93H153.0V130.31H153.5V130.38H154.0V130.61H154.5V130.41H155.0V129.58H155.5V130.91H156.0V128.03H156.5V129.89H157.0V129.46H157.5V127.49H158.0V127.36H158.5V129.61H159.0V129.37H159.5V130.96H160.0V129.93H160.5V129.09H161.0V129.85H161.5V129.15H162.0V127.17H162.5V132.30H163.0H163.5V129.66H164.0V130.22H164.5V130.00H165.0V131.29H165.5V131.09H166.0V129.61H166.5V132.30H167.0V131.27H167.5V129.76H168.0V130.29H168.5V130.89H169.0V130.00H169.5V129.70H170.0V130.02H170.5V129.75H171.0V131.16H171.5V130.14H172.0V128.83H172.5V128.88H173.0V132.30H173.5H174.0H174.5V131.33H175.0V131.74H175.5V132.30H176.0V131.16H176.5V131.83H177.0V131.15H177.5V131.38H178.0V132.30H178.5V130.54H179.0V130.28H179.5V130.94H180.0V131.15H180.5V129.92H181.0V130.41H181.5V127.09H182.0V132.30H182.5H183.0H183.5H184.0H184.5H185.0V130.71H185.5V127.39H186.0V131.27H186.5V130.41H187.0V130.42H187.5V131.37H188.0V131.40H188.5V132.30H189.0H189.5H190.0V129.59H190.5V129.84H191.0V130.63H191.5V129.46H192.0V129.12H192.5V129.04H193.0V132.30H193.5H194.0H194.5H195.0H195.5H196.0V127.49H196.5V132.30H197.0V129.77H197.5V129.99H198.0V131.22H198.5V129.94H199.0V130.13H199.5V132.30H200.0H200.5H201.0H201.5H202.0V128.52H202.5V132.30H203.0V131.32H203.5V131.07H204.0V132.30H204.5V131.43H205.0V131.20H205.5V131.15H206.0V130.88H206.5V131.21H207.0V131.14H207.5V131.33H208.0V131.29H208.5V131.28H209.0V131.84H209.5V131.21H210.0V131.68H210.5V132.30H211.0V131.42H211.5V132.30H212.0H212.5V130.94H213.0V131.35H213.5V130.79H214.0V126.16H214.5V131.48H215.0V131.40H215.5V131.63H216.0V132.30H216.5V130.73H217.0V131.24H217.5V130.84H218.0V132.30H218.5V126.11H219.0V131.13H219.5V131.60H220.0V130.48H220.5V131.37H221.0V132.30H221.5V127.66H222.0V132.30H222.5V131.58H223.0V131.88H223.5V131.17H224.0V131.46H224.5V132.30H225.0H225.5H226.0V130.25H226.5V132.30H227.0V130.72H227.5V132.30H228.0H228.5H229.0H229.5H230.0H230.5V130.54H231.0V131.65H231.5V131.51H232.0V131.28H232.5V130.94H233.0V130.71H233.5V132.30H234.0V131.04H234.5V132.30H235.0H235.5H236.0H236.5H237.0H237.5H238.0H238.5V128.94H239.0V130.86H239.5V126.57H240.0V131.32H240.5V131.21H241.0V131.55H241.5V130.18H242.0V128.83H242.5V129.79H243.0V127.89H243.5V130.64H244.0V130.89H244.5V130.66H245.0V129.20H245.5V128.07H246.0V132.30H246.5V131.37H247.0V132.30H247.5V131.44H248.0V131.33H248.5V131.25H249.0V130.91H249.5V130.71H250.0V131.45H250.5V130.75H251.0V130.80H251.5V130.75H252.0V130.53H252.5V131.54H253.0V131.20H253.5V131.66H254.0V132.30H254.5V130.47H255.0V125.80H255.5V132.30H256.0H256.5H257.0H257.5V130.70H258.0V131.70H258.5V131.43H259.0V131.68H259.5V131.25H260.0V131.15H260.5V131.54H261.0V131.11H261.5V130.90H262.0V130.75H262.5V131.65H263.0V131.18H263.5V131.39H264.0V131.46H264.5V132.30H265.0H265.5V127.66H266.0V130.92H266.5V130.92H267.0V128.86H267.5V129.31H268.0V130.57H268.5V129.73H269.0V129.60H269.5V130.27H270.0V128.64H270.5V129.23H271.0V129.15H271.5V128.70H272.0V129.28H272.5V132.30H273.0V130.55H273.5V128.80H274.0V132.30H274.5H275.0V130.50H275.5V130.33H276.0V131.24H276.5V129.60H277.0V130.00H277.5V132.30H278.0V131.18H278.5V132.30H279.0V130.88H279.5V129.62H280.0V131.03H280.5V130.06H281.0V126.28H281.5V130.77H282.0V131.32H282.5V132.30H283.0V128.54H283.5V131.19H284.0V130.31H284.5V130.43H285.0V130.48H285.5V130.53H286.0V130.18H286.5V131.46H287.0V126.72H287.5V126.91H288.0V130.91H288.5V132.30H289.0V131.03H289.5V130.64H290.0V132.30H290.5V129.92H291.0V130.55H291.5V130.40H292.0V131.13H292.5V130.20H293.0V130.77H293.5V130.09H294.0V130.18H294.5V130.59H295.0V131.45H295.5V131.07H296.0V132.30H296.5H297.0H297.5H298.0H298.5V130.36H299.0V128.13H299.5V126.67H300.0V130.09H300.5V129.14H301.0V129.96H301.5V130.22H302.0V128.88H302.5V130.17H303.0V129.43H303.5V130.92H304.0V132.30H304.5V130.71H305.0V129.49H305.5V129.60H306.0V130.81H306.5V128.84H307.0V129.72H307.5V128.94H308.0V132.30H308.5V130.61H309.0V128.76H309.5V129.77H310.0V132.30H310.5H311.0H311.5H312.0H312.5V130.61H313.0V129.08H313.5V130.62H314.0V131.23H314.5V130.31H315.0V129.37H315.5V130.17H316.0V130.46H316.5V132.30H317.0H317.5H318.0H318.5V130.85H319.0V131.04H319.5V130.82H320.0V130.97H320.5V131.25H321.0V132.30H321.5H322.0H322.5V130.75H323.0V130.81H323.5V130.85H324.0V130.72H324.5V131.25H325.0V131.63H325.5V131.77H326.0V131.28H326.5V131.78H327.0V130.87H327.5V130.79H328.0V132.30H328.5V131.18H329.0V131.49H329.5V130.32H330.0V128.40H330.5V129.14H331.0V132.30H331.5H332.0V131.47H332.5V131.69H333.0V131.47H333.5V131.19H334.0V131.67H334.5V131.74H335.0V132.30H335.5V129.34H336.0V131.12H336.5V131.05H337.0V126.51H337.5V131.06H338.0V130.76H338.5V129.07H339.0V129.29H339.5V130.51H340.0V132.30H340.5V131.65H341.0V131.70H341.5V131.12H342.0V131.81H342.5V130.94H343.0V131.42H343.5V131.70H344.0V131.19H344.5V130.82H345.0V132.30H345.5H346.0H346.5V130.72H347.0V131.19H347.5V130.56H348.0V131.44H348.5V129.94H349.0V131.46H349.5V130.61H350.0V131.51H350.5V132.30H351.0V131.28H351.5V130.73H352.0V129.89H352.5V132.30H353.0V131.36H353.5V130.37H354.0V129.98H354.5V128.60H355.0V127.72H355.5V129.42H356.0V129.67H356.5V130.52H357.0V129.93H357.5V131.27H358.0V129.49H358.5V130.27H359.0V129.52H359.5V132.30H360.0H360.5H361.0H361.5H362.0H362.5V125.11H363.0V128.36H363.5V128.77H364.0V129.94H364.5V129.17H365.0V129.52H365.5V132.30H366.0V129.36H366.5V130.24H367.0V129.48H367.5V129.10H368.0V128.39H368.5V130.49H369.0V132.30H369.5V129.01H370.0V129.85H370.5V130.32H371.0V131.44H371.5V132.30H372.0V130.36H372.5V130.03H373.0V128.61H373.5V130.85H374.0V129.78H374.5V129.98H375.0V131.24H375.5V127.30H376.0V127.62H376.5V127.46H377.0V127.48H377.5V130.86H378.0V132.30H378.5H379.0H379.5H380.0V129.69H380.5V129.17H381.0V129.92H381.5V131.14H382.0V129.13H382.5V130.30H383.0V130.58H383.5V132.30H384.0V129.91H384.5V132.30H385.0V129.88H385.5V130.14H386.0V130.27H386.5V131.36H387.0V128.63H387.5V125.31H388.0V125.65H388.5V125.85H389.0V129.20H389.5V129.55H390.0V126.57H390.5V126.72H391.0V126.47H391.5V131.36H392.0V131.75H392.5V129.27H393.0V132.30H393.5V129.71H394.0V131.07H394.5V130.84H395.0V129.25H395.5V127.13H396.0V126.96H396.5V130.70H397.0V129.08H397.5V129.63H398.0V130.95H398.5V129.88H399.0V129.37H399.5V130.21H400.0V131.16H400.5V128.85H401.0V132.30H401.5V130.22H402.0V129.46H402.5V130.30H403.0V129.81H403.5V130.49H404.0V129.26H404.5V131.40H405.0V130.98H405.5V131.82H406.0V132.30H406.5V131.34H407.0V131.36H407.5V131.10H408.0V131.34H408.5V131.74H409.0V131.50H409.5V131.01H410.0V131.65H410.5V131.18H411.0V127.67H411.5V127.36H412.0V127.30H412.5V132.30H413.0H413.5H414.0V130.98H414.5V130.33H415.0V130.25H415.5V130.96H416.0V125.16H416.5V129.80H417.0V132.30H417.5V130.36H418.0V131.24H418.5V132.30H419.0V130.96H419.5V129.15H420.0V132.30H420.5H421.0H421.5V128.52H422.0V128.51H422.5V128.53H423.0V132.30H423.5H424.0V129.80H424.5V129.02H425.0V129.52H425.5V128.95H426.0V131.17H426.5V130.11H427.0V127.51H427.5V127.66H428.0V127.44H428.5V130.49H429.0V130.70H429.5V130.18H430.0V132.30H430.5H431.0H431.5H432.0V131.42H432.5V130.49H433.0V128.31H433.5V128.54H434.0V128.38H434.5V131.09H435.0V129.99H435.5V131.08H436.0V130.93H436.5V131.03H437.0V130.19H437.5V130.92H438.0V131.32H438.5V132.30H439.0V130.40H439.5V132.30H440.0H440.5V131.39H441.0V131.26H441.5V131.14H442.0V132.30H442.5H443.0V130.66H443.5V132.30H444.0H444.5V130.02H445.0V129.49H445.5V128.92H446.0V129.47H446.5V130.50H447.0V131.03H447.5V130.89H448.0V127.58H448.5V127.31H449.0V127.55H449.5V132.30H450.0H450.5H451.0H451.5H452.0H452.5V130.03H453.0V132.30H453.5V130.46H454.0V129.78H454.5V128.58H455.0V132.30H455.5H456.0H456.5V129.35H457.0V129.97H457.5V131.18H458.0V129.76H458.5V129.71H459.0V129.63H459.5V130.80H460.0V129.99H460.5V125.50H461.0V125.63H461.5V125.56H462.0V131.19H462.5V131.46H463.0V131.28H463.5V130.91H464.0V131.11H464.5V131.41H465.0V132.30H465.5V131.74H466.0V131.62H466.5V132.30H467.0V131.74H467.5V131.22H468.0V131.15H468.5V130.74H469.0V132.30H469.5V130.79H470.0V131.59H470.5V131.82H471.0V132.30H471.5H472.0H472.5V130.71H473.0V127.32H473.5V127.44H474.0V127.46H474.5V130.77H475.0V131.25H475.5V131.31H476.0V131.26H476.5V131.11H477.0V126.75H477.5V126.36H478.0V126.76H478.5V131.34H479.0V127.42H479.5V127.54H480.0V127.56H480.5V131.21H481.0V126.16H481.5V132.30H482.0V130.32H482.5V131.09H483.0V130.26H483.5V130.62H484.0V131.00H484.5V130.47H485.0V130.12H485.5V130.57H486.0V130.21H486.5V130.85H487.0V130.87H487.5V131.59H488.0V132.30H488.5V128.32H489.0V130.97H489.5V130.97H490.0V132.30H490.5H491.0V131.02H491.5V131.49H492.0V131.63H492.5V131.86H493.0V132.30H493.5H494.0V131.52H494.5V131.35H495.0V131.67H495.5V131.86H496.0V131.19H496.5V131.37H497.0V131.65H497.5V132.30H498.0V126.66H498.5V132.30H499.0V131.37H499.5V132.30H500.0V129.82H500.5V130.49H501.0V130.43H501.5V131.46H502.0V130.10H502.5V131.10H503.0V130.75H503.5V129.47H504.0V129.34H504.5V129.38H505.0V132.30Z" fill="#2a2f8e" stroke="none"/>
<text class="t" x="260.50" y="124.60" font-size="6.3" fill="#2a2f8e" stroke="#2a2f8e" stroke-width="0.14" text-anchor="middle" >replicate IV(flag)</text>
<text class="t" x="28.60" y="121.90" font-size="5.4" fill="#2a2f8e" stroke="#2a2f8e" stroke-width="0.06" text-anchor="end" >0.5</text>
<text class="t" x="28.60" y="132.00" font-size="5.4" fill="#2a2f8e" stroke="#2a2f8e" stroke-width="0.06" text-anchor="end" >0</text>
<path d="M31.3 120.3H29.6V132.3" stroke="#2a2f8e" stroke-width="0.6" fill="none"/>
<line x1="14.50" y1="147.50" x2="507.50" y2="147.50" stroke="#e6e7e8" stroke-width="0.8" />
<path d="M33.0 147.30V146.50H33.5V146.22H34.0V147.30H34.5V145.91H35.0V146.71H35.5V145.69H36.0V146.43H36.5V147.30H37.0V146.93H37.5V146.56H38.0V146.51H38.5V147.30H39.0V146.84H39.5V146.87H40.0V146.94H40.5V146.94H41.0V146.97H41.5V146.62H42.0V147.30H42.5V146.61H43.0V146.80H43.5V146.55H44.0V147.30H44.5V146.86H45.0V146.51H45.5V146.83H46.0V144.91H46.5V146.71H47.0V146.61H47.5V147.30H48.0H48.5H49.0H49.5V146.12H50.0V146.65H50.5V147.30H51.0V146.87H51.5V146.44H52.0V146.57H52.5V146.69H53.0V146.29H53.5V146.69H54.0V146.99H54.5V146.81H55.0V147.30H55.5H56.0V146.85H56.5V147.30H57.0H57.5V146.84H58.0V146.88H58.5V147.30H59.0V146.93H59.5V146.64H60.0V146.83H60.5V146.93H61.0V146.82H61.5V147.30H62.0V146.61H62.5V146.44H63.0V147.30H63.5H64.0V146.85H64.5V146.71H65.0V146.62H65.5V146.49H66.0V147.30H66.5H67.0H67.5V145.82H68.0V147.30H68.5V145.60H69.0V146.08H69.5V146.66H70.0V146.02H70.5V146.34H71.0V146.52H71.5V146.49H72.0V146.10H72.5V145.75H73.0V147.30H73.5V146.63H74.0V146.35H74.5V146.76H75.0V147.30H75.5H76.0V146.28H76.5V145.84H77.0V146.63H77.5V147.30H78.0V146.39H78.5V145.88H79.0V145.96H79.5V147.30H80.0V146.12H80.5V146.11H81.0V146.20H81.5V145.85H82.0V146.42H82.5V147.30H83.0V146.27H83.5V147.30H84.0V146.56H84.5V147.30H85.0H85.5H86.0V146.58H86.5V146.65H87.0V147.30H87.5H88.0V145.97H88.5V147.30H89.0H89.5V146.11H90.0V147.30H90.5H91.0V145.89H91.5V146.34H92.0V145.98H92.5V146.06H93.0V146.40H93.5V144.27H94.0V145.88H94.5V145.51H95.0V145.83H95.5V145.75H96.0V147.30H96.5V145.79H97.0V146.65H97.5V146.60H98.0V146.10H98.5V146.55H99.0V145.62H99.5V146.63H100.0V145.86H100.5V147.30H101.0V146.65H101.5V146.62H102.0V146.83H102.5V147.30H103.0V146.87H103.5V146.68H104.0V146.61H104.5V146.92H105.0V147.30H105.5H106.0H106.5V146.78H107.0V147.30H107.5H108.0H108.5V146.69H109.0V146.68H109.5V146.51H110.0V146.70H110.5V146.55H111.0V147.30H111.5V146.89H112.0V146.55H112.5V146.65H113.0V146.43H113.5V147.30H114.0V146.59H114.5V146.26H115.0V146.01H115.5V146.64H116.0V146.39H116.5V147.30H117.0V146.20H117.5V146.51H118.0V147.30H118.5V146.18H119.0V147.30H119.5V146.69H120.0V146.52H120.5V146.45H121.0V147.30H121.5V146.94H122.0V147.30H122.5H123.0V146.86H123.5V147.30H124.0V146.64H124.5V147.30H125.0H125.5H126.0H126.5V146.91H127.0V146.59H127.5V146.72H128.0V146.59H128.5V146.54H129.0V146.66H129.5V146.60H130.0V146.30H130.5V146.57H131.0V147.30H131.5V146.57H132.0V146.73H132.5V147.30H133.0V146.84H133.5V147.30H134.0V143.89H134.5V146.65H135.0V146.83H135.5V147.30H136.0V146.66H136.5V146.99H137.0V147.30H137.5V146.88H138.0V147.30H138.5H139.0V146.88H139.5V147.30H140.0V146.66H140.5V147.30H141.0V146.66H141.5V146.71H142.0V146.77H142.5V146.71H143.0V147.30H143.5V144.30H144.0V146.14H144.5V145.67H145.0V145.97H145.5V146.57H146.0V146.34H146.5V146.05H147.0V146.54H147.5V145.78H148.0V147.30H148.5V146.19H149.0V146.69H149.5V145.71H150.0V145.69H150.5V146.72H151.0V146.67H151.5V147.30H152.0H152.5V146.56H153.0V145.67H153.5V147.30H154.0V146.41H154.5V146.67H155.0V145.44H155.5V145.79H156.0V146.67H156.5V145.79H157.0V145.76H157.5V146.14H158.0V146.30H158.5V145.76H159.0V145.70H159.5V146.35H160.0V146.06H160.5V146.12H161.0V147.30H161.5H162.0H162.5V145.88H163.0V147.30H163.5V146.25H164.0V146.08H164.5V147.30H165.0V146.37H165.5V145.75H166.0V144.59H166.5V146.45H167.0V146.76H167.5V146.61H168.0V145.97H168.5V146.46H169.0V147.30H169.5V146.02H170.0V145.91H170.5V147.30H171.0H171.5V146.45H172.0V146.66H172.5V146.44H173.0V146.47H173.5V146.91H174.0V146.52H174.5V146.64H175.0V146.37H175.5V144.62H176.0V146.37H176.5V147.30H177.0V146.33H177.5V146.21H178.0V147.30H178.5V146.22H179.0V146.38H179.5V146.58H180.0V146.30H180.5V146.71H181.0V146.61H181.5V147.30H182.0V146.23H182.5V146.47H183.0V146.18H183.5V147.30H184.0V146.47H184.5V146.54H185.0V145.99H185.5V145.76H186.0V146.52H186.5V146.73H187.0V146.67H187.5V146.25H188.0V147.30H188.5V144.56H189.0V145.72H189.5V147.30H190.0V145.98H190.5V146.23H191.0V145.79H191.5V145.77H192.0V147.30H192.5V146.46H193.0V146.16H193.5V145.58H194.0V144.97H194.5V143.98H195.0V146.85H195.5V146.79H196.0V147.30H196.5H197.0V146.19H197.5V146.05H198.0V146.24H198.5V146.14H199.0V145.54H199.5V146.26H200.0V146.01H200.5V145.57H201.0V146.52H201.5V147.30H202.0V145.56H202.5V145.54H203.0V146.68H203.5V145.57H204.0V145.63H204.5V145.99H205.0V146.90H205.5V146.83H206.0V147.30H206.5V146.77H207.0V146.96H207.5V146.59H208.0V147.30H208.5H209.0V146.11H209.5V145.81H210.0V146.07H210.5V146.00H211.0V146.03H211.5V146.19H212.0V145.87H212.5V145.51H213.0V146.34H213.5V145.39H214.0V145.68H214.5V145.81H215.0V145.30H215.5V145.39H216.0V145.34H216.5V147.30H217.0H217.5V146.72H218.0V147.30H218.5V146.45H219.0V146.48H219.5V146.65H220.0V146.48H220.5V146.82H221.0V146.88H221.5V146.44H222.0V146.95H222.5V147.30H223.0V146.85H223.5V147.30H224.0H224.5V146.77H225.0V147.30H225.5H226.0V146.76H226.5V147.30H227.0H227.5H228.0V146.72H228.5V146.42H229.0V146.50H229.5V144.08H230.0V146.76H230.5V146.44H231.0V146.82H231.5V146.82H232.0V146.96H232.5V146.35H233.0V146.89H233.5V146.40H234.0V146.90H234.5V146.35H235.0V146.76H235.5V147.30H236.0H236.5V146.83H237.0V146.62H237.5V146.70H238.0V147.30H238.5H239.0V145.52H239.5V145.89H240.0V146.20H240.5V145.75H241.0V145.40H241.5V147.30H242.0V146.07H242.5V144.54H243.0V147.30H243.5H244.0V145.67H244.5V146.13H245.0V145.93H245.5V145.40H246.0V145.51H246.5V145.63H247.0V147.30H247.5V146.30H248.0V147.30H248.5V146.48H249.0V146.60H249.5V145.91H250.0V147.30H250.5V146.77H251.0V146.76H251.5V146.64H252.0V147.30H252.5H253.0V146.87H253.5V147.30H254.0V146.70H254.5V146.38H255.0V147.30H255.5V146.86H256.0V146.22H256.5V144.53H257.0V146.28H257.5V146.29H258.0V146.91H258.5V146.15H259.0V146.64H259.5V146.47H260.0V146.55H260.5V146.72H261.0V147.30H261.5V145.81H262.0V145.63H262.5V146.40H263.0V145.48H263.5V147.30H264.0V145.85H264.5V145.57H265.0V145.74H265.5V146.12H266.0V146.03H266.5V147.30H267.0H267.5V145.51H268.0V146.14H268.5V146.11H269.0V146.37H269.5V146.31H270.0V147.30H270.5H271.0V146.38H271.5V146.48H272.0V147.30H272.5V146.25H273.0V146.42H273.5V146.31H274.0V146.65H274.5V145.92H275.0V147.30H275.5V146.25H276.0V147.30H276.5V144.95H277.0V147.30H277.5V146.10H278.0V147.30H278.5V146.79H279.0V146.83H279.5V146.06H280.0V146.77H280.5V146.13H281.0V146.28H281.5V146.77H282.0V147.30H282.5H283.0V146.73H283.5V143.78H284.0V146.98H284.5V147.30H285.0V146.86H285.5V146.85H286.0V147.30H286.5V146.88H287.0V146.87H287.5V147.30H288.0V146.76H288.5V146.46H289.0V147.30H289.5V146.11H290.0V147.30H290.5V146.21H291.0V145.71H291.5V146.73H292.0V145.88H292.5V146.29H293.0V145.96H293.5V146.40H294.0V145.82H294.5V147.30H295.0H295.5H296.0V146.35H296.5V145.89H297.0V146.61H297.5V145.99H298.0V146.52H298.5V147.30H299.0V146.40H299.5V147.30H300.0V146.45H300.5V146.44H301.0V146.03H301.5V147.30H302.0V145.91H302.5V146.35H303.0V147.30H303.5V146.05H304.0V146.61H304.5V147.30H305.0V146.86H305.5V146.71H306.0V147.30H306.5H307.0H307.5H308.0V146.55H308.5V147.30H309.0V145.63H309.5V146.48H310.0V146.52H310.5V146.26H311.0V146.19H311.5V146.10H312.0V147.30H312.5H313.0V145.59H313.5V145.90H314.0V145.64H314.5V146.23H315.0V145.68H315.5V145.76H316.0V145.93H316.5V147.30H317.0H317.5H318.0V146.67H318.5V144.12H319.0V145.02H319.5V146.86H320.0V146.36H320.5V146.24H321.0V147.30H321.5H322.0V146.23H322.5V146.76H323.0V146.56H323.5V146.90H324.0V146.82H324.5V146.26H325.0V146.46H325.5V147.30H326.0H326.5V146.13H327.0V146.32H327.5V145.79H328.0V146.60H328.5V146.73H329.0V146.29H329.5V145.84H330.0V145.95H330.5V146.14H331.0V145.91H331.5V146.15H332.0V145.98H332.5V145.98H333.0V147.30H333.5V145.45H334.0V145.85H334.5V147.30H335.0V146.49H335.5V145.43H336.0V146.51H336.5V147.30H337.0V146.23H337.5V146.65H338.0V146.27H338.5V146.90H339.0V146.18H339.5V147.30H340.0V146.20H340.5V146.89H341.0V146.59H341.5V146.32H342.0V147.30H342.5V146.63H343.0V146.49H343.5V147.30H344.0H344.5V146.28H345.0V146.95H345.5V146.82H346.0V146.40H346.5V146.59H347.0V146.70H347.5V146.69H348.0V146.83H348.5V146.33H349.0V147.30H349.5V146.30H350.0V146.25H350.5V147.30H351.0H351.5H352.0H352.5H353.0H353.5H354.0H354.5H355.0H355.5V146.88H356.0V146.29H356.5V147.30H357.0V144.95H357.5V146.38H358.0V146.58H358.5V146.47H359.0V146.89H359.5V147.30H360.0V146.37H360.5V146.50H361.0V146.67H361.5V146.83H362.0V147.30H362.5H363.0H363.5H364.0V146.53H364.5V147.30H365.0H365.5H366.0V146.91H366.5V146.91H367.0V147.30H367.5H368.0V146.90H368.5V146.35H369.0V146.78H369.5V147.30H370.0H370.5H371.0H371.5V146.85H372.0V147.30H372.5V146.92H373.0V147.30H373.5H374.0V146.53H374.5V146.81H375.0V147.00H375.5V146.82H376.0V146.92H376.5V146.79H377.0V147.30H377.5V146.87H378.0V146.52H378.5V146.58H379.0V146.68H379.5V146.61H380.0V146.92H380.5V147.30H381.0V145.56H381.5V145.96H382.0V146.37H382.5V146.30H383.0V147.30H383.5V146.26H384.0V147.30H384.5V146.52H385.0V145.66H385.5V147.30H386.0V146.25H386.5V147.30H387.0V146.10H387.5V146.08H388.0V146.41H388.5V145.82H389.0V146.50H389.5V146.59H390.0V146.45H390.5V146.89H391.0V146.67H391.5V147.30H392.0V146.87H392.5V147.30H393.0V146.86H393.5V147.30H394.0H394.5V146.27H395.0V146.65H395.5V146.34H396.0V146.10H396.5V146.01H397.0V146.29H397.5V146.24H398.0V147.30H398.5V146.70H399.0V146.14H399.5V147.30H400.0V146.54H400.5V146.41H401.0V147.30H401.5H402.0V146.22H402.5V146.93H403.0V146.68H403.5V146.54H404.0V146.76H404.5V146.44H405.0V146.49H405.5V146.63H406.0V146.24H406.5V146.83H407.0V147.30H407.5H408.0H408.5V146.69H409.0V147.30H409.5V146.62H410.0V146.54H410.5V146.79H411.0V146.71H411.5V147.30H412.0V146.29H412.5V146.38H413.0V146.20H413.5V146.77H414.0V146.73H414.5V146.65H415.0V146.84H415.5V145.92H416.0V146.67H416.5V146.31H417.0V147.30H417.5V146.09H418.0V146.71H418.5V146.54H419.0V147.30H419.5H420.0V144.48H420.5V146.42H421.0V146.43H421.5V146.70H422.0V146.79H422.5V146.84H423.0V147.30H423.5H424.0V145.87H424.5V144.14H425.0V145.99H425.5V146.55H426.0V145.60H426.5V146.54H427.0V147.30H427.5V146.06H428.0V147.30H428.5V146.55H429.0V147.30H429.5H430.0H430.5V146.20H431.0V146.25H431.5V147.30H432.0V145.55H432.5V146.20H433.0V145.72H433.5V146.63H434.0V145.82H434.5V146.10H435.0V147.30H435.5V146.48H436.0V147.30H436.5H437.0V146.26H437.5V147.30H438.0V144.65H438.5V145.84H439.0V146.36H439.5V147.30H440.0H440.5V144.42H441.0V146.52H441.5V146.33H442.0V146.59H442.5V145.65H443.0V146.71H443.5V145.95H444.0V146.21H444.5V145.89H445.0V146.60H445.5V145.83H446.0V146.21H446.5V146.30H447.0V146.73H447.5V145.88H448.0V146.57H448.5V146.08H449.0V147.30H449.5V146.21H450.0V146.02H450.5V146.02H451.0V146.00H451.5V147.30H452.0H452.5H453.0V146.42H453.5V146.11H454.0V146.47H454.5V145.62H455.0V145.90H455.5V146.56H456.0V146.68H456.5V147.30H457.0H457.5V146.72H458.0V146.14H458.5V146.59H459.0V146.15H459.5V146.70H460.0V147.30H460.5V146.28H461.0V146.11H461.5V146.19H462.0V146.34H462.5V147.30H463.0V146.86H463.5V146.41H464.0V146.77H464.5V147.30H465.0H465.5H466.0V144.23H466.5V147.30H467.0H467.5V146.56H468.0V146.78H468.5V146.75H469.0V146.99H469.5V146.56H470.0V146.81H470.5V146.68H471.0V146.86H471.5V146.89H472.0V146.99H472.5V146.64H473.0V146.87H473.5V146.64H474.0V146.68H474.5V147.30H475.0H475.5H476.0H476.5H477.0V146.54H477.5V146.13H478.0V146.56H478.5V146.56H479.0V146.02H479.5V146.38H480.0V146.03H480.5V146.03H481.0V146.56H481.5V146.75H482.0V146.46H482.5V146.68H483.0V146.15H483.5V146.32H484.0V147.30H484.5H485.0H485.5H486.0H486.5H487.0H487.5V146.69H488.0V146.72H488.5V146.85H489.0V146.75H489.5V146.82H490.0V146.59H490.5V146.78H491.0V147.30H491.5V146.58H492.0V146.32H492.5V146.59H493.0V146.52H493.5V147.30H494.0H494.5H495.0H495.5V146.98H496.0V146.80H496.5V147.30H497.0V146.80H497.5V147.00H498.0V146.96H498.5V146.93H499.0V146.65H499.5V147.30H500.0V146.69H500.5V146.72H501.0V146.19H501.5V145.71H502.0V147.30H502.5V146.51H503.0V146.01H503.5V145.70H504.0V147.30H504.5H505.0V147.30Z" fill="#4fa32e" stroke="none"/>
<text class="t" x="260.50" y="139.60" font-size="6.3" fill="#6cb33f" stroke="#6cb33f" stroke-width="0.14" text-anchor="middle" >IgG control</text>
<text class="t" x="28.60" y="136.90" font-size="5.4" fill="#6cb33f" stroke="#6cb33f" stroke-width="0.06" text-anchor="end" >1</text>
<text class="t" x="28.60" y="147.00" font-size="5.4" fill="#6cb33f" stroke="#6cb33f" stroke-width="0.06" text-anchor="end" >0</text>
<path d="M31.3 135.3H29.6V147.3" stroke="#6cb33f" stroke-width="0.6" fill="none"/>
<line x1="14.50" y1="162.50" x2="507.50" y2="162.50" stroke="#e6e7e8" stroke-width="0.8" />
<path d="M33.0 162.30V161.36H33.5V161.59H34.0V161.45H34.5V162.30H35.0V161.64H35.5V161.81H36.0V161.37H36.5V162.30H37.0H37.5V161.92H38.0V161.96H38.5V161.48H39.0V161.88H39.5V161.67H40.0V162.30H40.5V161.68H41.0V161.54H41.5V162.30H42.0H42.5V161.70H43.0V161.62H43.5V162.30H44.0H44.5V161.77H45.0V161.84H45.5V161.72H46.0V161.94H46.5V162.30H47.0H47.5V161.67H48.0V161.65H48.5V161.74H49.0V162.30H49.5H50.0V161.84H50.5V161.28H51.0V162.30H51.5H52.0V161.69H52.5V161.92H53.0V161.91H53.5V161.91H54.0V162.30H54.5V161.99H55.0V162.30H55.5V161.98H56.0V162.30H56.5H57.0V161.73H57.5V161.98H58.0V161.68H58.5V161.76H59.0V162.30H59.5H60.0H60.5H61.0H61.5V161.54H62.0V161.87H62.5V162.30H63.0V161.91H63.5V161.85H64.0V162.30H64.5H65.0H65.5V161.61H66.0V161.56H66.5V161.69H67.0V162.30H67.5V161.13H68.0V161.39H68.5V162.30H69.0V161.18H69.5V161.83H70.0V161.48H70.5V161.52H71.0V162.30H71.5V161.73H72.0V162.30H72.5V161.21H73.0V162.30H73.5V161.63H74.0V162.30H74.5V161.39H75.0V162.30H75.5H76.0H76.5H77.0H77.5V161.43H78.0V162.30H78.5H79.0H79.5V161.66H80.0V162.30H80.5V161.66H81.0V161.82H81.5V162.30H82.0V161.70H82.5V162.30H83.0V161.54H83.5V161.51H84.0V162.30H84.5H85.0H85.5H86.0V161.65H86.5V161.64H87.0V162.30H87.5H88.0V161.16H88.5V162.30H89.0H89.5H90.0H90.5H91.0H91.5V161.70H92.0V161.48H92.5V162.30H93.0H93.5H94.0H94.5V161.65H95.0V162.30H95.5V161.52H96.0V162.30H96.5H97.0H97.5V161.39H98.0V162.30H98.5V161.52H99.0V162.30H99.5H100.0V161.82H100.5V161.63H101.0V162.30H101.5V161.77H102.0V162.30H102.5H103.0H103.5V161.88H104.0V161.24H104.5V161.88H105.0V162.30H105.5V161.75H106.0V161.71H106.5V162.30H107.0H107.5H108.0V161.53H108.5V161.31H109.0V161.23H109.5V162.30H110.0V161.82H110.5V162.30H111.0H111.5H112.0H112.5V161.14H113.0V162.30H113.5V161.75H114.0V161.16H114.5V162.30H115.0V161.25H115.5V160.93H116.0V162.30H116.5H117.0V161.48H117.5V161.14H118.0V160.93H118.5V161.59H119.0V162.30H119.5H120.0V161.71H120.5V161.56H121.0V162.30H121.5V161.07H122.0V162.30H122.5V161.18H123.0V162.30H123.5H124.0H124.5H125.0H125.5H126.0H126.5V162.00H127.0V161.85H127.5V161.53H128.0V161.84H128.5V161.76H129.0V162.30H129.5H130.0H130.5V161.31H131.0V162.30H131.5H132.0V161.77H132.5V162.30H133.0H133.5H134.0H134.5H135.0V161.93H135.5V162.30H136.0V161.79H136.5V161.88H137.0V161.54H137.5V161.63H138.0V162.30H138.5H139.0V161.91H139.5V162.30H140.0V161.27H140.5V161.54H141.0V162.30H141.5H142.0H142.5H143.0H143.5H144.0H144.5H145.0H145.5V161.36H146.0V161.71H146.5V162.30H147.0H147.5H148.0H148.5H149.0V161.40H149.5V162.30H150.0H150.5V161.63H151.0V162.30H151.5H152.0V161.38H152.5V161.27H153.0V162.30H153.5V161.70H154.0V161.31H154.5V162.30H155.0H155.5H156.0H156.5H157.0H157.5V161.85H158.0V161.94H158.5V162.30H159.0H159.5H160.0V161.89H160.5V162.30H161.0H161.5V161.70H162.0V162.30H162.5H163.0H163.5H164.0H164.5V161.91H165.0V162.30H165.5H166.0V161.74H166.5V162.30H167.0V161.91H167.5V161.65H168.0V162.30H168.5V161.95H169.0V162.30H169.5H170.0H170.5H171.0H171.5V161.39H172.0V162.30H172.5H173.0H173.5V161.36H174.0V162.30H174.5V161.85H175.0V162.30H175.5H176.0H176.5V161.63H177.0V162.30H177.5V161.60H178.0V162.30H178.5H179.0V161.61H179.5V162.30H180.0H180.5H181.0H181.5H182.0H182.5H183.0H183.5H184.0V161.63H184.5V162.30H185.0V161.19H185.5V162.30H186.0V161.86H186.5V162.30H187.0V160.91H187.5V161.55H188.0V161.55H188.5V162.30H189.0V161.25H189.5V162.30H190.0V161.13H190.5V160.98H191.0V161.22H191.5V162.30H192.0H192.5V161.59H193.0V162.30H193.5V161.52H194.0V162.30H194.5H195.0V161.85H195.5V162.30H196.0H196.5H197.0H197.5H198.0V161.57H198.5V161.80H199.0V161.53H199.5V162.30H200.0V161.72H200.5V161.51H201.0V162.30H201.5H202.0V161.48H202.5V162.30H203.0H203.5V161.51H204.0V162.30H204.5H205.0H205.5H206.0H206.5H207.0V161.76H207.5V162.30H208.0V161.90H208.5V162.30H209.0H209.5H210.0V160.83H210.5V160.98H211.0V160.96H211.5V162.30H212.0V160.96H212.5V162.30H213.0H213.5V160.98H214.0V161.34H214.5V161.35H215.0V162.30H215.5V161.14H216.0V161.13H216.5V162.30H217.0H217.5H218.0H218.5H219.0H219.5V161.92H220.0V161.42H220.5V161.60H221.0V162.30H221.5H222.0V161.49H222.5V162.30H223.0V161.95H223.5V161.93H224.0V162.30H224.5V160.83H225.0V162.30H225.5V161.18H226.0V161.41H226.5V162.30H227.0H227.5V161.00H228.0V162.30H228.5V161.13H229.0V161.50H229.5V162.30H230.0V161.71H230.5V160.96H231.0V161.41H231.5V161.74H232.0V161.58H232.5V162.30H233.0V161.35H233.5V161.38H234.0V162.30H234.5H235.0V161.48H235.5V161.75H236.0V162.30H236.5V161.63H237.0V161.49H237.5V161.64H238.0V162.30H238.5H239.0V161.68H239.5V161.67H240.0V162.30H240.5H241.0V161.95H241.5V161.51H242.0V162.30H242.5H243.0V161.53H243.5V161.51H244.0V162.30H244.5H245.0H245.5V161.68H246.0V162.30H246.5H247.0V161.78H247.5V162.30H248.0H248.5V161.70H249.0V162.30H249.5H250.0V161.29H250.5V162.30H251.0H251.5H252.0H252.5H253.0H253.5H254.0H254.5H255.0H255.5H256.0H256.5H257.0H257.5H258.0V161.04H258.5V162.30H259.0H259.5H260.0H260.5V161.97H261.0V162.30H261.5H262.0H262.5H263.0H263.5H264.0H264.5H265.0H265.5V161.41H266.0V161.05H266.5V161.56H267.0V161.65H267.5V161.40H268.0V161.38H268.5V161.23H269.0V161.53H269.5V160.93H270.0V162.30H270.5H271.0H271.5V161.36H272.0V162.30H272.5H273.0V161.05H273.5V161.61H274.0V162.30H274.5V161.80H275.0V161.54H275.5V162.30H276.0V161.17H276.5V161.09H277.0V161.63H277.5V162.30H278.0H278.5H279.0H279.5V161.90H280.0V162.30H280.5H281.0H281.5H282.0H282.5H283.0H283.5V161.93H284.0V162.30H284.5V161.80H285.0V162.30H285.5H286.0V161.87H286.5V161.79H287.0V161.73H287.5V162.30H288.0V161.80H288.5V162.30H289.0H289.5V161.99H290.0V162.30H290.5H291.0V161.73H291.5V162.30H292.0V161.63H292.5V161.95H293.0V162.30H293.5H294.0V161.76H294.5V161.69H295.0V162.30H295.5H296.0H296.5V161.76H297.0V161.57H297.5V161.50H298.0V161.55H298.5V161.63H299.0V161.20H299.5V162.30H300.0H300.5H301.0V160.91H301.5V161.74H302.0V162.30H302.5H303.0V160.82H303.5V162.30H304.0H304.5H305.0V161.31H305.5V161.18H306.0V161.28H306.5V161.51H307.0V161.54H307.5V161.82H308.0V162.30H308.5H309.0V161.70H309.5V161.45H310.0V161.13H310.5V162.30H311.0H311.5V161.81H312.0V161.35H312.5V162.30H313.0H313.5V161.36H314.0V162.30H314.5H315.0V161.42H315.5V161.37H316.0V162.30H316.5V161.72H317.0V162.30H317.5V161.79H318.0V161.40H318.5V162.30H319.0H319.5V161.61H320.0V161.45H320.5V162.30H321.0H321.5H322.0H322.5V161.81H323.0V161.66H323.5V161.26H324.0V161.70H324.5V162.30H325.0V161.22H325.5V161.56H326.0V161.58H326.5V161.57H327.0V162.30H327.5V161.53H328.0V161.88H328.5V162.30H329.0V161.31H329.5V161.64H330.0V161.78H330.5V162.30H331.0V161.53H331.5V162.30H332.0H332.5H333.0H333.5V161.48H334.0V162.30H334.5H335.0V161.64H335.5V161.61H336.0V161.28H336.5V162.30H337.0V161.54H337.5V161.07H338.0V161.58H338.5V162.30H339.0V161.14H339.5V161.87H340.0V161.22H340.5V161.83H341.0V161.09H341.5V161.74H342.0V161.60H342.5V161.13H343.0V162.30H343.5V161.67H344.0V161.63H344.5V161.46H345.0V162.30H345.5H346.0H346.5V161.76H347.0V161.26H347.5V161.96H348.0V161.67H348.5V162.30H349.0V161.88H349.5V162.30H350.0V161.39H350.5V161.97H351.0V161.68H351.5V161.84H352.0V161.64H352.5V161.89H353.0V161.40H353.5V161.51H354.0V161.77H354.5V161.52H355.0V161.76H355.5V162.30H356.0H356.5H357.0H357.5H358.0V161.30H358.5V160.92H359.0V161.49H359.5V161.42H360.0V160.98H360.5V161.36H361.0V161.09H361.5V161.58H362.0V161.71H362.5V161.71H363.0V162.30H363.5H364.0H364.5H365.0H365.5V161.74H366.0V161.98H366.5V162.30H367.0H367.5H368.0V161.82H368.5V162.30H369.0V161.75H369.5V162.30H370.0H370.5H371.0V161.82H371.5V161.80H372.0V162.30H372.5H373.0V161.75H373.5V162.30H374.0H374.5V161.84H375.0V162.30H375.5H376.0H376.5H377.0V161.49H377.5V162.30H378.0V161.56H378.5V162.30H379.0H379.5H380.0V161.92H380.5V161.92H381.0V161.45H381.5V162.30H382.0V161.60H382.5V162.30H383.0V161.38H383.5V162.30H384.0V161.29H384.5V162.30H385.0V161.87H385.5V161.78H386.0V161.70H386.5V161.35H387.0V162.30H387.5H388.0H388.5H389.0V161.49H389.5V161.50H390.0V162.30H390.5V161.34H391.0V161.65H391.5V161.40H392.0V161.50H392.5V161.32H393.0V162.30H393.5V161.92H394.0V161.99H394.5V162.30H395.0H395.5H396.0V161.85H396.5V162.30H397.0H397.5H398.0H398.5H399.0V161.91H399.5V162.30H400.0V161.96H400.5V162.30H401.0H401.5V161.77H402.0V162.30H402.5V161.78H403.0V161.54H403.5V162.00H404.0V161.45H404.5V161.98H405.0V161.85H405.5V162.30H406.0H406.5V161.68H407.0V161.21H407.5V162.30H408.0H408.5V161.89H409.0V162.30H409.5H410.0V161.56H410.5V162.30H411.0H411.5V161.71H412.0V162.30H412.5V161.63H413.0V161.88H413.5V162.30H414.0V161.71H414.5V162.30H415.0H415.5V161.04H416.0V161.48H416.5V161.15H417.0V161.33H417.5V162.30H418.0H418.5V160.90H419.0V161.71H419.5V162.30H420.0V161.68H420.5V162.30H421.0V160.93H421.5V160.98H422.0V161.40H422.5V161.46H423.0V162.30H423.5V161.18H424.0V160.90H424.5V161.35H425.0V162.30H425.5V161.39H426.0V162.30H426.5V161.12H427.0V162.30H427.5H428.0H428.5V161.01H429.0V162.30H429.5V161.18H430.0V161.22H430.5V161.78H431.0V161.71H431.5V161.19H432.0V162.30H432.5V161.68H433.0V161.72H433.5V162.30H434.0V161.12H434.5V162.30H435.0H435.5V161.16H436.0V162.30H436.5V161.18H437.0V162.30H437.5H438.0H438.5H439.0V161.22H439.5V162.30H440.0V161.88H440.5V161.50H441.0V162.30H441.5V161.74H442.0V162.30H442.5H443.0V161.57H443.5V162.30H444.0H444.5V161.28H445.0V162.30H445.5V161.74H446.0V162.30H446.5H447.0V161.37H447.5V161.97H448.0V161.31H448.5V161.71H449.0V161.68H449.5V162.30H450.0H450.5V161.98H451.0V162.30H451.5V161.75H452.0V161.68H452.5V161.97H453.0V161.44H453.5V162.30H454.0H454.5V161.50H455.0V161.69H455.5V162.30H456.0V161.41H456.5V160.86H457.0V161.18H457.5V162.30H458.0V161.51H458.5V160.88H459.0V162.30H459.5H460.0V161.09H460.5V162.30H461.0H461.5V161.22H462.0V162.30H462.5V161.48H463.0V161.15H463.5V161.05H464.0V161.58H464.5V161.38H465.0V161.39H465.5V162.30H466.0H466.5V161.70H467.0V162.30H467.5H468.0V161.90H468.5V161.75H469.0V162.30H469.5H470.0V161.85H470.5V162.30H471.0H471.5H472.0H472.5H473.0V161.76H473.5V162.30H474.0H474.5V161.70H475.0V161.87H475.5V162.30H476.0H476.5H477.0H477.5H478.0H478.5V161.92H479.0V162.30H479.5H480.0V161.83H480.5V162.30H481.0H481.5V161.07H482.0V162.30H482.5V161.27H483.0V161.05H483.5V161.32H484.0V161.23H484.5V161.19H485.0V161.66H485.5V161.68H486.0V161.70H486.5V161.39H487.0V160.98H487.5V161.73H488.0V160.99H488.5V162.30H489.0V161.63H489.5V161.50H490.0V162.30H490.5V161.68H491.0V161.90H491.5V161.68H492.0V161.40H492.5V161.92H493.0V161.98H493.5V161.54H494.0V161.45H494.5V161.47H495.0V161.77H495.5V161.87H496.0V162.30H496.5H497.0V161.19H497.5V161.79H498.0V161.48H498.5V161.19H499.0V162.30H499.5V161.87H500.0V161.39H500.5V161.61H501.0V162.30H501.5H502.0V161.03H502.5V162.30H503.0H503.5H504.0V161.84H504.5V161.85H505.0V162.30Z" fill="#6f6f30" stroke="none"/>
<text class="t" x="260.50" y="154.60" font-size="6.3" fill="#8b8b4b" stroke="#8b8b4b" stroke-width="0.14" text-anchor="middle" >Hoxa9_Tcells</text>
<text class="t" x="28.60" y="151.90" font-size="5.4" fill="#8b8b4b" stroke="#8b8b4b" stroke-width="0.06" text-anchor="end" >1</text>
<text class="t" x="28.60" y="162.00" font-size="5.4" fill="#8b8b4b" stroke="#8b8b4b" stroke-width="0.06" text-anchor="end" >0</text>
<path d="M31.3 150.3H29.6V162.3" stroke="#8b8b4b" stroke-width="0.6" fill="none"/>
<line x1="32.40" y1="72.80" x2="32.40" y2="162.60" stroke="#f4a6a6" stroke-width="0.6" />
<text class="t" x="15.00" y="180.80" font-size="10.2" fill="#cc2229" stroke="#cc2229" stroke-width="0.22" text-anchor="start" textLength="89" lengthAdjust="spacingAndGlyphs" >human AML (MV4;11)</text>
<rect x="14.50" y="183.20" width="493.00" height="53.80" fill="none" stroke="#9d9fa2" stroke-width="1" />
<text class="t" x="31.60" y="188.60" font-size="6.4" fill="#231f20" stroke="#231f20" stroke-width="0.14" text-anchor="middle" textLength="29.4" lengthAdjust="spacingAndGlyphs" >135,640 kb</text>
<text class="t" x="94.20" y="188.60" font-size="6.4" fill="#231f20" stroke="#231f20" stroke-width="0.14" text-anchor="middle" textLength="29.4" lengthAdjust="spacingAndGlyphs" >135,620 kb</text>
<text class="t" x="157.50" y="188.60" font-size="6.4" fill="#231f20" stroke="#231f20" stroke-width="0.14" text-anchor="middle" textLength="29.4" lengthAdjust="spacingAndGlyphs" >135,600 kb</text>
<text class="t" x="221.80" y="188.60" font-size="6.4" fill="#231f20" stroke="#231f20" stroke-width="0.14" text-anchor="middle" textLength="29.4" lengthAdjust="spacingAndGlyphs" >135,580 kb</text>
<text class="t" x="285.20" y="188.60" font-size="6.4" fill="#231f20" stroke="#231f20" stroke-width="0.14" text-anchor="middle" textLength="29.4" lengthAdjust="spacingAndGlyphs" >135,560 kb</text>
<text class="t" x="349.50" y="188.60" font-size="6.4" fill="#231f20" stroke="#231f20" stroke-width="0.14" text-anchor="middle" textLength="29.4" lengthAdjust="spacingAndGlyphs" >135,540 kb</text>
<text class="t" x="413.60" y="188.60" font-size="6.4" fill="#231f20" stroke="#231f20" stroke-width="0.14" text-anchor="middle" textLength="29.4" lengthAdjust="spacingAndGlyphs" >135,520 kb</text>
<text class="t" x="478.20" y="188.60" font-size="6.4" fill="#231f20" stroke="#231f20" stroke-width="0.14" text-anchor="middle" textLength="29.4" lengthAdjust="spacingAndGlyphs" >135,500 kb</text>
<line x1="29.10" y1="190.00" x2="29.10" y2="192.00" stroke="#808285" stroke-width="0.8" />
<line x1="61.22" y1="190.00" x2="61.22" y2="192.00" stroke="#808285" stroke-width="0.8" />
<line x1="93.34" y1="190.00" x2="93.34" y2="192.00" stroke="#808285" stroke-width="0.8" />
<line x1="125.46" y1="190.00" x2="125.46" y2="192.00" stroke="#808285" stroke-width="0.8" />
<line x1="157.58" y1="190.00" x2="157.58" y2="192.00" stroke="#808285" stroke-width="0.8" />
<line x1="189.70" y1="190.00" x2="189.70" y2="192.00" stroke="#808285" stroke-width="0.8" />
<line x1="221.82" y1="190.00" x2="221.82" y2="192.00" stroke="#808285" stroke-width="0.8" />
<line x1="253.94" y1="190.00" x2="253.94" y2="192.00" stroke="#808285" stroke-width="0.8" />
<line x1="286.06" y1="190.00" x2="286.06" y2="192.00" stroke="#808285" stroke-width="0.8" />
<line x1="318.18" y1="190.00" x2="318.18" y2="192.00" stroke="#808285" stroke-width="0.8" />
<line x1="350.30" y1="190.00" x2="350.30" y2="192.00" stroke="#808285" stroke-width="0.8" />
<line x1="382.42" y1="190.00" x2="382.42" y2="192.00" stroke="#808285" stroke-width="0.8" />
<line x1="414.54" y1="190.00" x2="414.54" y2="192.00" stroke="#808285" stroke-width="0.8" />
<line x1="446.66" y1="190.00" x2="446.66" y2="192.00" stroke="#808285" stroke-width="0.8" />
<line x1="478.78" y1="190.00" x2="478.78" y2="192.00" stroke="#808285" stroke-width="0.8" />
<rect x="14.50" y="192.50" width="493.00" height="2.60" rx="1.5" fill="#fff" stroke="#9d9fa2" stroke-width="0.9"/>
<rect x="15.00" y="196.30" width="492.00" height="3.30" fill="#fffae2" stroke="none" stroke-width="1" />
<rect x="15.50" y="196.30" width="1.60" height="3.30" fill="#fffdf2" stroke="none" stroke-width="1" />
<rect x="17.90" y="196.30" width="1.00" height="3.30" fill="#faee9a" stroke="none" stroke-width="1" />
<rect x="21.40" y="196.30" width="2.00" height="3.30" fill="#fffdf2" stroke="none" stroke-width="1" />
<rect x="24.20" y="196.30" width="2.00" height="3.30" fill="#fffdf2" stroke="none" stroke-width="1" />
<rect x="30.90" y="196.30" width="2.50" height="3.30" fill="#fffdf2" stroke="none" stroke-width="1" />
<rect x="35.90" y="196.30" width="3.00" height="3.30" fill="#f7e05a" stroke="none" stroke-width="1" />
<rect x="44.60" y="196.30" width="2.00" height="3.30" fill="#fffdf2" stroke="none" stroke-width="1" />
<rect x="52.00" y="196.30" width="1.00" height="3.30" fill="#f7e05a" stroke="none" stroke-width="1" />
<rect x="55.50" y="196.30" width="1.00" height="3.30" fill="#f7e05a" stroke="none" stroke-width="1" />
<rect x="56.80" y="196.30" width="2.00" height="3.30" fill="#f7e05a" stroke="none" stroke-width="1" />
<rect x="59.60" y="196.30" width="1.60" height="3.30" fill="#faee9a" stroke="none" stroke-width="1" />
<rect x="67.00" y="196.30" width="1.60" height="3.30" fill="#faee9a" stroke="none" stroke-width="1" />
<rect x="71.10" y="196.30" width="2.00" height="3.30" fill="#fffdf2" stroke="none" stroke-width="1" />
<rect x="79.10" y="196.30" width="2.00" height="3.30" fill="#f5b548" stroke="none" stroke-width="1" />
<rect x="87.10" y="196.30" width="2.00" height="3.30" fill="#fffdf2" stroke="none" stroke-width="1" />
<rect x="89.90" y="196.30" width="2.00" height="3.30" fill="#faee9a" stroke="none" stroke-width="1" />
<rect x="94.60" y="196.30" width="1.60" height="3.30" fill="#faee9a" stroke="none" stroke-width="1" />
<rect x="97.00" y="196.30" width="3.00" height="3.30" fill="#f7e05a" stroke="none" stroke-width="1" />
<rect x="101.50" y="196.30" width="1.30" height="3.30" fill="#fffdf2" stroke="none" stroke-width="1" />
<rect x="104.30" y="196.30" width="3.00" height="3.30" fill="#faee9a" stroke="none" stroke-width="1" />
<rect x="120.80" y="196.30" width="1.60" height="3.30" fill="#fffdf2" stroke="none" stroke-width="1" />
<rect x="123.90" y="196.30" width="2.00" height="3.30" fill="#f7e05a" stroke="none" stroke-width="1" />
<rect x="126.20" y="196.30" width="2.00" height="3.30" fill="#faee9a" stroke="none" stroke-width="1" />
<rect x="130.70" y="196.30" width="1.60" height="3.30" fill="#faee9a" stroke="none" stroke-width="1" />
<rect x="144.10" y="196.30" width="1.00" height="3.30" fill="#fffdf2" stroke="none" stroke-width="1" />
<rect x="161.10" y="196.30" width="2.50" height="3.30" fill="#faee9a" stroke="none" stroke-width="1" />
<rect x="165.10" y="196.30" width="1.30" height="3.30" fill="#fffdf2" stroke="none" stroke-width="1" />
<rect x="170.00" y="196.30" width="0.80" height="3.30" fill="#fffdf2" stroke="none" stroke-width="1" />
<rect x="176.80" y="196.30" width="1.00" height="3.30" fill="#f7e05a" stroke="none" stroke-width="1" />
<rect x="178.10" y="196.30" width="1.00" height="3.30" fill="#fffdf2" stroke="none" stroke-width="1" />
<rect x="179.40" y="196.30" width="2.00" height="3.30" fill="#f7e05a" stroke="none" stroke-width="1" />
<rect x="182.80" y="196.30" width="3.00" height="3.30" fill="#fffdf2" stroke="none" stroke-width="1" />
<rect x="186.60" y="196.30" width="3.00" height="3.30" fill="#f7e05a" stroke="none" stroke-width="1" />
<rect x="192.10" y="196.30" width="3.00" height="3.30" fill="#fffdf2" stroke="none" stroke-width="1" />
<rect x="197.60" y="196.30" width="3.00" height="3.30" fill="#f5b548" stroke="none" stroke-width="1" />
<rect x="210.40" y="196.30" width="3.00" height="3.30" fill="#fffdf2" stroke="none" stroke-width="1" />
<rect x="214.20" y="196.30" width="1.60" height="3.30" fill="#fffdf2" stroke="none" stroke-width="1" />
<rect x="216.60" y="196.30" width="2.00" height="3.30" fill="#f7e05a" stroke="none" stroke-width="1" />
<rect x="218.90" y="196.30" width="3.00" height="3.30" fill="#faee9a" stroke="none" stroke-width="1" />
<rect x="224.40" y="196.30" width="1.00" height="3.30" fill="#faee9a" stroke="none" stroke-width="1" />
<rect x="234.00" y="196.30" width="1.60" height="3.30" fill="#fffdf2" stroke="none" stroke-width="1" />
<rect x="250.70" y="196.30" width="3.00" height="3.30" fill="#faee9a" stroke="none" stroke-width="1" />
<rect x="255.20" y="196.30" width="1.30" height="3.30" fill="#fffdf2" stroke="none" stroke-width="1" />
<rect x="259.70" y="196.30" width="1.60" height="3.30" fill="#fffdf2" stroke="none" stroke-width="1" />
<rect x="270.80" y="196.30" width="0.80" height="3.30" fill="#faee9a" stroke="none" stroke-width="1" />
<rect x="271.90" y="196.30" width="1.60" height="3.30" fill="#fffdf2" stroke="none" stroke-width="1" />
<rect x="276.00" y="196.30" width="0.80" height="3.30" fill="#faee9a" stroke="none" stroke-width="1" />
<rect x="277.60" y="196.30" width="1.00" height="3.30" fill="#fffdf2" stroke="none" stroke-width="1" />
<rect x="281.00" y="196.30" width="3.00" height="3.30" fill="#faee9a" stroke="none" stroke-width="1" />
<rect x="286.50" y="196.30" width="1.30" height="3.30" fill="#f5b548" stroke="none" stroke-width="1" />
<rect x="299.70" y="196.30" width="0.80" height="3.30" fill="#f7e05a" stroke="none" stroke-width="1" />
<rect x="303.60" y="196.30" width="3.00" height="3.30" fill="#f7e05a" stroke="none" stroke-width="1" />
<rect x="311.40" y="196.30" width="1.60" height="3.30" fill="#fffdf2" stroke="none" stroke-width="1" />
<rect x="318.80" y="196.30" width="2.50" height="3.30" fill="#fffdf2" stroke="none" stroke-width="1" />
<rect x="326.90" y="196.30" width="1.60" height="3.30" fill="#faee9a" stroke="none" stroke-width="1" />
<rect x="330.00" y="196.30" width="2.50" height="3.30" fill="#fffdf2" stroke="none" stroke-width="1" />
<rect x="332.80" y="196.30" width="2.00" height="3.30" fill="#f5b548" stroke="none" stroke-width="1" />
<rect x="343.50" y="196.30" width="2.00" height="3.30" fill="#fffdf2" stroke="none" stroke-width="1" />
<rect x="345.80" y="196.30" width="1.00" height="3.30" fill="#fffdf2" stroke="none" stroke-width="1" />
<rect x="351.80" y="196.30" width="3.00" height="3.30" fill="#f7e05a" stroke="none" stroke-width="1" />
<rect x="362.90" y="196.30" width="2.00" height="3.30" fill="#fffdf2" stroke="none" stroke-width="1" />
<rect x="367.40" y="196.30" width="1.60" height="3.30" fill="#f7e05a" stroke="none" stroke-width="1" />
<rect x="374.80" y="196.30" width="0.80" height="3.30" fill="#fffdf2" stroke="none" stroke-width="1" />
<rect x="382.30" y="196.30" width="1.30" height="3.30" fill="#f7e05a" stroke="none" stroke-width="1" />
<rect x="385.10" y="196.30" width="1.30" height="3.30" fill="#fffdf2" stroke="none" stroke-width="1" />
<rect x="388.90" y="196.30" width="2.00" height="3.30" fill="#fffdf2" stroke="none" stroke-width="1" />
<rect x="394.70" y="196.30" width="1.30" height="3.30" fill="#fffdf2" stroke="none" stroke-width="1" />
<rect x="397.50" y="196.30" width="1.60" height="3.30" fill="#fffdf2" stroke="none" stroke-width="1" />
<rect x="403.90" y="196.30" width="3.00" height="3.30" fill="#faee9a" stroke="none" stroke-width="1" />
<rect x="408.40" y="196.30" width="2.50" height="3.30" fill="#fffdf2" stroke="none" stroke-width="1" />
<rect x="411.20" y="196.30" width="1.00" height="3.30" fill="#f7e05a" stroke="none" stroke-width="1" />
<rect x="423.90" y="196.30" width="2.00" height="3.30" fill="#f7e05a" stroke="none" stroke-width="1" />
<rect x="432.40" y="196.30" width="3.00" height="3.30" fill="#f7e05a" stroke="none" stroke-width="1" />
<rect x="439.00" y="196.30" width="0.80" height="3.30" fill="#fffdf2" stroke="none" stroke-width="1" />
<rect x="441.30" y="196.30" width="1.00" height="3.30" fill="#f7e05a" stroke="none" stroke-width="1" />
<rect x="443.80" y="196.30" width="1.30" height="3.30" fill="#f7e05a" stroke="none" stroke-width="1" />
<rect x="449.40" y="196.30" width="2.00" height="3.30" fill="#fffdf2" stroke="none" stroke-width="1" />
<rect x="452.20" y="196.30" width="0.80" height="3.30" fill="#faee9a" stroke="none" stroke-width="1" />
<rect x="454.50" y="196.30" width="0.80" height="3.30" fill="#fffdf2" stroke="none" stroke-width="1" />
<rect x="457.80" y="196.30" width="3.00" height="3.30" fill="#fffdf2" stroke="none" stroke-width="1" />
<rect x="463.20" y="196.30" width="2.00" height="3.30" fill="#fffdf2" stroke="none" stroke-width="1" />
<rect x="471.40" y="196.30" width="1.00" height="3.30" fill="#f7e05a" stroke="none" stroke-width="1" />
<rect x="473.90" y="196.30" width="2.00" height="3.30" fill="#f7e05a" stroke="none" stroke-width="1" />
<rect x="476.70" y="196.30" width="1.30" height="3.30" fill="#fffdf2" stroke="none" stroke-width="1" />
<rect x="480.60" y="196.30" width="0.80" height="3.30" fill="#f7e05a" stroke="none" stroke-width="1" />
<rect x="483.90" y="196.30" width="2.50" height="3.30" fill="#fffdf2" stroke="none" stroke-width="1" />
<rect x="489.60" y="196.30" width="2.50" height="3.30" fill="#faee9a" stroke="none" stroke-width="1" />
<rect x="494.60" y="196.30" width="0.80" height="3.30" fill="#f7e05a" stroke="none" stroke-width="1" />
<rect x="496.20" y="196.30" width="2.50" height="3.30" fill="#fffdf2" stroke="none" stroke-width="1" />
<rect x="499.50" y="196.30" width="2.50" height="3.30" fill="#f7e05a" stroke="none" stroke-width="1" />
<rect x="146.00" y="196.30" width="1.30" height="3.30" fill="#e0281c" stroke="none" stroke-width="1" />
<rect x="150.00" y="196.30" width="1.30" height="3.30" fill="#e0281c" stroke="none" stroke-width="1" />
<rect x="151.70" y="196.30" width="1.20" height="3.30" fill="#e0281c" stroke="none" stroke-width="1" />
<rect x="186.30" y="196.30" width="1.30" height="3.30" fill="#e0281c" stroke="none" stroke-width="1" />
<rect x="196.70" y="196.30" width="1.30" height="3.30" fill="#e0281c" stroke="none" stroke-width="1" />
<rect x="201.20" y="196.30" width="1.20" height="3.30" fill="#e0281c" stroke="none" stroke-width="1" />
<rect x="172.50" y="196.30" width="1.20" height="3.30" fill="#f09a2a" stroke="none" stroke-width="1" />
<rect x="188.00" y="196.30" width="1.20" height="3.30" fill="#f09a2a" stroke="none" stroke-width="1" />
<rect x="350.80" y="196.30" width="1.50" height="3.30" fill="#e0281c" stroke="none" stroke-width="1" />
<rect x="352.50" y="196.30" width="1.20" height="3.30" fill="#e0281c" stroke="none" stroke-width="1" />
<rect x="397.50" y="196.30" width="1.20" height="3.30" fill="#f09a2a" stroke="none" stroke-width="1" />
<rect x="398.50" y="196.30" width="1.20" height="3.30" fill="#f09a2a" stroke="none" stroke-width="1" />
<rect x="407.90" y="196.30" width="1.30" height="3.30" fill="#e0281c" stroke="none" stroke-width="1" />
<rect x="410.00" y="196.30" width="1.20" height="3.30" fill="#f09a2a" stroke="none" stroke-width="1" />
<rect x="419.20" y="196.30" width="1.40" height="3.30" fill="#e0281c" stroke="none" stroke-width="1" />
<rect x="420.50" y="196.30" width="1.20" height="3.30" fill="#e0281c" stroke="none" stroke-width="1" />
<rect x="423.80" y="196.30" width="1.80" height="3.30" fill="#e0281c" stroke="none" stroke-width="1" />
<rect x="428.40" y="196.30" width="1.30" height="3.30" fill="#e0281c" stroke="none" stroke-width="1" />
<rect x="430.30" y="196.30" width="1.30" height="3.30" fill="#e0281c" stroke="none" stroke-width="1" />
<rect x="434.80" y="196.30" width="1.20" height="3.30" fill="#f09a2a" stroke="none" stroke-width="1" />
<rect x="437.30" y="196.30" width="1.30" height="3.30" fill="#e0281c" stroke="none" stroke-width="1" />
<rect x="442.10" y="196.30" width="1.40" height="3.30" fill="#e0281c" stroke="none" stroke-width="1" />
<rect x="444.20" y="196.30" width="1.20" height="3.30" fill="#f09a2a" stroke="none" stroke-width="1" />
<rect x="454.60" y="196.30" width="1.30" height="3.30" fill="#e0281c" stroke="none" stroke-width="1" />
<rect x="456.30" y="196.30" width="1.30" height="3.30" fill="#e0281c" stroke="none" stroke-width="1" />
<rect x="464.00" y="196.30" width="1.30" height="3.30" fill="#e0281c" stroke="none" stroke-width="1" />
<rect x="466.70" y="196.30" width="1.30" height="3.30" fill="#e0281c" stroke="none" stroke-width="1" />
<rect x="470.40" y="196.30" width="1.30" height="3.30" fill="#e0281c" stroke="none" stroke-width="1" />
<rect x="474.40" y="196.30" width="1.30" height="3.30" fill="#e0281c" stroke="none" stroke-width="1" />
<rect x="478.80" y="196.30" width="1.30" height="3.30" fill="#e0281c" stroke="none" stroke-width="1" />
<rect x="371.50" y="196.30" width="1.20" height="3.30" fill="#f09a2a" stroke="none" stroke-width="1" />
<rect x="378.40" y="196.30" width="1.20" height="3.30" fill="#f09a2a" stroke="none" stroke-width="1" />
<rect x="413.00" y="196.30" width="1.20" height="3.30" fill="#f09a2a" stroke="none" stroke-width="1" />
<rect x="471.90" y="196.30" width="1.20" height="3.30" fill="#f09a2a" stroke="none" stroke-width="1" />
<rect x="486.50" y="196.30" width="1.20" height="3.30" fill="#f09a2a" stroke="none" stroke-width="1" />
<rect x="135.00" y="196.30" width="1.50" height="3.30" fill="#f5dc48" stroke="none" stroke-width="1" />
<rect x="138.00" y="196.30" width="2.00" height="3.30" fill="#f5dc48" stroke="none" stroke-width="1" />
<rect x="78.70" y="196.30" width="2.70" height="3.30" fill="#f5dc48" stroke="none" stroke-width="1" />
<rect x="89.50" y="196.30" width="1.00" height="3.30" fill="#f5dc48" stroke="none" stroke-width="1" />
<rect x="103.00" y="196.30" width="1.00" height="3.30" fill="#f5dc48" stroke="none" stroke-width="1" />
<rect x="108.00" y="196.30" width="1.00" height="3.30" fill="#f5dc48" stroke="none" stroke-width="1" />
<rect x="489.00" y="196.30" width="17.50" height="3.30" fill="#fffdf4" stroke="none" stroke-width="1" />
<text class="t" x="15.80" y="199.80" font-size="7.3" fill="#231f20" stroke="#231f20" stroke-width="0.14" text-anchor="start" font-weight="bold" textLength="41.2" lengthAdjust="spacingAndGlyphs" >conservation</text>
<line x1="15.50" y1="203.10" x2="140.70" y2="203.10" stroke="#6d6e71" stroke-width="0.9" />
<line x1="18.40" y1="202.30" x2="19.60" y2="203.10" stroke="#58595b" stroke-width="0.6" />
<line x1="18.40" y1="203.90" x2="19.60" y2="203.10" stroke="#58595b" stroke-width="0.6" />
<line x1="26.90" y1="202.30" x2="28.10" y2="203.10" stroke="#58595b" stroke-width="0.6" />
<line x1="26.90" y1="203.90" x2="28.10" y2="203.10" stroke="#58595b" stroke-width="0.6" />
<line x1="35.40" y1="202.30" x2="36.60" y2="203.10" stroke="#58595b" stroke-width="0.6" />
<line x1="35.40" y1="203.90" x2="36.60" y2="203.10" stroke="#58595b" stroke-width="0.6" />
<line x1="43.90" y1="202.30" x2="45.10" y2="203.10" stroke="#58595b" stroke-width="0.6" />
<line x1="43.90" y1="203.90" x2="45.10" y2="203.10" stroke="#58595b" stroke-width="0.6" />
<line x1="52.40" y1="202.30" x2="53.60" y2="203.10" stroke="#58595b" stroke-width="0.6" />
<line x1="52.40" y1="203.90" x2="53.60" y2="203.10" stroke="#58595b" stroke-width="0.6" />
<line x1="60.90" y1="202.30" x2="62.10" y2="203.10" stroke="#58595b" stroke-width="0.6" />
<line x1="60.90" y1="203.90" x2="62.10" y2="203.10" stroke="#58595b" stroke-width="0.6" />
<line x1="69.40" y1="202.30" x2="70.60" y2="203.10" stroke="#58595b" stroke-width="0.6" />
<line x1="69.40" y1="203.90" x2="70.60" y2="203.10" stroke="#58595b" stroke-width="0.6" />
<line x1="77.90" y1="202.30" x2="79.10" y2="203.10" stroke="#58595b" stroke-width="0.6" />
<line x1="77.90" y1="203.90" x2="79.10" y2="203.10" stroke="#58595b" stroke-width="0.6" />
<line x1="86.40" y1="202.30" x2="87.60" y2="203.10" stroke="#58595b" stroke-width="0.6" />
<line x1="86.40" y1="203.90" x2="87.60" y2="203.10" stroke="#58595b" stroke-width="0.6" />
<line x1="94.90" y1="202.30" x2="96.10" y2="203.10" stroke="#58595b" stroke-width="0.6" />
<line x1="94.90" y1="203.90" x2="96.10" y2="203.10" stroke="#58595b" stroke-width="0.6" />
<line x1="103.40" y1="202.30" x2="104.60" y2="203.10" stroke="#58595b" stroke-width="0.6" />
<line x1="103.40" y1="203.90" x2="104.60" y2="203.10" stroke="#58595b" stroke-width="0.6" />
<line x1="111.90" y1="202.30" x2="113.10" y2="203.10" stroke="#58595b" stroke-width="0.6" />
<line x1="111.90" y1="203.90" x2="113.10" y2="203.10" stroke="#58595b" stroke-width="0.6" />
<line x1="120.40" y1="202.30" x2="121.60" y2="203.10" stroke="#58595b" stroke-width="0.6" />
<line x1="120.40" y1="203.90" x2="121.60" y2="203.10" stroke="#58595b" stroke-width="0.6" />
<line x1="128.90" y1="202.30" x2="130.10" y2="203.10" stroke="#58595b" stroke-width="0.6" />
<line x1="128.90" y1="203.90" x2="130.10" y2="203.10" stroke="#58595b" stroke-width="0.6" />
<rect x="30.20" y="201.60" width="1.20" height="3.00" fill="#2e3192" stroke="none" stroke-width="1" />
<rect x="88.10" y="201.60" width="1.20" height="3.00" fill="#2e3192" stroke="none" stroke-width="1" />
<rect x="103.00" y="201.60" width="1.20" height="3.00" fill="#2e3192" stroke="none" stroke-width="1" />
<rect x="120.50" y="201.60" width="1.20" height="3.00" fill="#2e3192" stroke="none" stroke-width="1" />
<rect x="124.50" y="201.60" width="1.20" height="3.00" fill="#2e3192" stroke="none" stroke-width="1" />
<rect x="135.30" y="201.60" width="5.40" height="3.00" fill="#2e3192" stroke="none" stroke-width="1" />
<line x1="345.60" y1="203.10" x2="470.50" y2="203.10" stroke="#6d6e71" stroke-width="0.9" />
<line x1="351.40" y1="202.30" x2="352.60" y2="203.10" stroke="#58595b" stroke-width="0.6" />
<line x1="351.40" y1="203.90" x2="352.60" y2="203.10" stroke="#58595b" stroke-width="0.6" />
<line x1="359.90" y1="202.30" x2="361.10" y2="203.10" stroke="#58595b" stroke-width="0.6" />
<line x1="359.90" y1="203.90" x2="361.10" y2="203.10" stroke="#58595b" stroke-width="0.6" />
<line x1="368.40" y1="202.30" x2="369.60" y2="203.10" stroke="#58595b" stroke-width="0.6" />
<line x1="368.40" y1="203.90" x2="369.60" y2="203.10" stroke="#58595b" stroke-width="0.6" />
<line x1="376.90" y1="202.30" x2="378.10" y2="203.10" stroke="#58595b" stroke-width="0.6" />
<line x1="376.90" y1="203.90" x2="378.10" y2="203.10" stroke="#58595b" stroke-width="0.6" />
<line x1="385.40" y1="202.30" x2="386.60" y2="203.10" stroke="#58595b" stroke-width="0.6" />
<line x1="385.40" y1="203.90" x2="386.60" y2="203.10" stroke="#58595b" stroke-width="0.6" />
<line x1="393.90" y1="202.30" x2="395.10" y2="203.10" stroke="#58595b" stroke-width="0.6" />
<line x1="393.90" y1="203.90" x2="395.10" y2="203.10" stroke="#58595b" stroke-width="0.6" />
<line x1="402.40" y1="202.30" x2="403.60" y2="203.10" stroke="#58595b" stroke-width="0.6" />
<line x1="402.40" y1="203.90" x2="403.60" y2="203.10" stroke="#58595b" stroke-width="0.6" />
<line x1="410.90" y1="202.30" x2="412.10" y2="203.10" stroke="#58595b" stroke-width="0.6" />
<line x1="410.90" y1="203.90" x2="412.10" y2="203.10" stroke="#58595b" stroke-width="0.6" />
<line x1="419.40" y1="202.30" x2="420.60" y2="203.10" stroke="#58595b" stroke-width="0.6" />
<line x1="419.40" y1="203.90" x2="420.60" y2="203.10" stroke="#58595b" stroke-width="0.6" />
<line x1="427.90" y1="202.30" x2="429.10" y2="203.10" stroke="#58595b" stroke-width="0.6" />
<line x1="427.90" y1="203.90" x2="429.10" y2="203.10" stroke="#58595b" stroke-width="0.6" />
<line x1="436.40" y1="202.30" x2="437.60" y2="203.10" stroke="#58595b" stroke-width="0.6" />
<line x1="436.40" y1="203.90" x2="437.60" y2="203.10" stroke="#58595b" stroke-width="0.6" />
<line x1="444.90" y1="202.30" x2="446.10" y2="203.10" stroke="#58595b" stroke-width="0.6" />
<line x1="444.90" y1="203.90" x2="446.10" y2="203.10" stroke="#58595b" stroke-width="0.6" />
<line x1="453.40" y1="202.30" x2="454.60" y2="203.10" stroke="#58595b" stroke-width="0.6" />
<line x1="453.40" y1="203.90" x2="454.60" y2="203.10" stroke="#58595b" stroke-width="0.6" />
<line x1="461.90" y1="202.30" x2="463.10" y2="203.10" stroke="#58595b" stroke-width="0.6" />
<line x1="461.90" y1="203.90" x2="463.10" y2="203.10" stroke="#58595b" stroke-width="0.6" />
<rect x="345.60" y="201.60" width="5.20" height="3.00" fill="#2e3192" stroke="none" stroke-width="1" />
<rect x="400.20" y="201.60" width="1.20" height="3.00" fill="#2e3192" stroke="none" stroke-width="1" />
<rect x="404.80" y="201.60" width="1.20" height="3.00" fill="#2e3192" stroke="none" stroke-width="1" />
<rect x="409.40" y="201.60" width="1.20" height="3.00" fill="#2e3192" stroke="none" stroke-width="1" />
<rect x="413.40" y="201.60" width="1.20" height="3.00" fill="#2e3192" stroke="none" stroke-width="1" />
<rect x="419.80" y="201.60" width="1.20" height="3.00" fill="#2e3192" stroke="none" stroke-width="1" />
<rect x="423.80" y="201.60" width="1.20" height="3.00" fill="#2e3192" stroke="none" stroke-width="1" />
<rect x="426.70" y="201.60" width="1.20" height="3.00" fill="#2e3192" stroke="none" stroke-width="1" />
<rect x="429.00" y="201.60" width="1.20" height="3.00" fill="#2e3192" stroke="none" stroke-width="1" />
<rect x="434.20" y="201.60" width="1.20" height="3.00" fill="#2e3192" stroke="none" stroke-width="1" />
<rect x="434.60" y="201.60" width="1.20" height="3.00" fill="#2e3192" stroke="none" stroke-width="1" />
<rect x="449.00" y="201.60" width="1.20" height="3.00" fill="#2e3192" stroke="none" stroke-width="1" />
<rect x="455.40" y="201.60" width="1.20" height="3.00" fill="#2e3192" stroke="none" stroke-width="1" />
<rect x="441.50" y="201.60" width="1.80" height="3.00" fill="#2e3192" stroke="none" stroke-width="1" />
<rect x="469.30" y="201.60" width="1.20" height="3.00" fill="#2e3192" stroke="none" stroke-width="1" />
<line x1="284.40" y1="200.80" x2="284.40" y2="204.30" stroke="#2e3192" stroke-width="0.7" />
<text class="t" x="19.90" y="211.40" font-size="7.8" fill="#231f20" stroke="#231f20" stroke-width="0.14" text-anchor="start" textLength="16.2" lengthAdjust="spacingAndGlyphs" >hg19</text>
<text class="t" x="72.00" y="210.90" font-size="6.0" fill="#231f20" stroke="#231f20" stroke-width="0.14" text-anchor="start" textLength="13.4" lengthAdjust="spacingAndGlyphs" >AHI1</text>
<text class="t" x="248.10" y="211.10" font-size="7.6" fill="#343a9a" stroke="#343a9a" stroke-width="0.14" text-anchor="start" textLength="23.2" lengthAdjust="spacingAndGlyphs" >MV4;11</text>
<text class="t" x="276.20" y="210.30" font-size="4.6" fill="#231f20" stroke="#231f20" stroke-width="0.06" text-anchor="start" textLength="22.8" lengthAdjust="spacingAndGlyphs" >MIR548A2</text>
<text class="t" x="402.50" y="210.90" font-size="6.9" fill="#231f20" stroke="#231f20" stroke-width="0.14" text-anchor="start" textLength="14.4" lengthAdjust="spacingAndGlyphs" >MYB</text>
<line x1="14.50" y1="211.50" x2="507.50" y2="211.50" stroke="#e1e2e3" stroke-width="0.8" />
<path d="M16.0 226.30V226.30H16.5H17.0V225.69H17.5V225.18H18.0V225.88H18.5V225.34H19.0V225.14H19.5V225.28H20.0V225.29H20.5V225.23H21.0V224.96H21.5V225.55H22.0V225.12H22.5V225.38H23.0V225.69H23.5V226.30H24.0H24.5H25.0V224.88H25.5V224.86H26.0V224.39H26.5V225.26H27.0V225.27H27.5V224.97H28.0V224.65H28.5V224.55H29.0V226.30H29.5H30.0H30.5V224.92H31.0V226.30H31.5V224.62H32.0V225.17H32.5V225.30H33.0V224.74H33.5V224.62H34.0V225.61H34.5V224.89H35.0V225.70H35.5V226.30H36.0V225.55H36.5V225.48H37.0V225.84H37.5V225.60H38.0V225.63H38.5V225.93H39.0V225.47H39.5V225.62H40.0V225.74H40.5V223.94H41.0V223.89H41.5V223.92H42.0V225.77H42.5V225.82H43.0V226.30H43.5H44.0H44.5H45.0H45.5V225.80H46.0V225.43H46.5V225.96H47.0V225.97H47.5V225.77H48.0V225.67H48.5V225.59H49.0V225.52H49.5V225.51H50.0V226.30H50.5V225.31H51.0V226.30H51.5V224.14H52.0V225.44H52.5V225.55H53.0V225.39H53.5V226.30H54.0H54.5H55.0V221.06H55.5V220.93H56.0V221.07H56.5V226.30H57.0H57.5H58.0H58.5V224.82H59.0V224.70H59.5V225.36H60.0V224.58H60.5V226.30H61.0V224.52H61.5V225.27H62.0V225.11H62.5V225.22H63.0V224.47H63.5V224.35H64.0V225.60H64.5V225.42H65.0V224.51H65.5V225.24H66.0V221.40H66.5V221.68H67.0V221.46H67.5V224.95H68.0V226.30H68.5V225.13H69.0V221.98H69.5V222.07H70.0V221.98H70.5V225.08H71.0V225.38H71.5V225.47H72.0V226.30H72.5V225.10H73.0V225.16H73.5V225.60H74.0V225.25H74.5V225.43H75.0V226.30H75.5H76.0H76.5H77.0H77.5H78.0H78.5H79.0V225.93H79.5V225.86H80.0V225.55H80.5V225.79H81.0V225.64H81.5V225.59H82.0V226.30H82.5V225.58H83.0V225.88H83.5V225.88H84.0V225.75H84.5V226.30H85.0H85.5H86.0V225.65H86.5V225.44H87.0V225.70H87.5V225.40H88.0V226.30H88.5V225.23H89.0V225.28H89.5V225.94H90.0V225.71H90.5V224.37H91.0V224.31H91.5V224.44H92.0V225.60H92.5V225.43H93.0V225.28H93.5V225.66H94.0V225.24H94.5V226.30H95.0H95.5V225.24H96.0V224.74H96.5V223.82H97.0V223.93H97.5V223.96H98.0V224.67H98.5V225.66H99.0V225.60H99.5V226.30H100.0H100.5H101.0H101.5H102.0H102.5H103.0V224.90H103.5V225.55H104.0V224.49H104.5V224.72H105.0V224.92H105.5V224.78H106.0V225.20H106.5V224.28H107.0V224.74H107.5V225.39H108.0V224.45H108.5V226.30H109.0V224.99H109.5V224.61H110.0V224.49H110.5V224.93H111.0V224.87H111.5V224.80H112.0V226.30H112.5H113.0V225.94H113.5V223.37H114.0V223.48H114.5V223.44H115.0V225.85H115.5V225.78H116.0V225.69H116.5V225.19H117.0V225.19H117.5V225.87H118.0V225.81H118.5V225.73H119.0V225.37H119.5V226.30H120.0V225.42H120.5V224.54H121.0V224.36H121.5V224.43H122.0V224.43H122.5V225.73H123.0V225.63H123.5V225.19H124.0V226.30H124.5V225.01H125.0V226.30H125.5H126.0H126.5H127.0H127.5H128.0V224.64H128.5V224.66H129.0V224.39H129.5V224.42H130.0V224.33H130.5V225.12H131.0V225.67H131.5V225.76H132.0V225.50H132.5V225.56H133.0V225.59H133.5V225.37H134.0V226.30H134.5H135.0H135.5H136.0V225.89H136.5V225.54H137.0V226.30H137.5V225.63H138.0V226.00H138.5V226.30H139.0V225.98H139.5V223.88H140.0V223.81H140.5V223.98H141.0V225.75H141.5V225.90H142.0V225.75H142.5V226.30H143.0H143.5H144.0V225.98H144.5V225.96H145.0V226.30H145.5V225.61H146.0V225.85H146.5V225.79H147.0V225.86H147.5V222.56H148.0V222.40H148.5V222.49H149.0V216.80H149.5H150.0H150.5V225.80H151.0V226.30H151.5H152.0H152.5H153.0V225.86H153.5V224.96H154.0V225.53H154.5V225.11H155.0V225.61H155.5V226.30H156.0V225.80H156.5V225.11H157.0V223.55H157.5V223.72H158.0V223.52H158.5V223.50H159.0V223.37H159.5V223.36H160.0V223.42H160.5V223.38H161.0V225.78H161.5V225.52H162.0V225.74H162.5V225.20H163.0V225.19H163.5V224.39H164.0V224.42H164.5V223.38H165.0V223.43H165.5V223.48H166.0V226.30H166.5H167.0V223.08H167.5V222.85H168.0V222.88H168.5V223.86H169.0V223.95H169.5V223.91H170.0V225.65H170.5V226.30H171.0V225.07H171.5V225.23H172.0V226.30H172.5H173.0V225.78H173.5V225.81H174.0V225.68H174.5V225.58H175.0V225.94H175.5V225.34H176.0V225.61H176.5V225.57H177.0V225.58H177.5V226.30H178.0V225.41H178.5V226.30H179.0H179.5H180.0V225.93H180.5V226.30H181.0V225.72H181.5V225.57H182.0V225.80H182.5V225.84H183.0V225.53H183.5V225.21H184.0V225.52H184.5V226.30H185.0V225.31H185.5V225.60H186.0V225.35H186.5V225.12H187.0V225.24H187.5V226.30H188.0H188.5V221.83H189.0V221.83H189.5V222.03H190.0V223.46H190.5V223.41H191.0V225.48H191.5V225.14H192.0V225.08H192.5V226.30H193.0H193.5H194.0H194.5V224.64H195.0V226.30H195.5V225.41H196.0V225.58H196.5V226.30H197.0H197.5H198.0V225.60H198.5V225.92H199.0V225.38H199.5V225.81H200.0V225.65H200.5V225.81H201.0V225.47H201.5V225.65H202.0V224.97H202.5V224.87H203.0V225.56H203.5V225.10H204.0V225.42H204.5V225.51H205.0V225.78H205.5V225.26H206.0V225.91H206.5V225.44H207.0V225.77H207.5V225.31H208.0V225.40H208.5V225.45H209.0V225.64H209.5V224.73H210.0V225.55H210.5V225.58H211.0V226.30H211.5H212.0V225.01H212.5V226.30H213.0V224.87H213.5V225.34H214.0V225.20H214.5V225.14H215.0V224.86H215.5V225.44H216.0V226.30H216.5V225.32H217.0V225.07H217.5V224.81H218.0V225.79H218.5V225.70H219.0V226.30H219.5H220.0H220.5H221.0V225.33H221.5V224.67H222.0V225.65H222.5V224.63H223.0V225.63H223.5V225.35H224.0V225.45H224.5V225.21H225.0V224.30H225.5V224.42H226.0V224.34H226.5V226.30H227.0V225.06H227.5V224.76H228.0V224.99H228.5V225.48H229.0V225.57H229.5V224.83H230.0V225.93H230.5V225.65H231.0V225.57H231.5V226.00H232.0V225.71H232.5V225.09H233.0V225.49H233.5V225.03H234.0V225.41H234.5V225.03H235.0V225.46H235.5V225.45H236.0V225.75H236.5V225.62H237.0V225.10H237.5V225.39H238.0V224.93H238.5V226.30H239.0V225.48H239.5V226.30H240.0V224.96H240.5V224.46H241.0V225.45H241.5V224.60H242.0V224.35H242.5V226.30H243.0V224.07H243.5V225.06H244.0V226.30H244.5V225.95H245.0V225.54H245.5V225.47H246.0V224.82H246.5V224.39H247.0V223.92H247.5V224.42H248.0V221.83H248.5V221.87H249.0V221.87H249.5V225.84H250.0V226.30H250.5V225.94H251.0V225.92H251.5V226.30H252.0H252.5H253.0H253.5H254.0V225.38H254.5V225.23H255.0V224.62H255.5V225.45H256.0V224.70H256.5V225.46H257.0V226.30H257.5V224.83H258.0V225.15H258.5V224.90H259.0V226.30H259.5V225.25H260.0V225.09H260.5V225.45H261.0V225.33H261.5V225.77H262.0V225.41H262.5V226.30H263.0V225.23H263.5V224.78H264.0V225.14H264.5V225.34H265.0V225.62H265.5V226.30H266.0H266.5H267.0H267.5H268.0H268.5H269.0H269.5V225.74H270.0V225.59H270.5V226.30H271.0V225.63H271.5V226.30H272.0H272.5V225.71H273.0V224.73H273.5V225.66H274.0V225.87H274.5V225.57H275.0V225.97H275.5V224.37H276.0V224.33H276.5V224.43H277.0V226.30H277.5H278.0H278.5V225.69H279.0V225.60H279.5V226.30H280.0V225.67H280.5V225.85H281.0V225.79H281.5V225.58H282.0V225.77H282.5V225.96H283.0V225.70H283.5V226.30H284.0H284.5H285.0V225.60H285.5V225.51H286.0V226.30H286.5V224.83H287.0V225.50H287.5V224.85H288.0V225.18H288.5V225.55H289.0V225.38H289.5V226.30H290.0V225.17H290.5V226.30H291.0H291.5V223.99H292.0V223.94H292.5V223.94H293.0V224.70H293.5V225.31H294.0V225.29H294.5V224.51H295.0V226.30H295.5H296.0V225.54H296.5V224.98H297.0V225.63H297.5V225.67H298.0V226.30H298.5V223.03H299.0V222.94H299.5V222.93H300.0V225.41H300.5V226.30H301.0H301.5V223.80H302.0V223.89H302.5V223.96H303.0V224.71H303.5V224.70H304.0V226.30H304.5H305.0V224.39H305.5V224.82H306.0V224.49H306.5V225.35H307.0V226.30H307.5V224.98H308.0V226.30H308.5H309.0H309.5H310.0H310.5H311.0H311.5H312.0H312.5V225.46H313.0V225.80H313.5V225.73H314.0V225.48H314.5V226.30H315.0V225.93H315.5V225.55H316.0V225.60H316.5V225.21H317.0V225.85H317.5V225.71H318.0V225.35H318.5V225.17H319.0V225.30H319.5V225.51H320.0V225.50H320.5V226.30H321.0H321.5H322.0H322.5V223.49H323.0V225.80H323.5V225.81H324.0V225.72H324.5V225.91H325.0V225.49H325.5V225.76H326.0V226.30H326.5H327.0H327.5H328.0V225.00H328.5V224.60H329.0V225.46H329.5V224.19H330.0V225.60H330.5V225.32H331.0V225.42H331.5V226.30H332.0H332.5H333.0H333.5H334.0V225.42H334.5V225.37H335.0V223.91H335.5V225.45H336.0V225.53H336.5V225.07H337.0V226.30H337.5H338.0H338.5H339.0H339.5H340.0V224.95H340.5V224.93H341.0V225.58H341.5V225.26H342.0V226.30H342.5V225.50H343.0V224.74H343.5V226.30H344.0V224.81H344.5V224.96H345.0V225.34H345.5V224.51H346.0V225.10H346.5V223.51H347.0V225.64H347.5V224.23H348.0V225.54H348.5V224.81H349.0V225.64H349.5V224.98H350.0V224.88H350.5V226.30H351.0V225.50H351.5V225.13H352.0V225.62H352.5V224.97H353.0V224.51H353.5V225.30H354.0V226.30H354.5V224.30H355.0V225.36H355.5V225.18H356.0V225.39H356.5V224.66H357.0V225.22H357.5V226.30H358.0V224.40H358.5V224.71H359.0V225.37H359.5V226.30H360.0H360.5H361.0V225.73H361.5V223.98H362.0V223.85H362.5V223.90H363.0V226.30H363.5H364.0H364.5H365.0H365.5H366.0H366.5H367.0H367.5V223.83H368.0V223.89H368.5V223.97H369.0V225.57H369.5V225.49H370.0V226.30H370.5V225.80H371.0V224.99H371.5V224.96H372.0V225.34H372.5V223.97H373.0V223.89H373.5V223.81H374.0V225.57H374.5V225.41H375.0V225.77H375.5V226.30H376.0V225.40H376.5V226.30H377.0V225.53H377.5V225.81H378.0V225.05H378.5V226.30H379.0V225.09H379.5V225.30H380.0V225.15H380.5V225.11H381.0V226.30H381.5H382.0H382.5H383.0H383.5H384.0H384.5H385.0H385.5H386.0V224.53H386.5V224.63H387.0V224.83H387.5V225.33H388.0V226.30H388.5V225.34H389.0V225.61H389.5V226.30H390.0V224.66H390.5V226.30H391.0V224.46H391.5V224.86H392.0V224.73H392.5V226.30H393.0H393.5V225.80H394.0V226.30H394.5V225.89H395.0V225.68H395.5V225.54H396.0V225.88H396.5V225.89H397.0V225.55H397.5V226.30H398.0H398.5V225.32H399.0V225.33H399.5V224.82H400.0V225.20H400.5V225.22H401.0V225.63H401.5V226.30H402.0H402.5V225.12H403.0V224.38H403.5V225.46H404.0V225.16H404.5V225.67H405.0V226.30H405.5V225.41H406.0V225.44H406.5V224.83H407.0V226.30H407.5V224.74H408.0V225.30H408.5V225.10H409.0V226.30H409.5V225.68H410.0V225.00H410.5V225.19H411.0V226.30H411.5V225.57H412.0V224.55H412.5V224.78H413.0V225.20H413.5V225.29H414.0V224.46H414.5V226.30H415.0V224.68H415.5V225.56H416.0V226.30H416.5V225.19H417.0V224.86H417.5V224.82H418.0V225.22H418.5V225.52H419.0V226.30H419.5V225.18H420.0V224.38H420.5V224.52H421.0V225.55H421.5V224.78H422.0V224.95H422.5V224.06H423.0V219.42H423.5V219.71H424.0V219.34H424.5V225.01H425.0V224.50H425.5V224.58H426.0V224.15H426.5V226.30H427.0V224.68H427.5V224.15H428.0V226.30H428.5H429.0H429.5H430.0V225.67H430.5V225.89H431.0V226.30H431.5V225.92H432.0V225.61H432.5V225.78H433.0V225.59H433.5V225.97H434.0V223.34H434.5V223.52H435.0V223.34H435.5V226.30H436.0H436.5H437.0H437.5H438.0V224.27H438.5V225.21H439.0V224.89H439.5V225.43H440.0V226.30H440.5V225.52H441.0V224.97H441.5V224.33H442.0V225.19H442.5V224.95H443.0V225.18H443.5V225.20H444.0V224.20H444.5V225.13H445.0V225.54H445.5V225.33H446.0V224.91H446.5V226.30H447.0H447.5H448.0H448.5H449.0V225.32H449.5V225.15H450.0V225.23H450.5V225.61H451.0V222.89H451.5V223.05H452.0V222.90H452.5V226.30H453.0V225.32H453.5V224.45H454.0V225.50H454.5V225.70H455.0V225.08H455.5V223.46H456.0V223.39H456.5V223.40H457.0V226.30H457.5H458.0V225.18H458.5V225.21H459.0V225.02H459.5V224.97H460.0V225.02H460.5V223.51H461.0V223.42H461.5V223.46H462.0V225.73H462.5V225.31H463.0V225.06H463.5V225.46H464.0V225.76H464.5V223.44H465.0V223.41H465.5V223.46H466.0V225.44H466.5V225.09H467.0V225.32H467.5V224.97H468.0V225.25H468.5V225.48H469.0V225.61H469.5V224.87H470.0V225.04H470.5V225.42H471.0V224.76H471.5V225.05H472.0V226.30H472.5V222.87H473.0V222.86H473.5V222.83H474.0V225.64H474.5V224.65H475.0V224.40H475.5V225.26H476.0V225.34H476.5V224.95H477.0V224.61H477.5V225.58H478.0V224.51H478.5V225.33H479.0V224.22H479.5V225.40H480.0V224.35H480.5V223.51H481.0V223.37H481.5V223.37H482.0V226.30H482.5V224.84H483.0V226.30H483.5H484.0V225.71H484.5V225.79H485.0V225.44H485.5V225.40H486.0V225.58H486.5V225.76H487.0V225.80H487.5V225.37H488.0V225.76H488.5V225.69H489.0V226.30Z" fill="#2a2f8e" stroke="none"/>
<line x1="14.50" y1="226.70" x2="489.50" y2="226.70" stroke="#5557a8" stroke-width="0.7" />
<line x1="489.50" y1="226.70" x2="507.50" y2="226.70" stroke="#5557a8" stroke-width="0.7" />
<line x1="489.60" y1="212.30" x2="489.60" y2="227.00" stroke="#f4a6a6" stroke-width="0.6" />
<path d="M491.6 216.3H492.6V227" stroke="#5557a8" stroke-width="0.6" fill="none"/>
<text class="t" x="493.00" y="218.60" font-size="5.4" fill="#5557a8" stroke="#5557a8" stroke-width="0.06" text-anchor="start" >0.7</text>
<text class="t" x="493.00" y="227.00" font-size="5.4" fill="#5557a8" stroke="#5557a8" stroke-width="0.06" text-anchor="start" >0</text>
<line x1="14.50" y1="227.30" x2="507.50" y2="227.30" stroke="#e6e7e8" stroke-width="0.6" />
<text class="t" x="117.40" y="267.20" font-size="6.8" fill="#231f20" stroke="#231f20" stroke-width="0.14" text-anchor="start" textLength="30.5" lengthAdjust="spacingAndGlyphs" >Annotation</text>
<rect x="117.20" y="270.00" width="4.90" height="4.80" fill="#6ab56e" stroke="none" stroke-width="1" />
<text class="t" x="125.00" y="274.70" font-size="6.5" fill="#231f20" stroke="#231f20" stroke-width="0.14" text-anchor="start" textLength="15" lengthAdjust="spacingAndGlyphs" >3UTR</text>
<rect x="117.20" y="277.92" width="4.90" height="4.80" fill="#a5bda4" stroke="none" stroke-width="1" />
<text class="t" x="125.00" y="282.62" font-size="6.5" fill="#231f20" stroke="#231f20" stroke-width="0.14" text-anchor="start" textLength="14.8" lengthAdjust="spacingAndGlyphs" >5UTR</text>
<rect x="117.20" y="285.83" width="4.90" height="4.80" fill="#c4b5dc" stroke="none" stroke-width="1" />
<text class="t" x="125.00" y="290.53" font-size="6.5" fill="#231f20" stroke="#231f20" stroke-width="0.14" text-anchor="start" textLength="31.1" lengthAdjust="spacingAndGlyphs" >CpG–Island</text>
<rect x="117.20" y="293.75" width="4.90" height="4.80" fill="#dcbca8" stroke="none" stroke-width="1" />
<text class="t" x="125.00" y="298.44" font-size="6.5" fill="#231f20" stroke="#231f20" stroke-width="0.14" text-anchor="start" textLength="12.7" lengthAdjust="spacingAndGlyphs" >DNA</text>
<rect x="117.20" y="301.66" width="4.90" height="4.80" fill="#f2c57c" stroke="none" stroke-width="1" />
<text class="t" x="125.00" y="306.36" font-size="6.5" fill="#231f20" stroke="#231f20" stroke-width="0.14" text-anchor="start" textLength="13.6" lengthAdjust="spacingAndGlyphs" >Exon</text>
<rect x="117.20" y="309.57" width="4.90" height="4.80" fill="#f8e58c" stroke="none" stroke-width="1" />
<text class="t" x="125.00" y="314.27" font-size="6.5" fill="#231f20" stroke="#231f20" stroke-width="0.14" text-anchor="start" textLength="27.7" lengthAdjust="spacingAndGlyphs" >Intergenic</text>
<rect x="117.20" y="317.49" width="4.90" height="4.80" fill="#dbe0a0" stroke="none" stroke-width="1" />
<text class="t" x="125.00" y="322.19" font-size="6.5" fill="#231f20" stroke="#231f20" stroke-width="0.14" text-anchor="start" textLength="16.7" lengthAdjust="spacingAndGlyphs" >Intron</text>
<rect x="117.20" y="325.40" width="4.90" height="4.80" fill="#6f8fb3" stroke="none" stroke-width="1" />
<text class="t" x="125.00" y="330.10" font-size="6.5" fill="#231f20" stroke="#231f20" stroke-width="0.14" text-anchor="start" textLength="12.3" lengthAdjust="spacingAndGlyphs" >LINE</text>
<rect x="117.20" y="333.32" width="4.90" height="4.80" fill="#674099" stroke="none" stroke-width="1" />
<text class="t" x="125.00" y="338.02" font-size="6.5" fill="#231f20" stroke="#231f20" stroke-width="0.14" text-anchor="start" textLength="9.6" lengthAdjust="spacingAndGlyphs" >LTR</text>
<rect x="117.20" y="341.24" width="4.90" height="4.80" fill="#b5117e" stroke="none" stroke-width="1" />
<text class="t" x="125.00" y="345.94" font-size="6.5" fill="#231f20" stroke="#231f20" stroke-width="0.14" text-anchor="start" textLength="18.7" lengthAdjust="spacingAndGlyphs" >ncRNA</text>
<rect x="117.20" y="349.15" width="4.90" height="4.80" fill="#c4154a" stroke="none" stroke-width="1" />
<text class="t" x="125.00" y="353.85" font-size="6.5" fill="#231f20" stroke="#231f20" stroke-width="0.14" text-anchor="start" textLength="25.9" lengthAdjust="spacingAndGlyphs" >Promoter</text>
<rect x="117.20" y="357.06" width="4.90" height="4.80" fill="#b85117" stroke="none" stroke-width="1" />
<text class="t" x="125.00" y="361.76" font-size="6.5" fill="#231f20" stroke="#231f20" stroke-width="0.14" text-anchor="start" textLength="39.4" lengthAdjust="spacingAndGlyphs" >Simple_repeat</text>
<rect x="117.20" y="364.98" width="4.90" height="4.80" fill="#8a5a33" stroke="none" stroke-width="1" />
<text class="t" x="125.00" y="369.68" font-size="6.5" fill="#231f20" stroke="#231f20" stroke-width="0.14" text-anchor="start" textLength="12.3" lengthAdjust="spacingAndGlyphs" >SINE</text>
<rect x="117.20" y="372.89" width="4.90" height="4.80" fill="#5d5d5d" stroke="none" stroke-width="1" />
<text class="t" x="125.00" y="377.59" font-size="6.5" fill="#231f20" stroke="#231f20" stroke-width="0.14" text-anchor="start" textLength="10.1" lengthAdjust="spacingAndGlyphs" >TTS</text>
<path d="M62.90 325.40L62.90 286.80A38.6 38.6 0 0 1 66.73 286.99Z" fill="#5d5d5d" stroke="#5d5d5d" stroke-width="0.35" stroke-linejoin="round"/>
<path d="M62.90 325.40L66.73 286.99A38.6 38.6 0 0 1 80.42 291.01Z" fill="#8a5a33" stroke="#8a5a33" stroke-width="0.35" stroke-linejoin="round"/>
<path d="M62.90 325.40L80.42 291.01A38.6 38.6 0 0 1 81.02 291.32Z" fill="#b85117" stroke="#b85117" stroke-width="0.35" stroke-linejoin="round"/>
<path d="M62.90 325.40L81.02 291.32A38.6 38.6 0 0 1 100.00 314.76Z" fill="#c4154a" stroke="#c4154a" stroke-width="0.35" stroke-linejoin="round"/>
<path d="M62.90 325.40L100.00 314.76A38.6 38.6 0 0 1 100.06 314.95Z" fill="#b5117e" stroke="#b5117e" stroke-width="0.35" stroke-linejoin="round"/>
<path d="M62.90 325.40L100.06 314.95A38.6 38.6 0 0 1 100.95 331.90Z" fill="#674099" stroke="#674099" stroke-width="0.35" stroke-linejoin="round"/>
<path d="M62.90 325.40L100.95 331.90A38.6 38.6 0 0 1 97.62 342.26Z" fill="#6f8fb3" stroke="#6f8fb3" stroke-width="0.35" stroke-linejoin="round"/>
<path d="M62.90 325.40L97.62 342.26A38.6 38.6 0 0 1 32.86 349.64Z" fill="#dbe0a0" stroke="#dbe0a0" stroke-width="0.35" stroke-linejoin="round"/>
<path d="M62.90 325.40L32.86 349.64A38.6 38.6 0 0 1 52.00 288.37Z" fill="#f8e58c" stroke="#f8e58c" stroke-width="0.35" stroke-linejoin="round"/>
<path d="M62.90 325.40L52.00 288.37A38.6 38.6 0 0 1 53.56 287.95Z" fill="#f2c57c" stroke="#f2c57c" stroke-width="0.35" stroke-linejoin="round"/>
<path d="M62.90 325.40L53.56 287.95A38.6 38.6 0 0 1 56.86 287.28Z" fill="#dcbca8" stroke="#dcbca8" stroke-width="0.35" stroke-linejoin="round"/>
<path d="M62.90 325.40L56.86 287.28A38.6 38.6 0 0 1 58.87 287.01Z" fill="#c4b5dc" stroke="#c4b5dc" stroke-width="0.35" stroke-linejoin="round"/>
<path d="M62.90 325.40L58.87 287.01A38.6 38.6 0 0 1 60.54 286.87Z" fill="#a5bda4" stroke="#a5bda4" stroke-width="0.35" stroke-linejoin="round"/>
<path d="M62.90 325.40L60.54 286.87A38.6 38.6 0 0 1 62.90 286.80Z" fill="#6ab56e" stroke="#6ab56e" stroke-width="0.35" stroke-linejoin="round"/>
<path d="M222.10 324.70L222.10 285.70A39.0 39.0 0 0 1 224.62 285.78Z" fill="#5d5d5d" stroke="#5d5d5d" stroke-width="0.35" stroke-linejoin="round"/>
<path d="M222.10 324.70L224.62 285.78A39.0 39.0 0 0 1 234.80 287.82Z" fill="#8a5a33" stroke="#8a5a33" stroke-width="0.35" stroke-linejoin="round"/>
<path d="M222.10 324.70L234.80 287.82A39.0 39.0 0 0 1 235.44 288.05Z" fill="#b85117" stroke="#b85117" stroke-width="0.35" stroke-linejoin="round"/>
<path d="M222.10 324.70L235.44 288.05A39.0 39.0 0 0 1 247.99 295.54Z" fill="#c4154a" stroke="#c4154a" stroke-width="0.35" stroke-linejoin="round"/>
<path d="M222.10 324.70L247.99 295.54A39.0 39.0 0 0 1 248.09 295.63Z" fill="#b5117e" stroke="#b5117e" stroke-width="0.35" stroke-linejoin="round"/>
<path d="M222.10 324.70L248.09 295.63A39.0 39.0 0 0 1 260.84 320.22Z" fill="#674099" stroke="#674099" stroke-width="0.35" stroke-linejoin="round"/>
<path d="M222.10 324.70L260.84 320.22A39.0 39.0 0 0 1 248.60 353.32Z" fill="#6f8fb3" stroke="#6f8fb3" stroke-width="0.35" stroke-linejoin="round"/>
<path d="M222.10 324.70L248.60 353.32A39.0 39.0 0 0 1 187.76 343.19Z" fill="#dbe0a0" stroke="#dbe0a0" stroke-width="0.35" stroke-linejoin="round"/>
<path d="M222.10 324.70L187.76 343.19A39.0 39.0 0 0 1 207.49 288.54Z" fill="#f8e58c" stroke="#f8e58c" stroke-width="0.35" stroke-linejoin="round"/>
<path d="M222.10 324.70L207.49 288.54A39.0 39.0 0 0 1 208.76 288.05Z" fill="#f2c57c" stroke="#f2c57c" stroke-width="0.35" stroke-linejoin="round"/>
<path d="M222.10 324.70L208.76 288.05A39.0 39.0 0 0 1 218.02 285.91Z" fill="#dcbca8" stroke="#dcbca8" stroke-width="0.35" stroke-linejoin="round"/>
<path d="M222.10 324.70L218.02 285.91A39.0 39.0 0 0 1 219.72 285.77Z" fill="#c4b5dc" stroke="#c4b5dc" stroke-width="0.35" stroke-linejoin="round"/>
<path d="M222.10 324.70L219.72 285.77A39.0 39.0 0 0 1 220.40 285.74Z" fill="#a5bda4" stroke="#a5bda4" stroke-width="0.35" stroke-linejoin="round"/>
<path d="M222.10 324.70L220.40 285.74A39.0 39.0 0 0 1 222.10 285.70Z" fill="#6ab56e" stroke="#6ab56e" stroke-width="0.35" stroke-linejoin="round"/>
<text class="t" x="14.00" y="308.30" font-size="5.6" fill="#231f20" stroke="#231f20" stroke-width="0.06" text-anchor="start" textLength="14" lengthAdjust="spacingAndGlyphs" >20000</text>
<text class="t" x="99.80" y="312.60" font-size="5.6" fill="#231f20" stroke="#231f20" stroke-width="0.06" text-anchor="start" textLength="11.6" lengthAdjust="spacingAndGlyphs" >5000</text>
<text class="t" x="27.80" y="361.60" font-size="5.6" fill="#231f20" stroke="#231f20" stroke-width="0.06" text-anchor="start" textLength="14" lengthAdjust="spacingAndGlyphs" >15000</text>
<text class="t" x="84.00" y="361.60" font-size="5.6" fill="#231f20" stroke="#231f20" stroke-width="0.06" text-anchor="start" textLength="14" lengthAdjust="spacingAndGlyphs" >10000</text>
<text class="t" x="76.60" y="309.80" font-size="6.9" fill="#231f20" stroke="#231f20" stroke-width="0.14" text-anchor="start" textLength="13.3" lengthAdjust="spacingAndGlyphs" >2978</text>
<text class="t" x="66.10" y="349.90" font-size="7.6" fill="#231f20" stroke="#231f20" stroke-width="0.14" text-anchor="middle" textLength="34" lengthAdjust="spacingAndGlyphs" >24470 peaks</text>
<text class="t" x="66.10" y="357.90" font-size="7.6" fill="#231f20" stroke="#231f20" stroke-width="0.14" text-anchor="middle" textLength="22.5" lengthAdjust="spacingAndGlyphs" >(mouse)</text>
<text class="t" x="249.10" y="279.70" font-size="5.6" fill="#231f20" stroke="#231f20" stroke-width="0.06" text-anchor="start" >0</text>
<text class="t" x="173.70" y="304.70" font-size="5.6" fill="#231f20" stroke="#231f20" stroke-width="0.06" text-anchor="start" textLength="14" lengthAdjust="spacingAndGlyphs" >30000</text>
<text class="t" x="261.30" y="333.60" font-size="5.6" fill="#231f20" stroke="#231f20" stroke-width="0.06" text-anchor="start" textLength="14" lengthAdjust="spacingAndGlyphs" >10000</text>
<text class="t" x="197.80" y="366.80" font-size="5.6" fill="#231f20" stroke="#231f20" stroke-width="0.06" text-anchor="start" textLength="14" lengthAdjust="spacingAndGlyphs" >20000</text>
<text class="t" x="227.10" y="309.20" font-size="6.9" fill="#231f20" stroke="#231f20" stroke-width="0.14" text-anchor="start" textLength="12.1" lengthAdjust="spacingAndGlyphs" >2101</text>
<text class="t" x="218.00" y="350.50" font-size="7.6" fill="#231f20" stroke="#231f20" stroke-width="0.14" text-anchor="middle" textLength="34.2" lengthAdjust="spacingAndGlyphs" >36437 peaks</text>
<text class="t" x="218.00" y="358.00" font-size="7.6" fill="#231f20" stroke="#231f20" stroke-width="0.14" text-anchor="middle" textLength="23.4" lengthAdjust="spacingAndGlyphs" >(human)</text>
<text class="t" x="325.00" y="279.40" font-size="6.6" fill="#231f20" stroke="#231f20" stroke-width="0.14" text-anchor="middle" textLength="18.6" lengthAdjust="spacingAndGlyphs" >mouse</text>
<text transform="translate(290.29 295.12) scale(0.0707 0.0170)" font-size="100" font-weight="bold" fill="#f0a000" stroke="#f0a000" stroke-width="0.3" vector-effect="non-scaling-stroke">G</text>
<text transform="translate(290.29 293.90) scale(0.0762 0.0256)" font-size="100" font-weight="bold" fill="#1515e8" stroke="#1515e8" stroke-width="0.3" vector-effect="non-scaling-stroke">C</text>
<text transform="translate(290.29 292.07) scale(0.0762 0.0596)" font-size="100" font-weight="bold" fill="#2ca02c" stroke="#2ca02c" stroke-width="0.3" vector-effect="non-scaling-stroke">A</text>
<text transform="translate(290.29 287.80) scale(0.0900 0.0511)" font-size="100" font-weight="bold" fill="#d7191c" stroke="#d7191c" stroke-width="0.3" vector-effect="non-scaling-stroke">T</text>
<text transform="translate(296.29 295.12) scale(0.0900 0.0161)" font-size="100" font-weight="bold" fill="#d7191c" stroke="#d7191c" stroke-width="0.3" vector-effect="non-scaling-stroke">T</text>
<text transform="translate(296.29 293.96) scale(0.0762 0.0242)" font-size="100" font-weight="bold" fill="#1515e8" stroke="#1515e8" stroke-width="0.3" vector-effect="non-scaling-stroke">C</text>
<text transform="translate(296.29 292.23) scale(0.0762 0.0565)" font-size="100" font-weight="bold" fill="#2ca02c" stroke="#2ca02c" stroke-width="0.3" vector-effect="non-scaling-stroke">A</text>
<text transform="translate(296.29 288.19) scale(0.0707 0.0565)" font-size="100" font-weight="bold" fill="#f0a000" stroke="#f0a000" stroke-width="0.3" vector-effect="non-scaling-stroke">G</text>
<text transform="translate(302.29 295.12) scale(0.0900 0.1534)" font-size="100" font-weight="bold" fill="#d7191c" stroke="#d7191c" stroke-width="0.3" vector-effect="non-scaling-stroke">T</text>
<text transform="translate(308.29 295.12) scale(0.0900 0.1534)" font-size="100" font-weight="bold" fill="#d7191c" stroke="#d7191c" stroke-width="0.3" vector-effect="non-scaling-stroke">T</text>
<text transform="translate(314.29 295.12) scale(0.0762 0.0341)" font-size="100" font-weight="bold" fill="#2ca02c" stroke="#2ca02c" stroke-width="0.3" vector-effect="non-scaling-stroke">A</text>
<text transform="translate(314.29 292.68) scale(0.0900 0.0511)" font-size="100" font-weight="bold" fill="#d7191c" stroke="#d7191c" stroke-width="0.3" vector-effect="non-scaling-stroke">T</text>
<text transform="translate(314.29 289.02) scale(0.0707 0.0682)" font-size="100" font-weight="bold" fill="#f0a000" stroke="#f0a000" stroke-width="0.3" vector-effect="non-scaling-stroke">G</text>
<text transform="translate(320.29 295.12) scale(0.0762 0.0242)" font-size="100" font-weight="bold" fill="#2ca02c" stroke="#2ca02c" stroke-width="0.3" vector-effect="non-scaling-stroke">A</text>
<text transform="translate(320.29 293.39) scale(0.0707 0.0404)" font-size="100" font-weight="bold" fill="#f0a000" stroke="#f0a000" stroke-width="0.3" vector-effect="non-scaling-stroke">G</text>
<text transform="translate(320.29 290.50) scale(0.0900 0.0888)" font-size="100" font-weight="bold" fill="#d7191c" stroke="#d7191c" stroke-width="0.3" vector-effect="non-scaling-stroke">T</text>
<text transform="translate(326.29 295.12) scale(0.0707 0.1534)" font-size="100" font-weight="bold" fill="#f0a000" stroke="#f0a000" stroke-width="0.3" vector-effect="non-scaling-stroke">G</text>
<text transform="translate(332.29 295.12) scale(0.0900 0.0511)" font-size="100" font-weight="bold" fill="#d7191c" stroke="#d7191c" stroke-width="0.3" vector-effect="non-scaling-stroke">T</text>
<text transform="translate(332.29 291.46) scale(0.0762 0.1022)" font-size="100" font-weight="bold" fill="#1515e8" stroke="#1515e8" stroke-width="0.3" vector-effect="non-scaling-stroke">C</text>
<text transform="translate(338.29 295.12) scale(0.0762 0.1534)" font-size="100" font-weight="bold" fill="#2ca02c" stroke="#2ca02c" stroke-width="0.3" vector-effect="non-scaling-stroke">A</text>
<text transform="translate(344.29 295.12) scale(0.0762 0.1534)" font-size="100" font-weight="bold" fill="#2ca02c" stroke="#2ca02c" stroke-width="0.3" vector-effect="non-scaling-stroke">A</text>
<text transform="translate(350.29 295.12) scale(0.0707 0.0180)" font-size="100" font-weight="bold" fill="#f0a000" stroke="#f0a000" stroke-width="0.3" vector-effect="non-scaling-stroke">G</text>
<text transform="translate(350.29 293.83) scale(0.0900 0.0271)" font-size="100" font-weight="bold" fill="#d7191c" stroke="#d7191c" stroke-width="0.3" vector-effect="non-scaling-stroke">T</text>
<text transform="translate(350.29 291.89) scale(0.0762 0.0541)" font-size="100" font-weight="bold" fill="#1515e8" stroke="#1515e8" stroke-width="0.3" vector-effect="non-scaling-stroke">C</text>
<text transform="translate(350.29 288.02) scale(0.0900 0.0541)" font-size="100" font-weight="bold" fill="#d7191c" stroke="#d7191c" stroke-width="0.3" vector-effect="non-scaling-stroke">T</text>
<text transform="translate(356.29 295.12) scale(0.0900 0.0187)" font-size="100" font-weight="bold" fill="#d7191c" stroke="#d7191c" stroke-width="0.3" vector-effect="non-scaling-stroke">T</text>
<text transform="translate(356.29 293.78) scale(0.0762 0.0560)" font-size="100" font-weight="bold" fill="#1515e8" stroke="#1515e8" stroke-width="0.3" vector-effect="non-scaling-stroke">C</text>
<text transform="translate(356.29 289.78) scale(0.0762 0.0746)" font-size="100" font-weight="bold" fill="#2ca02c" stroke="#2ca02c" stroke-width="0.3" vector-effect="non-scaling-stroke">A</text>
<text transform="translate(290.29 307.84) scale(0.0900 0.0180)" font-size="100" font-weight="bold" fill="#d7191c" stroke="#d7191c" stroke-width="0.3" vector-effect="non-scaling-stroke">T</text>
<text transform="translate(290.29 306.55) scale(0.0707 0.0271)" font-size="100" font-weight="bold" fill="#f0a000" stroke="#f0a000" stroke-width="0.3" vector-effect="non-scaling-stroke">G</text>
<text transform="translate(290.29 304.61) scale(0.0762 0.0180)" font-size="100" font-weight="bold" fill="#1515e8" stroke="#1515e8" stroke-width="0.3" vector-effect="non-scaling-stroke">C</text>
<text transform="translate(290.29 303.32) scale(0.0762 0.0902)" font-size="100" font-weight="bold" fill="#2ca02c" stroke="#2ca02c" stroke-width="0.3" vector-effect="non-scaling-stroke">A</text>
<text transform="translate(296.29 307.84) scale(0.0900 0.0187)" font-size="100" font-weight="bold" fill="#d7191c" stroke="#d7191c" stroke-width="0.3" vector-effect="non-scaling-stroke">T</text>
<text transform="translate(296.29 306.50) scale(0.0707 0.0373)" font-size="100" font-weight="bold" fill="#f0a000" stroke="#f0a000" stroke-width="0.3" vector-effect="non-scaling-stroke">G</text>
<text transform="translate(296.29 303.83) scale(0.0762 0.0933)" font-size="100" font-weight="bold" fill="#1515e8" stroke="#1515e8" stroke-width="0.3" vector-effect="non-scaling-stroke">C</text>
<text transform="translate(302.29 307.84) scale(0.0900 0.1534)" font-size="100" font-weight="bold" fill="#d7191c" stroke="#d7191c" stroke-width="0.3" vector-effect="non-scaling-stroke">T</text>
<text transform="translate(308.29 307.84) scale(0.0900 0.1534)" font-size="100" font-weight="bold" fill="#d7191c" stroke="#d7191c" stroke-width="0.3" vector-effect="non-scaling-stroke">T</text>
<text transform="translate(314.29 307.84) scale(0.0762 0.1534)" font-size="100" font-weight="bold" fill="#1515e8" stroke="#1515e8" stroke-width="0.3" vector-effect="non-scaling-stroke">C</text>
<text transform="translate(320.29 307.84) scale(0.0762 0.1534)" font-size="100" font-weight="bold" fill="#1515e8" stroke="#1515e8" stroke-width="0.3" vector-effect="non-scaling-stroke">C</text>
<text transform="translate(326.29 307.84) scale(0.0762 0.0180)" font-size="100" font-weight="bold" fill="#2ca02c" stroke="#2ca02c" stroke-width="0.3" vector-effect="non-scaling-stroke">A</text>
<text transform="translate(326.29 306.55) scale(0.0762 0.0361)" font-size="100" font-weight="bold" fill="#1515e8" stroke="#1515e8" stroke-width="0.3" vector-effect="non-scaling-stroke">C</text>
<text transform="translate(326.29 303.96) scale(0.0707 0.0451)" font-size="100" font-weight="bold" fill="#f0a000" stroke="#f0a000" stroke-width="0.3" vector-effect="non-scaling-stroke">G</text>
<text transform="translate(326.29 300.74) scale(0.0900 0.0541)" font-size="100" font-weight="bold" fill="#d7191c" stroke="#d7191c" stroke-width="0.3" vector-effect="non-scaling-stroke">T</text>
<text transform="translate(332.29 307.84) scale(0.0707 0.0280)" font-size="100" font-weight="bold" fill="#f0a000" stroke="#f0a000" stroke-width="0.3" vector-effect="non-scaling-stroke">G</text>
<text transform="translate(332.29 305.84) scale(0.0762 0.0373)" font-size="100" font-weight="bold" fill="#1515e8" stroke="#1515e8" stroke-width="0.3" vector-effect="non-scaling-stroke">C</text>
<text transform="translate(332.29 303.16) scale(0.0762 0.0746)" font-size="100" font-weight="bold" fill="#1515e8" stroke="#1515e8" stroke-width="0.3" vector-effect="non-scaling-stroke">C</text>
<text transform="translate(338.29 307.84) scale(0.0762 0.0187)" font-size="100" font-weight="bold" fill="#1515e8" stroke="#1515e8" stroke-width="0.3" vector-effect="non-scaling-stroke">C</text>
<text transform="translate(338.29 306.50) scale(0.0762 0.0373)" font-size="100" font-weight="bold" fill="#2ca02c" stroke="#2ca02c" stroke-width="0.3" vector-effect="non-scaling-stroke">A</text>
<text transform="translate(338.29 303.83) scale(0.0900 0.0933)" font-size="100" font-weight="bold" fill="#d7191c" stroke="#d7191c" stroke-width="0.3" vector-effect="non-scaling-stroke">T</text>
<text transform="translate(344.29 307.84) scale(0.0762 0.0187)" font-size="100" font-weight="bold" fill="#1515e8" stroke="#1515e8" stroke-width="0.3" vector-effect="non-scaling-stroke">C</text>
<text transform="translate(344.29 306.50) scale(0.0762 0.0373)" font-size="100" font-weight="bold" fill="#2ca02c" stroke="#2ca02c" stroke-width="0.3" vector-effect="non-scaling-stroke">A</text>
<text transform="translate(344.29 303.83) scale(0.0900 0.0746)" font-size="100" font-weight="bold" fill="#d7191c" stroke="#d7191c" stroke-width="0.3" vector-effect="non-scaling-stroke">T</text>
<line x1="289.30" y1="295.92" x2="361.50" y2="295.92" stroke="#a7a9ac" stroke-width="0.8" />
<text transform="translate(290.29 320.56) scale(0.0762 0.0187)" font-size="100" font-weight="bold" fill="#1515e8" stroke="#1515e8" stroke-width="0.3" vector-effect="non-scaling-stroke">C</text>
<text transform="translate(290.29 319.22) scale(0.0707 0.0373)" font-size="100" font-weight="bold" fill="#f0a000" stroke="#f0a000" stroke-width="0.3" vector-effect="non-scaling-stroke">G</text>
<text transform="translate(290.29 316.55) scale(0.0762 0.0933)" font-size="100" font-weight="bold" fill="#2ca02c" stroke="#2ca02c" stroke-width="0.3" vector-effect="non-scaling-stroke">A</text>
<text transform="translate(296.29 320.56) scale(0.0707 0.0180)" font-size="100" font-weight="bold" fill="#f0a000" stroke="#f0a000" stroke-width="0.3" vector-effect="non-scaling-stroke">G</text>
<text transform="translate(296.29 319.27) scale(0.0762 0.0541)" font-size="100" font-weight="bold" fill="#2ca02c" stroke="#2ca02c" stroke-width="0.3" vector-effect="non-scaling-stroke">A</text>
<text transform="translate(296.29 315.39) scale(0.0900 0.0812)" font-size="100" font-weight="bold" fill="#d7191c" stroke="#d7191c" stroke-width="0.3" vector-effect="non-scaling-stroke">T</text>
<text transform="translate(302.29 320.56) scale(0.0900 0.0271)" font-size="100" font-weight="bold" fill="#d7191c" stroke="#d7191c" stroke-width="0.3" vector-effect="non-scaling-stroke">T</text>
<text transform="translate(302.29 318.62) scale(0.0762 0.0361)" font-size="100" font-weight="bold" fill="#2ca02c" stroke="#2ca02c" stroke-width="0.3" vector-effect="non-scaling-stroke">A</text>
<text transform="translate(302.29 316.04) scale(0.0707 0.0902)" font-size="100" font-weight="bold" fill="#f0a000" stroke="#f0a000" stroke-width="0.3" vector-effect="non-scaling-stroke">G</text>
<text transform="translate(308.29 320.56) scale(0.0762 0.1534)" font-size="100" font-weight="bold" fill="#2ca02c" stroke="#2ca02c" stroke-width="0.3" vector-effect="non-scaling-stroke">A</text>
<text transform="translate(314.29 320.56) scale(0.0900 0.1534)" font-size="100" font-weight="bold" fill="#d7191c" stroke="#d7191c" stroke-width="0.3" vector-effect="non-scaling-stroke">T</text>
<text transform="translate(320.29 320.56) scale(0.0900 0.1534)" font-size="100" font-weight="bold" fill="#d7191c" stroke="#d7191c" stroke-width="0.3" vector-effect="non-scaling-stroke">T</text>
<text transform="translate(326.29 320.56) scale(0.0762 0.0180)" font-size="100" font-weight="bold" fill="#2ca02c" stroke="#2ca02c" stroke-width="0.3" vector-effect="non-scaling-stroke">A</text>
<text transform="translate(326.29 319.27) scale(0.0707 0.0180)" font-size="100" font-weight="bold" fill="#f0a000" stroke="#f0a000" stroke-width="0.3" vector-effect="non-scaling-stroke">G</text>
<text transform="translate(326.29 317.98) scale(0.0900 0.1173)" font-size="100" font-weight="bold" fill="#d7191c" stroke="#d7191c" stroke-width="0.3" vector-effect="non-scaling-stroke">T</text>
<text transform="translate(332.29 320.56) scale(0.0762 0.0161)" font-size="100" font-weight="bold" fill="#1515e8" stroke="#1515e8" stroke-width="0.3" vector-effect="non-scaling-stroke">C</text>
<text transform="translate(332.29 319.40) scale(0.0762 0.1372)" font-size="100" font-weight="bold" fill="#2ca02c" stroke="#2ca02c" stroke-width="0.3" vector-effect="non-scaling-stroke">A</text>
<text transform="translate(338.29 320.56) scale(0.0762 0.0187)" font-size="100" font-weight="bold" fill="#1515e8" stroke="#1515e8" stroke-width="0.3" vector-effect="non-scaling-stroke">C</text>
<text transform="translate(338.29 319.22) scale(0.0900 0.1119)" font-size="100" font-weight="bold" fill="#d7191c" stroke="#d7191c" stroke-width="0.3" vector-effect="non-scaling-stroke">T</text>
<text transform="translate(344.29 320.56) scale(0.0762 0.0280)" font-size="100" font-weight="bold" fill="#2ca02c" stroke="#2ca02c" stroke-width="0.3" vector-effect="non-scaling-stroke">A</text>
<text transform="translate(344.29 318.56) scale(0.0900 0.0373)" font-size="100" font-weight="bold" fill="#d7191c" stroke="#d7191c" stroke-width="0.3" vector-effect="non-scaling-stroke">T</text>
<text transform="translate(344.29 315.88) scale(0.0707 0.0746)" font-size="100" font-weight="bold" fill="#f0a000" stroke="#f0a000" stroke-width="0.3" vector-effect="non-scaling-stroke">G</text>
<text transform="translate(350.29 320.56) scale(0.0762 0.0280)" font-size="100" font-weight="bold" fill="#2ca02c" stroke="#2ca02c" stroke-width="0.3" vector-effect="non-scaling-stroke">A</text>
<text transform="translate(350.29 318.56) scale(0.0762 0.0280)" font-size="100" font-weight="bold" fill="#1515e8" stroke="#1515e8" stroke-width="0.3" vector-effect="non-scaling-stroke">C</text>
<text transform="translate(350.29 316.55) scale(0.0707 0.0746)" font-size="100" font-weight="bold" fill="#f0a000" stroke="#f0a000" stroke-width="0.3" vector-effect="non-scaling-stroke">G</text>
<text transform="translate(356.29 320.56) scale(0.0707 0.0187)" font-size="100" font-weight="bold" fill="#f0a000" stroke="#f0a000" stroke-width="0.3" vector-effect="non-scaling-stroke">G</text>
<text transform="translate(356.29 319.22) scale(0.0900 0.0280)" font-size="100" font-weight="bold" fill="#d7191c" stroke="#d7191c" stroke-width="0.3" vector-effect="non-scaling-stroke">T</text>
<text transform="translate(356.29 317.22) scale(0.0762 0.0933)" font-size="100" font-weight="bold" fill="#1515e8" stroke="#1515e8" stroke-width="0.3" vector-effect="non-scaling-stroke">C</text>
<line x1="289.30" y1="308.64" x2="361.50" y2="308.64" stroke="#a7a9ac" stroke-width="0.8" />
<text transform="translate(290.29 333.28) scale(0.0900 0.0187)" font-size="100" font-weight="bold" fill="#d7191c" stroke="#d7191c" stroke-width="0.3" vector-effect="non-scaling-stroke">T</text>
<text transform="translate(290.29 331.94) scale(0.0707 0.0280)" font-size="100" font-weight="bold" fill="#f0a000" stroke="#f0a000" stroke-width="0.3" vector-effect="non-scaling-stroke">G</text>
<text transform="translate(290.29 329.94) scale(0.0762 0.0280)" font-size="100" font-weight="bold" fill="#2ca02c" stroke="#2ca02c" stroke-width="0.3" vector-effect="non-scaling-stroke">A</text>
<text transform="translate(290.29 327.94) scale(0.0762 0.0653)" font-size="100" font-weight="bold" fill="#1515e8" stroke="#1515e8" stroke-width="0.3" vector-effect="non-scaling-stroke">C</text>
<text transform="translate(296.29 333.28) scale(0.0762 0.0653)" font-size="100" font-weight="bold" fill="#2ca02c" stroke="#2ca02c" stroke-width="0.3" vector-effect="non-scaling-stroke">A</text>
<text transform="translate(296.29 328.60) scale(0.0900 0.0746)" font-size="100" font-weight="bold" fill="#d7191c" stroke="#d7191c" stroke-width="0.3" vector-effect="non-scaling-stroke">T</text>
<text transform="translate(302.29 333.28) scale(0.0707 0.0653)" font-size="100" font-weight="bold" fill="#f0a000" stroke="#f0a000" stroke-width="0.3" vector-effect="non-scaling-stroke">G</text>
<text transform="translate(302.29 328.60) scale(0.0762 0.0746)" font-size="100" font-weight="bold" fill="#2ca02c" stroke="#2ca02c" stroke-width="0.3" vector-effect="non-scaling-stroke">A</text>
<text transform="translate(308.29 333.28) scale(0.0707 0.0180)" font-size="100" font-weight="bold" fill="#f0a000" stroke="#f0a000" stroke-width="0.3" vector-effect="non-scaling-stroke">G</text>
<text transform="translate(308.29 331.99) scale(0.0762 0.1353)" font-size="100" font-weight="bold" fill="#2ca02c" stroke="#2ca02c" stroke-width="0.3" vector-effect="non-scaling-stroke">A</text>
<text transform="translate(314.29 333.28) scale(0.0762 0.1534)" font-size="100" font-weight="bold" fill="#1515e8" stroke="#1515e8" stroke-width="0.3" vector-effect="non-scaling-stroke">C</text>
<text transform="translate(320.29 333.28) scale(0.0762 0.1534)" font-size="100" font-weight="bold" fill="#1515e8" stroke="#1515e8" stroke-width="0.3" vector-effect="non-scaling-stroke">C</text>
<text transform="translate(326.29 333.28) scale(0.0707 0.0280)" font-size="100" font-weight="bold" fill="#f0a000" stroke="#f0a000" stroke-width="0.3" vector-effect="non-scaling-stroke">G</text>
<text transform="translate(326.29 331.28) scale(0.0762 0.1213)" font-size="100" font-weight="bold" fill="#2ca02c" stroke="#2ca02c" stroke-width="0.3" vector-effect="non-scaling-stroke">A</text>
<text transform="translate(332.29 333.28) scale(0.0900 0.0187)" font-size="100" font-weight="bold" fill="#d7191c" stroke="#d7191c" stroke-width="0.3" vector-effect="non-scaling-stroke">T</text>
<text transform="translate(332.29 331.94) scale(0.0762 0.1306)" font-size="100" font-weight="bold" fill="#1515e8" stroke="#1515e8" stroke-width="0.3" vector-effect="non-scaling-stroke">C</text>
<text transform="translate(338.29 333.28) scale(0.0707 0.0187)" font-size="100" font-weight="bold" fill="#f0a000" stroke="#f0a000" stroke-width="0.3" vector-effect="non-scaling-stroke">G</text>
<text transform="translate(338.29 331.94) scale(0.0762 0.1119)" font-size="100" font-weight="bold" fill="#2ca02c" stroke="#2ca02c" stroke-width="0.3" vector-effect="non-scaling-stroke">A</text>
<text transform="translate(344.29 333.28) scale(0.0900 0.0187)" font-size="100" font-weight="bold" fill="#d7191c" stroke="#d7191c" stroke-width="0.3" vector-effect="non-scaling-stroke">T</text>
<text transform="translate(344.29 331.94) scale(0.0707 0.0560)" font-size="100" font-weight="bold" fill="#f0a000" stroke="#f0a000" stroke-width="0.3" vector-effect="non-scaling-stroke">G</text>
<text transform="translate(344.29 327.94) scale(0.0762 0.0653)" font-size="100" font-weight="bold" fill="#2ca02c" stroke="#2ca02c" stroke-width="0.3" vector-effect="non-scaling-stroke">A</text>
<line x1="289.30" y1="321.36" x2="361.50" y2="321.36" stroke="#a7a9ac" stroke-width="0.8" />
<text transform="translate(290.29 346.00) scale(0.0762 0.1534)" font-size="100" font-weight="bold" fill="#2ca02c" stroke="#2ca02c" stroke-width="0.3" vector-effect="non-scaling-stroke">A</text>
<text transform="translate(296.29 346.00) scale(0.0762 0.1534)" font-size="100" font-weight="bold" fill="#2ca02c" stroke="#2ca02c" stroke-width="0.3" vector-effect="non-scaling-stroke">A</text>
<text transform="translate(302.29 346.00) scale(0.0762 0.1534)" font-size="100" font-weight="bold" fill="#1515e8" stroke="#1515e8" stroke-width="0.3" vector-effect="non-scaling-stroke">C</text>
<text transform="translate(308.29 346.00) scale(0.0900 0.1534)" font-size="100" font-weight="bold" fill="#d7191c" stroke="#d7191c" stroke-width="0.3" vector-effect="non-scaling-stroke">T</text>
<text transform="translate(314.29 346.00) scale(0.0707 0.1534)" font-size="100" font-weight="bold" fill="#f0a000" stroke="#f0a000" stroke-width="0.3" vector-effect="non-scaling-stroke">G</text>
<text transform="translate(320.29 346.00) scale(0.0762 0.0280)" font-size="100" font-weight="bold" fill="#1515e8" stroke="#1515e8" stroke-width="0.3" vector-effect="non-scaling-stroke">C</text>
<text transform="translate(320.29 344.00) scale(0.0900 0.1119)" font-size="100" font-weight="bold" fill="#d7191c" stroke="#d7191c" stroke-width="0.3" vector-effect="non-scaling-stroke">T</text>
<text transform="translate(326.29 346.00) scale(0.0762 0.1534)" font-size="100" font-weight="bold" fill="#1515e8" stroke="#1515e8" stroke-width="0.3" vector-effect="non-scaling-stroke">C</text>
<text transform="translate(332.29 346.00) scale(0.0707 0.0170)" font-size="100" font-weight="bold" fill="#f0a000" stroke="#f0a000" stroke-width="0.3" vector-effect="non-scaling-stroke">G</text>
<text transform="translate(332.29 344.78) scale(0.0762 0.1363)" font-size="100" font-weight="bold" fill="#2ca02c" stroke="#2ca02c" stroke-width="0.3" vector-effect="non-scaling-stroke">A</text>
<line x1="289.30" y1="334.08" x2="361.50" y2="334.08" stroke="#a7a9ac" stroke-width="0.8" />
<rect x="289.30" y="283.20" width="72.20" height="63.60" fill="none" stroke="#939598" stroke-width="0.9" />
<text class="t" x="380.50" y="287.70" font-size="4.9" fill="#231f20" stroke="#231f20" stroke-width="0.06" text-anchor="middle" >CEBP</text>
<text class="t" x="380.50" y="294.17" font-size="4.9" fill="#231f20" stroke="#231f20" stroke-width="0.06" text-anchor="middle" >(60%, 1e-337)</text>
<text class="t" x="380.50" y="300.64" font-size="4.9" fill="#231f20" stroke="#231f20" stroke-width="0.06" text-anchor="middle" >PU.1(ETS)</text>
<text class="t" x="380.50" y="307.11" font-size="4.9" fill="#231f20" stroke="#231f20" stroke-width="0.06" text-anchor="middle" >(55%, 1e-169)</text>
<text class="t" x="380.50" y="313.58" font-size="4.9" fill="#231f20" stroke="#231f20" stroke-width="0.06" text-anchor="middle" >HOX</text>
<text class="t" x="380.50" y="320.05" font-size="4.9" fill="#231f20" stroke="#231f20" stroke-width="0.06" text-anchor="middle" >(26%, 1e-108)</text>
<text class="t" x="380.50" y="326.52" font-size="4.9" fill="#231f20" stroke="#231f20" stroke-width="0.06" text-anchor="middle" >RUNX</text>
<text class="t" x="380.50" y="332.99" font-size="4.9" fill="#231f20" stroke="#231f20" stroke-width="0.06" text-anchor="middle" >(28%, 1e-71)</text>
<text class="t" x="380.50" y="339.46" font-size="4.9" fill="#231f20" stroke="#231f20" stroke-width="0.06" text-anchor="middle" >MYB</text>
<text class="t" x="380.50" y="345.93" font-size="4.9" fill="#231f20" stroke="#231f20" stroke-width="0.06" text-anchor="middle" >(22%, 1e-19)</text>
<text class="t" x="440.80" y="279.20" font-size="6.6" fill="#231f20" stroke="#231f20" stroke-width="0.14" text-anchor="middle" textLength="19.6" lengthAdjust="spacingAndGlyphs" >human</text>
<text transform="translate(405.59 295.07) scale(0.0893 0.0184)" font-size="100" font-weight="bold" fill="#d7191c" stroke="#d7191c" stroke-width="0.3" vector-effect="non-scaling-stroke">T</text>
<text transform="translate(405.59 293.75) scale(0.0755 0.0276)" font-size="100" font-weight="bold" fill="#1515e8" stroke="#1515e8" stroke-width="0.3" vector-effect="non-scaling-stroke">C</text>
<text transform="translate(405.59 291.77) scale(0.0755 0.0460)" font-size="100" font-weight="bold" fill="#2ca02c" stroke="#2ca02c" stroke-width="0.3" vector-effect="non-scaling-stroke">A</text>
<text transform="translate(405.59 288.48) scale(0.0701 0.0552)" font-size="100" font-weight="bold" fill="#f0a000" stroke="#f0a000" stroke-width="0.3" vector-effect="non-scaling-stroke">G</text>
<text transform="translate(411.54 295.07) scale(0.0755 0.0356)" font-size="100" font-weight="bold" fill="#2ca02c" stroke="#2ca02c" stroke-width="0.3" vector-effect="non-scaling-stroke">A</text>
<text transform="translate(411.54 292.52) scale(0.0893 0.0445)" font-size="100" font-weight="bold" fill="#d7191c" stroke="#d7191c" stroke-width="0.3" vector-effect="non-scaling-stroke">T</text>
<text transform="translate(411.54 289.33) scale(0.0755 0.0712)" font-size="100" font-weight="bold" fill="#1515e8" stroke="#1515e8" stroke-width="0.3" vector-effect="non-scaling-stroke">C</text>
<text transform="translate(417.49 295.07) scale(0.0893 0.0184)" font-size="100" font-weight="bold" fill="#d7191c" stroke="#d7191c" stroke-width="0.3" vector-effect="non-scaling-stroke">T</text>
<text transform="translate(417.49 293.75) scale(0.0755 0.0460)" font-size="100" font-weight="bold" fill="#2ca02c" stroke="#2ca02c" stroke-width="0.3" vector-effect="non-scaling-stroke">A</text>
<text transform="translate(417.49 290.46) scale(0.0755 0.0828)" font-size="100" font-weight="bold" fill="#1515e8" stroke="#1515e8" stroke-width="0.3" vector-effect="non-scaling-stroke">C</text>
<text transform="translate(423.44 295.07) scale(0.0755 0.1513)" font-size="100" font-weight="bold" fill="#2ca02c" stroke="#2ca02c" stroke-width="0.3" vector-effect="non-scaling-stroke">A</text>
<text transform="translate(429.39 295.07) scale(0.0893 0.1513)" font-size="100" font-weight="bold" fill="#d7191c" stroke="#d7191c" stroke-width="0.3" vector-effect="non-scaling-stroke">T</text>
<text transform="translate(435.34 295.07) scale(0.0755 0.0267)" font-size="100" font-weight="bold" fill="#2ca02c" stroke="#2ca02c" stroke-width="0.3" vector-effect="non-scaling-stroke">A</text>
<text transform="translate(435.34 293.16) scale(0.0701 0.0534)" font-size="100" font-weight="bold" fill="#f0a000" stroke="#f0a000" stroke-width="0.3" vector-effect="non-scaling-stroke">G</text>
<text transform="translate(435.34 289.33) scale(0.0755 0.0712)" font-size="100" font-weight="bold" fill="#1515e8" stroke="#1515e8" stroke-width="0.3" vector-effect="non-scaling-stroke">C</text>
<text transform="translate(441.29 295.07) scale(0.0755 0.1513)" font-size="100" font-weight="bold" fill="#2ca02c" stroke="#2ca02c" stroke-width="0.3" vector-effect="non-scaling-stroke">A</text>
<text transform="translate(447.24 295.07) scale(0.0755 0.1513)" font-size="100" font-weight="bold" fill="#2ca02c" stroke="#2ca02c" stroke-width="0.3" vector-effect="non-scaling-stroke">A</text>
<text transform="translate(453.19 295.07) scale(0.0893 0.1513)" font-size="100" font-weight="bold" fill="#d7191c" stroke="#d7191c" stroke-width="0.3" vector-effect="non-scaling-stroke">T</text>
<text transform="translate(459.14 295.07) scale(0.0755 0.1513)" font-size="100" font-weight="bold" fill="#1515e8" stroke="#1515e8" stroke-width="0.3" vector-effect="non-scaling-stroke">C</text>
<text transform="translate(465.09 295.07) scale(0.0755 0.0276)" font-size="100" font-weight="bold" fill="#1515e8" stroke="#1515e8" stroke-width="0.3" vector-effect="non-scaling-stroke">C</text>
<text transform="translate(465.09 293.09) scale(0.0755 0.1105)" font-size="100" font-weight="bold" fill="#2ca02c" stroke="#2ca02c" stroke-width="0.3" vector-effect="non-scaling-stroke">A</text>
<text transform="translate(471.04 295.07) scale(0.0755 0.0276)" font-size="100" font-weight="bold" fill="#2ca02c" stroke="#2ca02c" stroke-width="0.3" vector-effect="non-scaling-stroke">A</text>
<text transform="translate(471.04 293.09) scale(0.0755 0.0368)" font-size="100" font-weight="bold" fill="#1515e8" stroke="#1515e8" stroke-width="0.3" vector-effect="non-scaling-stroke">C</text>
<text transform="translate(471.04 290.46) scale(0.0893 0.0828)" font-size="100" font-weight="bold" fill="#d7191c" stroke="#d7191c" stroke-width="0.3" vector-effect="non-scaling-stroke">T</text>
<text transform="translate(405.59 307.64) scale(0.0893 0.0184)" font-size="100" font-weight="bold" fill="#d7191c" stroke="#d7191c" stroke-width="0.3" vector-effect="non-scaling-stroke">T</text>
<text transform="translate(405.59 306.32) scale(0.0755 0.0276)" font-size="100" font-weight="bold" fill="#1515e8" stroke="#1515e8" stroke-width="0.3" vector-effect="non-scaling-stroke">C</text>
<text transform="translate(405.59 304.34) scale(0.0755 0.0460)" font-size="100" font-weight="bold" fill="#2ca02c" stroke="#2ca02c" stroke-width="0.3" vector-effect="non-scaling-stroke">A</text>
<text transform="translate(405.59 301.05) scale(0.0701 0.0552)" font-size="100" font-weight="bold" fill="#f0a000" stroke="#f0a000" stroke-width="0.3" vector-effect="non-scaling-stroke">G</text>
<text transform="translate(411.54 307.64) scale(0.0755 0.0368)" font-size="100" font-weight="bold" fill="#2ca02c" stroke="#2ca02c" stroke-width="0.3" vector-effect="non-scaling-stroke">A</text>
<text transform="translate(411.54 305.00) scale(0.0755 0.0460)" font-size="100" font-weight="bold" fill="#1515e8" stroke="#1515e8" stroke-width="0.3" vector-effect="non-scaling-stroke">C</text>
<text transform="translate(411.54 301.71) scale(0.0893 0.0552)" font-size="100" font-weight="bold" fill="#d7191c" stroke="#d7191c" stroke-width="0.3" vector-effect="non-scaling-stroke">T</text>
<text transform="translate(417.49 307.64) scale(0.0755 0.0445)" font-size="100" font-weight="bold" fill="#2ca02c" stroke="#2ca02c" stroke-width="0.3" vector-effect="non-scaling-stroke">A</text>
<text transform="translate(417.49 304.45) scale(0.0893 0.1068)" font-size="100" font-weight="bold" fill="#d7191c" stroke="#d7191c" stroke-width="0.3" vector-effect="non-scaling-stroke">T</text>
<text transform="translate(423.44 307.64) scale(0.0701 0.0267)" font-size="100" font-weight="bold" fill="#f0a000" stroke="#f0a000" stroke-width="0.3" vector-effect="non-scaling-stroke">G</text>
<text transform="translate(423.44 305.73) scale(0.0755 0.1246)" font-size="100" font-weight="bold" fill="#2ca02c" stroke="#2ca02c" stroke-width="0.3" vector-effect="non-scaling-stroke">A</text>
<text transform="translate(429.39 307.64) scale(0.0755 0.1436)" font-size="100" font-weight="bold" fill="#2ca02c" stroke="#2ca02c" stroke-width="0.3" vector-effect="non-scaling-stroke">A</text>
<text transform="translate(435.34 307.64) scale(0.0755 0.1513)" font-size="100" font-weight="bold" fill="#1515e8" stroke="#1515e8" stroke-width="0.3" vector-effect="non-scaling-stroke">C</text>
<text transform="translate(441.29 307.64) scale(0.0755 0.1513)" font-size="100" font-weight="bold" fill="#1515e8" stroke="#1515e8" stroke-width="0.3" vector-effect="non-scaling-stroke">C</text>
<text transform="translate(447.24 307.64) scale(0.0755 0.1510)" font-size="100" font-weight="bold" fill="#2ca02c" stroke="#2ca02c" stroke-width="0.3" vector-effect="non-scaling-stroke">A</text>
<text transform="translate(453.19 307.64) scale(0.0755 0.1513)" font-size="100" font-weight="bold" fill="#1515e8" stroke="#1515e8" stroke-width="0.3" vector-effect="non-scaling-stroke">C</text>
<text transform="translate(459.14 307.64) scale(0.0893 0.0276)" font-size="100" font-weight="bold" fill="#d7191c" stroke="#d7191c" stroke-width="0.3" vector-effect="non-scaling-stroke">T</text>
<text transform="translate(459.14 305.66) scale(0.0755 0.1105)" font-size="100" font-weight="bold" fill="#2ca02c" stroke="#2ca02c" stroke-width="0.3" vector-effect="non-scaling-stroke">A</text>
<text transform="translate(405.59 320.21) scale(0.0755 0.1473)" font-size="100" font-weight="bold" fill="#2ca02c" stroke="#2ca02c" stroke-width="0.3" vector-effect="non-scaling-stroke">A</text>
<text transform="translate(411.54 320.21) scale(0.0755 0.1473)" font-size="100" font-weight="bold" fill="#2ca02c" stroke="#2ca02c" stroke-width="0.3" vector-effect="non-scaling-stroke">A</text>
<text transform="translate(417.49 320.21) scale(0.0893 0.0184)" font-size="100" font-weight="bold" fill="#d7191c" stroke="#d7191c" stroke-width="0.3" vector-effect="non-scaling-stroke">T</text>
<text transform="translate(417.49 318.89) scale(0.0755 0.1289)" font-size="100" font-weight="bold" fill="#2ca02c" stroke="#2ca02c" stroke-width="0.3" vector-effect="non-scaling-stroke">A</text>
<text transform="translate(423.44 320.21) scale(0.0893 0.0276)" font-size="100" font-weight="bold" fill="#d7191c" stroke="#d7191c" stroke-width="0.3" vector-effect="non-scaling-stroke">T</text>
<text transform="translate(423.44 318.23) scale(0.0701 0.1012)" font-size="100" font-weight="bold" fill="#f0a000" stroke="#f0a000" stroke-width="0.3" vector-effect="non-scaling-stroke">G</text>
<text transform="translate(429.39 320.21) scale(0.0755 0.0184)" font-size="100" font-weight="bold" fill="#1515e8" stroke="#1515e8" stroke-width="0.3" vector-effect="non-scaling-stroke">C</text>
<text transform="translate(429.39 318.89) scale(0.0701 0.0552)" font-size="100" font-weight="bold" fill="#f0a000" stroke="#f0a000" stroke-width="0.3" vector-effect="non-scaling-stroke">G</text>
<text transform="translate(429.39 314.94) scale(0.0755 0.0644)" font-size="100" font-weight="bold" fill="#2ca02c" stroke="#2ca02c" stroke-width="0.3" vector-effect="non-scaling-stroke">A</text>
<text transform="translate(435.34 320.21) scale(0.0701 0.1513)" font-size="100" font-weight="bold" fill="#f0a000" stroke="#f0a000" stroke-width="0.3" vector-effect="non-scaling-stroke">G</text>
<text transform="translate(441.29 320.21) scale(0.0701 0.1513)" font-size="100" font-weight="bold" fill="#f0a000" stroke="#f0a000" stroke-width="0.3" vector-effect="non-scaling-stroke">G</text>
<text transform="translate(447.24 320.21) scale(0.0755 0.1513)" font-size="100" font-weight="bold" fill="#2ca02c" stroke="#2ca02c" stroke-width="0.3" vector-effect="non-scaling-stroke">A</text>
<text transform="translate(453.19 320.21) scale(0.0755 0.1513)" font-size="100" font-weight="bold" fill="#2ca02c" stroke="#2ca02c" stroke-width="0.3" vector-effect="non-scaling-stroke">A</text>
<text transform="translate(459.14 320.21) scale(0.0755 0.0184)" font-size="100" font-weight="bold" fill="#2ca02c" stroke="#2ca02c" stroke-width="0.3" vector-effect="non-scaling-stroke">A</text>
<text transform="translate(459.14 318.89) scale(0.0755 0.0276)" font-size="100" font-weight="bold" fill="#1515e8" stroke="#1515e8" stroke-width="0.3" vector-effect="non-scaling-stroke">C</text>
<text transform="translate(459.14 316.91) scale(0.0701 0.0920)" font-size="100" font-weight="bold" fill="#f0a000" stroke="#f0a000" stroke-width="0.3" vector-effect="non-scaling-stroke">G</text>
<text transform="translate(465.09 320.21) scale(0.0755 0.0276)" font-size="100" font-weight="bold" fill="#1515e8" stroke="#1515e8" stroke-width="0.3" vector-effect="non-scaling-stroke">C</text>
<text transform="translate(465.09 318.23) scale(0.0893 0.1197)" font-size="100" font-weight="bold" fill="#d7191c" stroke="#d7191c" stroke-width="0.3" vector-effect="non-scaling-stroke">T</text>
<text transform="translate(471.04 320.21) scale(0.0893 0.0184)" font-size="100" font-weight="bold" fill="#d7191c" stroke="#d7191c" stroke-width="0.3" vector-effect="non-scaling-stroke">T</text>
<text transform="translate(471.04 318.89) scale(0.0755 0.0368)" font-size="100" font-weight="bold" fill="#2ca02c" stroke="#2ca02c" stroke-width="0.3" vector-effect="non-scaling-stroke">A</text>
<text transform="translate(471.04 316.26) scale(0.0701 0.0920)" font-size="100" font-weight="bold" fill="#f0a000" stroke="#f0a000" stroke-width="0.3" vector-effect="non-scaling-stroke">G</text>
<line x1="404.60" y1="308.44" x2="476.50" y2="308.44" stroke="#a7a9ac" stroke-width="0.8" />
<text transform="translate(405.59 332.78) scale(0.0755 0.0184)" font-size="100" font-weight="bold" fill="#2ca02c" stroke="#2ca02c" stroke-width="0.3" vector-effect="non-scaling-stroke">A</text>
<text transform="translate(405.59 331.46) scale(0.0701 0.0184)" font-size="100" font-weight="bold" fill="#f0a000" stroke="#f0a000" stroke-width="0.3" vector-effect="non-scaling-stroke">G</text>
<text transform="translate(405.59 330.14) scale(0.0893 0.0368)" font-size="100" font-weight="bold" fill="#d7191c" stroke="#d7191c" stroke-width="0.3" vector-effect="non-scaling-stroke">T</text>
<text transform="translate(405.59 327.51) scale(0.0755 0.0736)" font-size="100" font-weight="bold" fill="#1515e8" stroke="#1515e8" stroke-width="0.3" vector-effect="non-scaling-stroke">C</text>
<text transform="translate(411.54 332.78) scale(0.0755 0.0276)" font-size="100" font-weight="bold" fill="#2ca02c" stroke="#2ca02c" stroke-width="0.3" vector-effect="non-scaling-stroke">A</text>
<text transform="translate(411.54 330.80) scale(0.0893 0.0276)" font-size="100" font-weight="bold" fill="#d7191c" stroke="#d7191c" stroke-width="0.3" vector-effect="non-scaling-stroke">T</text>
<text transform="translate(411.54 328.83) scale(0.0755 0.0736)" font-size="100" font-weight="bold" fill="#1515e8" stroke="#1515e8" stroke-width="0.3" vector-effect="non-scaling-stroke">C</text>
<text transform="translate(417.49 332.78) scale(0.0701 0.0184)" font-size="100" font-weight="bold" fill="#f0a000" stroke="#f0a000" stroke-width="0.3" vector-effect="non-scaling-stroke">G</text>
<text transform="translate(417.49 331.46) scale(0.0755 0.1289)" font-size="100" font-weight="bold" fill="#2ca02c" stroke="#2ca02c" stroke-width="0.3" vector-effect="non-scaling-stroke">A</text>
<text transform="translate(423.44 332.78) scale(0.0755 0.0184)" font-size="100" font-weight="bold" fill="#1515e8" stroke="#1515e8" stroke-width="0.3" vector-effect="non-scaling-stroke">C</text>
<text transform="translate(423.44 331.46) scale(0.0701 0.0552)" font-size="100" font-weight="bold" fill="#f0a000" stroke="#f0a000" stroke-width="0.3" vector-effect="non-scaling-stroke">G</text>
<text transform="translate(423.44 327.51) scale(0.0755 0.0552)" font-size="100" font-weight="bold" fill="#2ca02c" stroke="#2ca02c" stroke-width="0.3" vector-effect="non-scaling-stroke">A</text>
<text transform="translate(429.39 332.78) scale(0.0701 0.0184)" font-size="100" font-weight="bold" fill="#f0a000" stroke="#f0a000" stroke-width="0.3" vector-effect="non-scaling-stroke">G</text>
<text transform="translate(429.39 331.46) scale(0.0893 0.0184)" font-size="100" font-weight="bold" fill="#d7191c" stroke="#d7191c" stroke-width="0.3" vector-effect="non-scaling-stroke">T</text>
<text transform="translate(429.39 330.14) scale(0.0755 0.1105)" font-size="100" font-weight="bold" fill="#1515e8" stroke="#1515e8" stroke-width="0.3" vector-effect="non-scaling-stroke">C</text>
<text transform="translate(435.34 332.78) scale(0.0755 0.0368)" font-size="100" font-weight="bold" fill="#1515e8" stroke="#1515e8" stroke-width="0.3" vector-effect="non-scaling-stroke">C</text>
<text transform="translate(435.34 330.14) scale(0.0701 0.0460)" font-size="100" font-weight="bold" fill="#f0a000" stroke="#f0a000" stroke-width="0.3" vector-effect="non-scaling-stroke">G</text>
<text transform="translate(435.34 326.85) scale(0.0893 0.0552)" font-size="100" font-weight="bold" fill="#d7191c" stroke="#d7191c" stroke-width="0.3" vector-effect="non-scaling-stroke">T</text>
<text transform="translate(441.29 332.78) scale(0.0701 0.1473)" font-size="100" font-weight="bold" fill="#f0a000" stroke="#f0a000" stroke-width="0.3" vector-effect="non-scaling-stroke">G</text>
<text transform="translate(447.24 332.78) scale(0.0755 0.0552)" font-size="100" font-weight="bold" fill="#1515e8" stroke="#1515e8" stroke-width="0.3" vector-effect="non-scaling-stroke">C</text>
<text transform="translate(447.24 328.83) scale(0.0893 0.0920)" font-size="100" font-weight="bold" fill="#d7191c" stroke="#d7191c" stroke-width="0.3" vector-effect="non-scaling-stroke">T</text>
<line x1="404.60" y1="321.01" x2="476.50" y2="321.01" stroke="#a7a9ac" stroke-width="0.8" />
<text transform="translate(405.59 345.35) scale(0.0755 0.0168)" font-size="100" font-weight="bold" fill="#1515e8" stroke="#1515e8" stroke-width="0.3" vector-effect="non-scaling-stroke">C</text>
<text transform="translate(405.59 344.15) scale(0.0701 0.0168)" font-size="100" font-weight="bold" fill="#f0a000" stroke="#f0a000" stroke-width="0.3" vector-effect="non-scaling-stroke">G</text>
<text transform="translate(405.59 342.94) scale(0.0755 0.1177)" font-size="100" font-weight="bold" fill="#2ca02c" stroke="#2ca02c" stroke-width="0.3" vector-effect="non-scaling-stroke">A</text>
<text transform="translate(411.54 345.35) scale(0.0755 0.0168)" font-size="100" font-weight="bold" fill="#2ca02c" stroke="#2ca02c" stroke-width="0.3" vector-effect="non-scaling-stroke">A</text>
<text transform="translate(411.54 344.15) scale(0.0893 0.1345)" font-size="100" font-weight="bold" fill="#d7191c" stroke="#d7191c" stroke-width="0.3" vector-effect="non-scaling-stroke">T</text>
<text transform="translate(417.49 345.35) scale(0.0755 0.0267)" font-size="100" font-weight="bold" fill="#2ca02c" stroke="#2ca02c" stroke-width="0.3" vector-effect="non-scaling-stroke">A</text>
<text transform="translate(417.49 343.44) scale(0.0701 0.1246)" font-size="100" font-weight="bold" fill="#f0a000" stroke="#f0a000" stroke-width="0.3" vector-effect="non-scaling-stroke">G</text>
<text transform="translate(423.44 345.35) scale(0.0893 0.0276)" font-size="100" font-weight="bold" fill="#d7191c" stroke="#d7191c" stroke-width="0.3" vector-effect="non-scaling-stroke">T</text>
<text transform="translate(423.44 343.37) scale(0.0755 0.1105)" font-size="100" font-weight="bold" fill="#2ca02c" stroke="#2ca02c" stroke-width="0.3" vector-effect="non-scaling-stroke">A</text>
<text transform="translate(429.39 345.35) scale(0.0893 0.0368)" font-size="100" font-weight="bold" fill="#d7191c" stroke="#d7191c" stroke-width="0.3" vector-effect="non-scaling-stroke">T</text>
<text transform="translate(429.39 342.71) scale(0.0701 0.0368)" font-size="100" font-weight="bold" fill="#f0a000" stroke="#f0a000" stroke-width="0.3" vector-effect="non-scaling-stroke">G</text>
<text transform="translate(429.39 340.08) scale(0.0755 0.0552)" font-size="100" font-weight="bold" fill="#1515e8" stroke="#1515e8" stroke-width="0.3" vector-effect="non-scaling-stroke">C</text>
<text transform="translate(435.34 345.35) scale(0.0893 0.0368)" font-size="100" font-weight="bold" fill="#d7191c" stroke="#d7191c" stroke-width="0.3" vector-effect="non-scaling-stroke">T</text>
<text transform="translate(435.34 342.71) scale(0.0755 0.0276)" font-size="100" font-weight="bold" fill="#1515e8" stroke="#1515e8" stroke-width="0.3" vector-effect="non-scaling-stroke">C</text>
<text transform="translate(435.34 340.74) scale(0.0701 0.0644)" font-size="100" font-weight="bold" fill="#f0a000" stroke="#f0a000" stroke-width="0.3" vector-effect="non-scaling-stroke">G</text>
<text transform="translate(441.29 345.35) scale(0.0755 0.1513)" font-size="100" font-weight="bold" fill="#1515e8" stroke="#1515e8" stroke-width="0.3" vector-effect="non-scaling-stroke">C</text>
<text transform="translate(447.24 345.35) scale(0.0755 0.1473)" font-size="100" font-weight="bold" fill="#2ca02c" stroke="#2ca02c" stroke-width="0.3" vector-effect="non-scaling-stroke">A</text>
<text transform="translate(453.19 345.35) scale(0.0755 0.1289)" font-size="100" font-weight="bold" fill="#2ca02c" stroke="#2ca02c" stroke-width="0.3" vector-effect="non-scaling-stroke">A</text>
<text transform="translate(459.14 345.35) scale(0.0701 0.0184)" font-size="100" font-weight="bold" fill="#f0a000" stroke="#f0a000" stroke-width="0.3" vector-effect="non-scaling-stroke">G</text>
<text transform="translate(459.14 344.03) scale(0.0755 0.0368)" font-size="100" font-weight="bold" fill="#1515e8" stroke="#1515e8" stroke-width="0.3" vector-effect="non-scaling-stroke">C</text>
<text transform="translate(459.14 341.40) scale(0.0893 0.0736)" font-size="100" font-weight="bold" fill="#d7191c" stroke="#d7191c" stroke-width="0.3" vector-effect="non-scaling-stroke">T</text>
<line x1="404.60" y1="333.58" x2="476.50" y2="333.58" stroke="#a7a9ac" stroke-width="0.8" />
<text transform="translate(405.59 357.92) scale(0.0701 0.1513)" font-size="100" font-weight="bold" fill="#f0a000" stroke="#f0a000" stroke-width="0.3" vector-effect="non-scaling-stroke">G</text>
<text transform="translate(411.54 357.92) scale(0.0755 0.1513)" font-size="100" font-weight="bold" fill="#2ca02c" stroke="#2ca02c" stroke-width="0.3" vector-effect="non-scaling-stroke">A</text>
<text transform="translate(417.49 357.92) scale(0.0755 0.1513)" font-size="100" font-weight="bold" fill="#1515e8" stroke="#1515e8" stroke-width="0.3" vector-effect="non-scaling-stroke">C</text>
<text transform="translate(423.44 357.92) scale(0.0755 0.1513)" font-size="100" font-weight="bold" fill="#2ca02c" stroke="#2ca02c" stroke-width="0.3" vector-effect="non-scaling-stroke">A</text>
<text transform="translate(429.39 357.92) scale(0.0701 0.1513)" font-size="100" font-weight="bold" fill="#f0a000" stroke="#f0a000" stroke-width="0.3" vector-effect="non-scaling-stroke">G</text>
<text transform="translate(435.34 357.92) scale(0.0893 0.0368)" font-size="100" font-weight="bold" fill="#d7191c" stroke="#d7191c" stroke-width="0.3" vector-effect="non-scaling-stroke">T</text>
<text transform="translate(435.34 355.28) scale(0.0755 0.1105)" font-size="100" font-weight="bold" fill="#2ca02c" stroke="#2ca02c" stroke-width="0.3" vector-effect="non-scaling-stroke">A</text>
<text transform="translate(441.29 357.92) scale(0.0893 0.0276)" font-size="100" font-weight="bold" fill="#d7191c" stroke="#d7191c" stroke-width="0.3" vector-effect="non-scaling-stroke">T</text>
<text transform="translate(441.29 355.94) scale(0.0755 0.1105)" font-size="100" font-weight="bold" fill="#2ca02c" stroke="#2ca02c" stroke-width="0.3" vector-effect="non-scaling-stroke">A</text>
<text transform="translate(447.24 357.92) scale(0.0701 0.0368)" font-size="100" font-weight="bold" fill="#f0a000" stroke="#f0a000" stroke-width="0.3" vector-effect="non-scaling-stroke">G</text>
<text transform="translate(447.24 355.28) scale(0.0755 0.0920)" font-size="100" font-weight="bold" fill="#2ca02c" stroke="#2ca02c" stroke-width="0.3" vector-effect="non-scaling-stroke">A</text>
<line x1="404.60" y1="346.15" x2="476.50" y2="346.15" stroke="#a7a9ac" stroke-width="0.8" />
<rect x="404.60" y="283.30" width="71.90" height="75.42" fill="none" stroke="#939598" stroke-width="0.9" />
<text class="t" x="495.40" y="287.60" font-size="4.9" fill="#231f20" stroke="#231f20" stroke-width="0.06" text-anchor="middle" >HOX</text>
<text class="t" x="495.40" y="293.96" font-size="4.9" fill="#231f20" stroke="#231f20" stroke-width="0.06" text-anchor="middle" >(53%, 1e-479)</text>
<text class="t" x="495.40" y="300.32" font-size="4.9" fill="#231f20" stroke="#231f20" stroke-width="0.06" text-anchor="middle" >RUNX</text>
<text class="t" x="495.40" y="306.68" font-size="4.9" fill="#231f20" stroke="#231f20" stroke-width="0.06" text-anchor="middle" >(41%, 1e-76)</text>
<text class="t" x="495.40" y="313.04" font-size="4.9" fill="#231f20" stroke="#231f20" stroke-width="0.06" text-anchor="middle" >PU.1(ETS)</text>
<text class="t" x="495.40" y="319.40" font-size="4.9" fill="#231f20" stroke="#231f20" stroke-width="0.06" text-anchor="middle" >(30%, 1e-171)</text>
<text class="t" x="495.40" y="325.76" font-size="4.9" fill="#231f20" stroke="#231f20" stroke-width="0.06" text-anchor="middle" >MYB</text>
<text class="t" x="495.40" y="332.12" font-size="4.9" fill="#231f20" stroke="#231f20" stroke-width="0.06" text-anchor="middle" >(28%, 1e-21)</text>
<text class="t" x="495.40" y="338.48" font-size="4.9" fill="#231f20" stroke="#231f20" stroke-width="0.06" text-anchor="middle" >CEBP</text>
<text class="t" x="495.40" y="344.84" font-size="4.9" fill="#231f20" stroke="#231f20" stroke-width="0.06" text-anchor="middle" >(25%, 1e-22)</text>
<text class="t" x="495.40" y="351.20" font-size="4.9" fill="#231f20" stroke="#231f20" stroke-width="0.06" text-anchor="middle" >MEIS1</text>
<text class="t" x="495.40" y="357.56" font-size="4.9" fill="#231f20" stroke="#231f20" stroke-width="0.06" text-anchor="middle" >(17%, 1e-17)</text>
<path d="M44.6 515.3V414.7H168.8V515.3" fill="none" stroke="#111" stroke-width="1.35"/>
<line x1="43.60" y1="515.30" x2="169.40" y2="515.30" stroke="#111" stroke-width="1.35" />
<line x1="41.40" y1="414.70" x2="44.60" y2="414.70" stroke="#231f20" stroke-width="0.9" />
<line x1="41.40" y1="424.77" x2="44.60" y2="424.77" stroke="#231f20" stroke-width="0.9" />
<line x1="41.40" y1="434.84" x2="44.60" y2="434.84" stroke="#231f20" stroke-width="0.9" />
<line x1="41.40" y1="444.91" x2="44.60" y2="444.91" stroke="#231f20" stroke-width="0.9" />
<line x1="41.40" y1="454.98" x2="44.60" y2="454.98" stroke="#231f20" stroke-width="0.9" />
<line x1="41.40" y1="465.05" x2="44.60" y2="465.05" stroke="#231f20" stroke-width="0.9" />
<line x1="41.40" y1="475.12" x2="44.60" y2="475.12" stroke="#231f20" stroke-width="0.9" />
<line x1="41.40" y1="485.19" x2="44.60" y2="485.19" stroke="#231f20" stroke-width="0.9" />
<line x1="41.40" y1="495.26" x2="44.60" y2="495.26" stroke="#231f20" stroke-width="0.9" />
<line x1="41.40" y1="505.33" x2="44.60" y2="505.33" stroke="#231f20" stroke-width="0.9" />
<line x1="44.60" y1="515.30" x2="44.60" y2="518.30" stroke="#231f20" stroke-width="0.9" />
<line x1="57.02" y1="515.30" x2="57.02" y2="518.30" stroke="#231f20" stroke-width="0.9" />
<line x1="69.44" y1="515.30" x2="69.44" y2="518.30" stroke="#231f20" stroke-width="0.9" />
<line x1="81.86" y1="515.30" x2="81.86" y2="518.30" stroke="#231f20" stroke-width="0.9" />
<line x1="94.28" y1="515.30" x2="94.28" y2="518.30" stroke="#231f20" stroke-width="0.9" />
<line x1="106.70" y1="515.30" x2="106.70" y2="518.30" stroke="#231f20" stroke-width="0.9" />
<line x1="119.12" y1="515.30" x2="119.12" y2="518.30" stroke="#231f20" stroke-width="0.9" />
<line x1="131.54" y1="515.30" x2="131.54" y2="518.30" stroke="#231f20" stroke-width="0.9" />
<line x1="143.96" y1="515.30" x2="143.96" y2="518.30" stroke="#231f20" stroke-width="0.9" />
<line x1="156.38" y1="515.30" x2="156.38" y2="518.30" stroke="#231f20" stroke-width="0.9" />
<line x1="168.80" y1="515.30" x2="168.80" y2="518.30" stroke="#231f20" stroke-width="0.9" />
<text class="t" x="37.30" y="416.80" font-size="5.8" fill="#231f20" stroke="#231f20" stroke-width="0.06" text-anchor="end" >0.01</text>
<text class="t" x="37.30" y="507.60" font-size="5.8" fill="#231f20" stroke="#231f20" stroke-width="0.06" text-anchor="end" >0.001</text>
<text class="t" x="44.60" y="526.60" font-size="6.0" fill="#231f20" stroke="#231f20" stroke-width="0.14" text-anchor="middle" >-100</text>
<text class="t" x="94.10" y="526.60" font-size="6.0" fill="#231f20" stroke="#231f20" stroke-width="0.14" text-anchor="middle" >-20</text>
<text class="t" x="106.50" y="526.60" font-size="6.0" fill="#231f20" stroke="#231f20" stroke-width="0.14" text-anchor="middle" >0</text>
<text class="t" x="118.90" y="526.60" font-size="6.0" fill="#231f20" stroke="#231f20" stroke-width="0.14" text-anchor="middle" >20</text>
<text class="t" x="168.40" y="526.60" font-size="6.0" fill="#231f20" stroke="#231f20" stroke-width="0.14" text-anchor="middle" >100</text>
<text class="t" x="106.50" y="540.30" font-size="9.8" fill="#231f20" stroke="#231f20" stroke-width="0.22" text-anchor="middle" textLength="74.3" lengthAdjust="spacingAndGlyphs" >dist.from center (bp)</text>
<text class="t" x="0.00" y="0.00" font-size="8.8" fill="#231f20" stroke="#231f20" stroke-width="0.22" text-anchor="middle" textLength="29.8" lengthAdjust="spacingAndGlyphs" transform="translate(17.0 465.0) rotate(-90)">Fraction</text>
<text class="t" x="49.80" y="422.80" font-size="6.4" fill="#231f20" stroke="#231f20" stroke-width="0.14" text-anchor="start" textLength="18.5" lengthAdjust="spacingAndGlyphs" >mouse</text>
<polyline points="56.88,515.19 63.10,487.92 69.32,489.22 75.54,473.64 81.76,449.48 87.97,451.56 94.19,434.68 100.41,433.38 106.63,422.47 112.85,446.36 119.06,430.26 125.28,457.53 131.50,454.16 137.72,465.84 143.94,484.03 150.16,490.52 156.37,512.60" fill="none" stroke="#2b4ea2" stroke-width="1.15" stroke-linejoin="round"/>
<polyline points="56.88,515.19 63.10,477.01 69.32,473.64 75.54,467.66 81.76,470.52 87.97,472.86 94.19,480.13 100.41,463.25 106.63,471.04 112.85,471.56 119.06,467.66 125.28,461.43 131.50,459.87 137.72,478.83 143.94,472.86 150.16,485.32 156.37,512.60" fill="none" stroke="#dd4b2e" stroke-width="1.15" stroke-linejoin="round"/>
<polyline points="56.88,515.19 63.10,511.30 69.32,504.81 75.54,508.18 81.76,504.03 87.97,499.61 94.19,495.71 100.41,485.32 106.63,474.94 112.85,478.83 119.06,489.22 125.28,491.82 131.50,502.99 137.72,510.00 143.94,504.03 150.16,508.18 156.37,513.90" fill="none" stroke="#f6d02f" stroke-width="1.15" stroke-linejoin="round"/>
<polyline points="56.88,515.19 63.10,499.61 69.32,503.51 75.54,502.21 81.76,497.01 87.97,490.52 94.19,498.31 100.41,486.62 106.63,497.01 112.85,496.23 119.06,496.49 125.28,494.42 131.50,489.22 137.72,498.31 143.94,499.09 150.16,500.39 156.37,512.60" fill="none" stroke="#5f9b3a" stroke-width="1.15" stroke-linejoin="round"/>
<polyline points="56.88,515.19 63.10,501.43 69.32,504.81 75.54,499.61 81.76,502.99 87.97,500.39 94.19,500.91 100.41,504.81 106.63,499.61 112.85,498.31 119.06,499.61 125.28,502.99 131.50,502.99 137.72,502.21 143.94,500.39 150.16,502.21 156.37,512.60" fill="none" stroke="#7c1f30" stroke-width="1.15" stroke-linejoin="round"/>
<line x1="131.50" y1="420.50" x2="144.80" y2="420.50" stroke="#2b4ea2" stroke-width="1.1" />
<text class="t" x="147.80" y="422.70" font-size="5.8" fill="#231f20" stroke="#231f20" stroke-width="0.06" text-anchor="start" textLength="14" lengthAdjust="spacingAndGlyphs" >CEBP</text>
<line x1="131.50" y1="428.00" x2="144.80" y2="428.00" stroke="#dd4b2e" stroke-width="1.1" />
<text class="t" x="147.80" y="430.20" font-size="5.8" fill="#231f20" stroke="#231f20" stroke-width="0.06" text-anchor="start" textLength="11.7" lengthAdjust="spacingAndGlyphs" >PU.1</text>
<line x1="131.50" y1="435.50" x2="144.80" y2="435.50" stroke="#f6d02f" stroke-width="1.1" />
<text class="t" x="147.80" y="437.70" font-size="5.8" fill="#231f20" stroke="#231f20" stroke-width="0.06" text-anchor="start" textLength="12" lengthAdjust="spacingAndGlyphs" >HOX</text>
<line x1="131.50" y1="443.00" x2="144.80" y2="443.00" stroke="#5f9b3a" stroke-width="1.1" />
<text class="t" x="147.80" y="445.20" font-size="5.8" fill="#231f20" stroke="#231f20" stroke-width="0.06" text-anchor="start" textLength="15.9" lengthAdjust="spacingAndGlyphs" >RUNX</text>
<line x1="131.50" y1="450.50" x2="144.80" y2="450.50" stroke="#7c1f30" stroke-width="1.1" />
<text class="t" x="147.80" y="452.70" font-size="5.8" fill="#231f20" stroke="#231f20" stroke-width="0.06" text-anchor="start" textLength="12" lengthAdjust="spacingAndGlyphs" >MYB</text>
<path d="M206.5 515.3V414.4H331.0V515.3" fill="none" stroke="#111" stroke-width="1.35"/>
<line x1="205.50" y1="515.30" x2="331.60" y2="515.30" stroke="#111" stroke-width="1.35" />
<line x1="203.50" y1="448.30" x2="206.50" y2="448.30" stroke="#231f20" stroke-width="0.9" />
<line x1="203.50" y1="482.00" x2="206.50" y2="482.00" stroke="#231f20" stroke-width="0.9" />
<line x1="203.50" y1="515.30" x2="206.50" y2="515.30" stroke="#231f20" stroke-width="0.9" />
<line x1="206.50" y1="515.30" x2="206.50" y2="518.30" stroke="#231f20" stroke-width="0.9" />
<line x1="227.25" y1="515.30" x2="227.25" y2="518.30" stroke="#231f20" stroke-width="0.9" />
<line x1="248.00" y1="515.30" x2="248.00" y2="518.30" stroke="#231f20" stroke-width="0.9" />
<line x1="268.75" y1="515.30" x2="268.75" y2="518.30" stroke="#231f20" stroke-width="0.9" />
<line x1="289.50" y1="515.30" x2="289.50" y2="518.30" stroke="#231f20" stroke-width="0.9" />
<line x1="310.25" y1="515.30" x2="310.25" y2="518.30" stroke="#231f20" stroke-width="0.9" />
<line x1="331.00" y1="515.30" x2="331.00" y2="518.30" stroke="#231f20" stroke-width="0.9" />
<text class="t" x="200.80" y="450.20" font-size="5.8" fill="#231f20" stroke="#231f20" stroke-width="0.06" text-anchor="end" >0.01</text>
<text class="t" x="200.80" y="483.90" font-size="5.8" fill="#231f20" stroke="#231f20" stroke-width="0.06" text-anchor="end" >0.001</text>
<text class="t" x="200.80" y="517.30" font-size="5.8" fill="#231f20" stroke="#231f20" stroke-width="0.06" text-anchor="end" >-</text>
<text class="t" x="227.50" y="526.60" font-size="6.0" fill="#231f20" stroke="#231f20" stroke-width="0.14" text-anchor="middle" >-100</text>
<text class="t" x="268.70" y="526.60" font-size="6.0" fill="#231f20" stroke="#231f20" stroke-width="0.14" text-anchor="middle" >0</text>
<text class="t" x="309.90" y="526.60" font-size="6.0" fill="#231f20" stroke="#231f20" stroke-width="0.14" text-anchor="middle" >100</text>
<text class="t" x="268.70" y="540.30" font-size="9.8" fill="#231f20" stroke="#231f20" stroke-width="0.22" text-anchor="middle" textLength="74.3" lengthAdjust="spacingAndGlyphs" >dist.from center (bp)</text>
<text class="t" x="211.00" y="422.00" font-size="6.2" fill="#231f20" stroke="#231f20" stroke-width="0.14" text-anchor="start" textLength="20" lengthAdjust="spacingAndGlyphs" >human</text>
<clipPath id="hclip"><rect x="206" y="414" width="126" height="101.3"/></clipPath>
<g clip-path="url(#hclip)">
<polyline points="223.46,476.83 227.59,486.35 231.71,478.95 235.84,475.77 239.96,472.60 244.09,481.06 248.21,473.66 252.34,476.83 256.46,475.77 260.59,473.66 264.71,477.89 268.84,469.43 272.96,477.89 277.09,472.60 281.22,473.66 285.34,475.77 289.47,472.60 293.59,482.12 297.72,477.89 301.84,482.12 305.97,473.66 310.09,475.77 314.22,482.12 318.34,488.47" fill="none" stroke="#2b4ea2" stroke-width="1.1" stroke-linejoin="round"/>
<polyline points="223.46,499.04 227.59,480.00 231.71,481.06 235.84,474.71 239.96,473.66 244.09,470.48 248.21,468.37 252.34,470.48 256.46,467.31 260.59,469.43 264.71,473.66 268.84,491.64 272.96,472.60 277.09,468.37 281.22,466.25 285.34,470.48 289.47,468.37 293.59,478.95 297.72,488.47 301.84,484.23 305.97,488.47 310.09,485.29 314.22,483.18 318.34,488.47" fill="none" stroke="#dd4b2e" stroke-width="1.1" stroke-linejoin="round"/>
<polyline points="223.46,504.97 227.59,500.10 231.71,493.12 235.84,492.70 239.96,495.45 244.09,494.81 248.21,489.52 252.34,484.23 256.46,482.12 260.59,475.77 264.71,455.67 268.84,431.35 272.96,450.39 277.09,462.02 281.22,477.89 285.34,490.58 289.47,514.91 293.59,499.47 297.72,499.47 301.84,499.47 305.97,504.33 310.09,509.62 314.22,513.85 318.34,518.08" fill="none" stroke="#f6d02f" stroke-width="1.1" stroke-linejoin="round"/>
<polyline points="223.46,477.89 227.59,472.60 231.71,469.43 235.84,468.37 239.96,468.37 244.09,468.37 248.21,470.48 252.34,462.02 256.46,463.08 260.59,460.96 264.71,466.25 268.84,477.89 272.96,464.14 277.09,462.02 281.22,463.08 285.34,464.14 289.47,465.19 293.59,476.83 297.72,473.66 301.84,470.48 305.97,467.31 310.09,472.60 314.22,477.89 318.34,513.85" fill="none" stroke="#5f9b3a" stroke-width="1.1" stroke-linejoin="round"/>
<polyline points="223.46,485.29 227.59,478.95 231.71,481.06 235.84,475.77 239.96,472.60 244.09,475.35 248.21,474.71 252.34,473.23 256.46,471.54 260.59,471.54 264.71,474.71 268.84,481.06 272.96,472.60 277.09,471.54 281.22,473.66 285.34,470.48 289.47,470.48 293.59,475.77 297.72,473.66 301.84,473.66 305.97,471.54 310.09,476.83 314.22,478.95 318.34,504.33" fill="none" stroke="#7c1f30" stroke-width="1.1" stroke-linejoin="round"/>
<polyline points="223.46,491.64 227.59,486.35 231.71,492.70 235.84,484.23 239.96,483.18 244.09,485.29 248.21,491.64 252.34,486.35 256.46,481.06 260.59,476.83 264.71,474.71 268.84,474.71 272.96,473.66 277.09,476.83 281.22,474.71 285.34,481.06 289.47,483.18 293.59,484.23 297.72,481.06 301.84,499.04 305.97,488.47 310.09,490.58 314.22,485.29 318.34,513.85" fill="none" stroke="#b5cc3a" stroke-width="1.1" stroke-linejoin="round"/>
</g>
<line x1="294.40" y1="420.50" x2="306.20" y2="420.50" stroke="#2b4ea2" stroke-width="1.0" />
<text class="t" x="308.80" y="422.60" font-size="5.8" fill="#231f20" stroke="#231f20" stroke-width="0.06" text-anchor="start" textLength="14.4" lengthAdjust="spacingAndGlyphs" >CEBP</text>
<line x1="294.40" y1="427.94" x2="306.20" y2="427.94" stroke="#dd4b2e" stroke-width="1.0" />
<text class="t" x="308.80" y="430.04" font-size="5.8" fill="#231f20" stroke="#231f20" stroke-width="0.06" text-anchor="start" textLength="11.6" lengthAdjust="spacingAndGlyphs" >PU.1</text>
<line x1="294.40" y1="435.38" x2="306.20" y2="435.38" stroke="#f6d02f" stroke-width="1.0" />
<text class="t" x="308.80" y="437.48" font-size="5.8" fill="#231f20" stroke="#231f20" stroke-width="0.06" text-anchor="start" textLength="12" lengthAdjust="spacingAndGlyphs" >HOX</text>
<line x1="294.40" y1="442.82" x2="306.20" y2="442.82" stroke="#5f9b3a" stroke-width="1.0" />
<text class="t" x="308.80" y="444.92" font-size="5.8" fill="#231f20" stroke="#231f20" stroke-width="0.06" text-anchor="start" textLength="15.5" lengthAdjust="spacingAndGlyphs" >RUNX</text>
<line x1="294.40" y1="450.26" x2="306.20" y2="450.26" stroke="#7c1f30" stroke-width="1.0" />
<text class="t" x="308.80" y="452.36" font-size="5.8" fill="#231f20" stroke="#231f20" stroke-width="0.06" text-anchor="start" textLength="11.5" lengthAdjust="spacingAndGlyphs" >MYB</text>
<line x1="294.40" y1="457.70" x2="306.20" y2="457.70" stroke="#b5cc3a" stroke-width="1.0" />
<text class="t" x="308.80" y="459.80" font-size="5.8" fill="#231f20" stroke="#231f20" stroke-width="0.06" text-anchor="start" textLength="16.2" lengthAdjust="spacingAndGlyphs" >MEIS1</text>
<rect x="378.80" y="414.60" width="115.50" height="100.60" fill="none" stroke="#111" stroke-width="1.35" />
<line x1="375.50" y1="421.75" x2="378.80" y2="421.75" stroke="#231f20" stroke-width="0.9" />
<text class="t" x="372.60" y="423.75" font-size="5.8" fill="#231f20" stroke="#231f20" stroke-width="0.06" text-anchor="end" >0.22</text>
<line x1="375.50" y1="443.35" x2="378.80" y2="443.35" stroke="#231f20" stroke-width="0.9" />
<text class="t" x="372.60" y="445.35" font-size="5.8" fill="#231f20" stroke="#231f20" stroke-width="0.06" text-anchor="end" >0.20</text>
<line x1="375.50" y1="464.95" x2="378.80" y2="464.95" stroke="#231f20" stroke-width="0.9" />
<text class="t" x="372.60" y="466.95" font-size="5.8" fill="#231f20" stroke="#231f20" stroke-width="0.06" text-anchor="end" >0.18</text>
<line x1="375.50" y1="486.55" x2="378.80" y2="486.55" stroke="#231f20" stroke-width="0.9" />
<text class="t" x="372.60" y="488.55" font-size="5.8" fill="#231f20" stroke="#231f20" stroke-width="0.06" text-anchor="end" >0.16</text>
<line x1="375.50" y1="508.15" x2="378.80" y2="508.15" stroke="#231f20" stroke-width="0.9" />
<text class="t" x="372.60" y="510.15" font-size="5.8" fill="#231f20" stroke="#231f20" stroke-width="0.06" text-anchor="end" >0.14</text>
<line x1="378.80" y1="515.20" x2="378.80" y2="518.20" stroke="#231f20" stroke-width="0.9" />
<line x1="436.50" y1="515.20" x2="436.50" y2="518.20" stroke="#231f20" stroke-width="0.9" />
<line x1="494.30" y1="515.20" x2="494.30" y2="518.20" stroke="#231f20" stroke-width="0.9" />
<text class="t" x="378.80" y="526.90" font-size="6.0" fill="#231f20" stroke="#231f20" stroke-width="0.14" text-anchor="middle" >-1000</text>
<text class="t" x="436.50" y="526.90" font-size="6.0" fill="#231f20" stroke="#231f20" stroke-width="0.14" text-anchor="middle" >0</text>
<text class="t" x="494.30" y="526.90" font-size="6.0" fill="#231f20" stroke="#231f20" stroke-width="0.14" text-anchor="middle" >1000</text>
<text class="t" x="436.50" y="540.30" font-size="9.8" fill="#231f20" stroke="#231f20" stroke-width="0.22" text-anchor="middle" textLength="74.3" lengthAdjust="spacingAndGlyphs" >dist.from center (bp)</text>
<text class="t" x="0.00" y="0.00" font-size="9.4" fill="#231f20" stroke="#231f20" stroke-width="0.22" text-anchor="middle" textLength="88" lengthAdjust="spacingAndGlyphs" transform="translate(355.8 465.2) rotate(-90)">Conservation score (0–1)</text>
<text class="t" x="382.00" y="423.00" font-size="6.3" fill="#231f20" stroke="#231f20" stroke-width="0.14" text-anchor="start" textLength="99.8" lengthAdjust="spacingAndGlyphs" >conservation of murine Hoxa9 peaks</text>
<text class="t" x="382.00" y="430.80" font-size="6.3" fill="#231f20" stroke="#231f20" stroke-width="0.14" text-anchor="start" textLength="46.8" lengthAdjust="spacingAndGlyphs" >(Euarchontoglire)</text>
<polyline points="378.80,504.98 379.38,505.50 379.95,503.13 380.53,505.58 381.11,505.47 381.69,504.42 382.26,506.74 382.84,506.53 383.42,505.80 384.00,506.08 384.57,506.57 385.15,505.43 385.73,505.31 386.31,504.32 386.88,506.27 387.46,505.61 388.04,504.35 388.62,504.22 389.19,507.68 389.77,506.38 390.35,508.28 390.93,508.53 391.50,508.72 392.08,508.32 392.66,506.91 393.24,506.83 393.81,507.01 394.39,506.99 394.97,506.35 395.55,506.23 396.12,505.37 396.70,506.65 397.28,506.24 397.86,506.49 398.44,506.59 399.01,506.39 399.59,506.37 400.17,505.18 400.75,506.07 401.32,504.22 401.90,505.38 402.48,505.12 403.06,504.32 403.63,503.98 404.21,504.13 404.79,503.52 405.37,504.11 405.94,505.26 406.52,506.62 407.10,507.06 407.68,506.34 408.25,507.84 408.83,509.50 409.41,509.17 409.99,509.17 410.56,507.68 411.14,508.73 411.72,506.62 412.30,507.94 412.87,508.35 413.45,508.77 414.03,507.46 414.61,508.35 415.18,508.60 415.76,507.00 416.34,506.92 416.92,505.16 417.49,505.34 418.07,506.68 418.65,502.33 419.23,503.36 419.80,499.11 420.38,497.62 420.96,498.45 421.54,498.20 422.11,497.81 422.69,495.59 423.27,496.58 423.85,497.20 424.42,497.27 425.00,495.54 425.58,497.08 426.16,496.40 426.73,495.55 427.31,494.00 427.89,492.06 428.47,491.11 429.04,487.59 429.62,484.33 430.20,479.87 430.78,473.16 431.35,468.82 431.93,462.13 432.51,455.98 433.09,449.11 433.66,441.38 434.24,436.54 434.82,431.71 435.39,427.41 435.97,425.63 436.55,425.44 437.13,427.90 437.71,433.22 438.28,436.28 438.86,442.62 439.44,449.08 440.01,457.85 440.59,461.95 441.17,471.73 441.75,475.87 442.33,481.46 442.90,486.07 443.48,488.31 444.06,491.94 444.63,495.88 445.21,496.67 445.79,496.81 446.37,496.66 446.94,501.16 447.52,501.08 448.10,500.89 448.68,502.54 449.25,504.12 449.83,505.53 450.41,506.12 450.99,505.30 451.56,504.89 452.14,506.33 452.72,505.65 453.30,503.76 453.88,504.32 454.45,504.68 455.03,504.56 455.61,505.19 456.19,504.00 456.76,503.69 457.34,503.54 457.92,504.81 458.50,504.74 459.07,503.94 459.65,503.42 460.23,503.33 460.81,503.25 461.38,504.64 461.96,505.42 462.54,503.41 463.12,504.57 463.69,505.01 464.27,506.33 464.85,507.32 465.43,505.61 466.00,506.98 466.58,508.75 467.16,507.82 467.74,508.13 468.31,508.11 468.89,506.75 469.47,508.82 470.05,510.01 470.62,508.98 471.20,509.66 471.78,508.69 472.36,508.98 472.93,508.78 473.51,509.38 474.09,508.23 474.67,508.61 475.24,507.19 475.82,507.29 476.40,507.33 476.98,505.28 477.55,505.73 478.13,503.42 478.71,504.00 479.29,503.90 479.86,504.34 480.44,504.78 481.02,507.20 481.60,504.55 482.17,506.75 482.75,505.57 483.33,507.17 483.91,506.82 484.48,506.84 485.06,507.41 485.64,506.48 486.22,505.78 486.79,506.49 487.37,507.28 487.95,506.87 488.52,506.46 489.10,506.05 489.68,506.70 490.26,507.48 490.84,508.78 491.41,507.14 491.99,507.73 492.57,507.60 493.14,506.11 493.72,505.80 494.30,505.34" fill="none" stroke="#2e3192" stroke-width="1.25" stroke-linejoin="round"/>
<rect x="0" y="0" width="520" height="549" fill="none" stroke="#1c1c1c" stroke-width="3"/>
</svg>
</body></html>
